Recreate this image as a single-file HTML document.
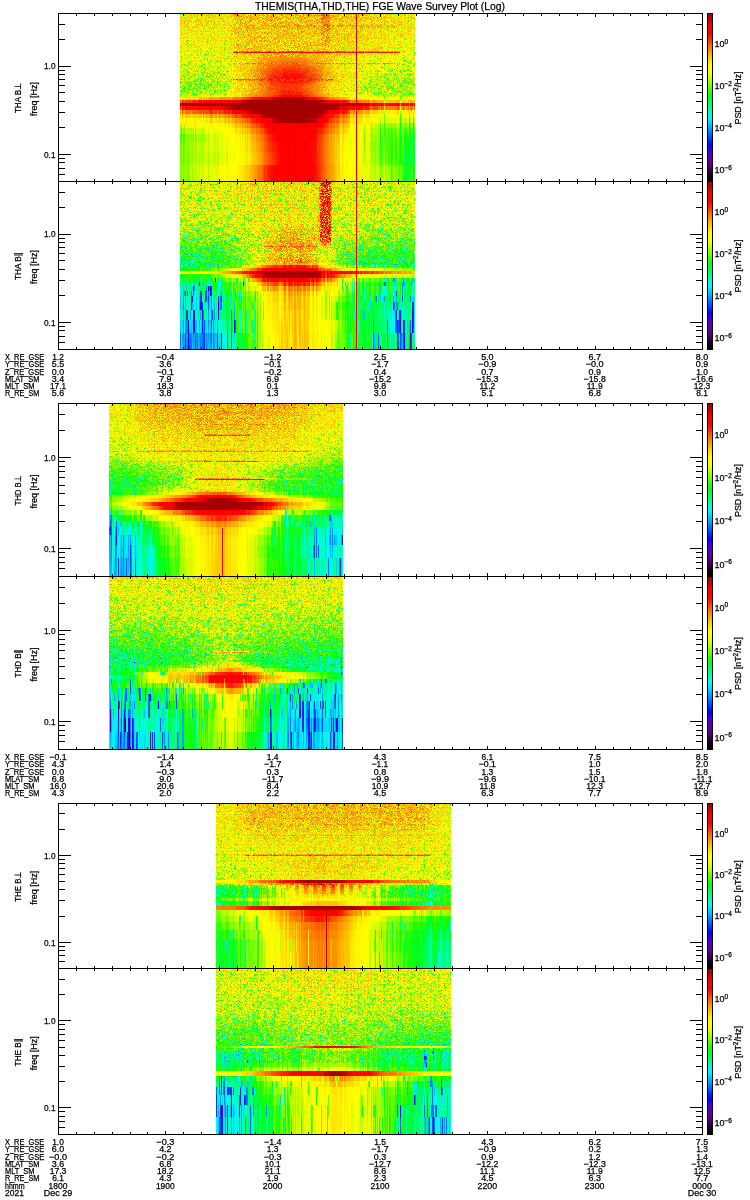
<!DOCTYPE html>
<html lang="en"><head><meta charset="utf-8"><title>THEMIS FGE Wave Survey Plot</title>
<style>html,body{margin:0;padding:0;background:#fff}svg{display:block}</style></head><body>
<svg width="750" height="1200" viewBox="0 0 750 1200">
<rect width="750" height="1200" fill="#fff"/>
<defs><filter id="p1F" filterUnits="userSpaceOnUse" x="180" y="13" width="235" height="168" color-interpolation-filters="sRGB">
<feTurbulence type="fractalNoise" baseFrequency="1.7 1.3" numOctaves="1" seed="3" result="t1"/>
<feColorMatrix in="t1" type="matrix" values="2 0 0 0 -.5  2 0 0 0 -.5  2 0 0 0 -.5  0 0 0 0 1" result="n0"/>
<feComponentTransfer in="n0" result="n1"><feFuncR type="table" tableValues=".115 .169 .220 .269 .316 .360 .401 .441 .478 .513 .547 .578 .608 .637 .663 .689 .713 .736 .758 .778 .798 .817 .835 .852 .868 .884 .899 .913 .927 .940 .953 .966 .977"/><feFuncG type="table" tableValues=".115 .169 .220 .269 .316 .360 .401 .441 .478 .513 .547 .578 .608 .637 .663 .689 .713 .736 .758 .778 .798 .817 .835 .852 .868 .884 .899 .913 .927 .940 .953 .966 .977"/><feFuncB type="table" tableValues=".115 .169 .220 .269 .316 .360 .401 .441 .478 .513 .547 .578 .608 .637 .663 .689 .713 .736 .758 .778 .798 .817 .835 .852 .868 .884 .899 .913 .927 .940 .953 .966 .977"/></feComponentTransfer>
<feTurbulence type="fractalNoise" baseFrequency="1.7 0.012" numOctaves="1" seed="10" result="t2"/>
<feColorMatrix in="t2" type="matrix" values="2 0 0 0 -.5  2 0 0 0 -.5  2 0 0 0 -.5  0 0 0 0 1" result="n20"/>
<feComponentTransfer in="n20" result="n2"><feFuncR type="table" tableValues=".115 .169 .220 .269 .316 .360 .401 .441 .478 .513 .547 .578 .608 .637 .663 .689 .713 .736 .758 .778 .798 .817 .835 .852 .868 .884 .899 .913 .927 .940 .953 .966 .977"/><feFuncG type="table" tableValues=".115 .169 .220 .269 .316 .360 .401 .441 .478 .513 .547 .578 .608 .637 .663 .689 .713 .736 .758 .778 .798 .817 .835 .852 .868 .884 .899 .913 .927 .940 .953 .966 .977"/><feFuncB type="table" tableValues=".115 .169 .220 .269 .316 .360 .401 .441 .478 .513 .547 .578 .608 .637 .663 .689 .713 .736 .758 .778 .798 .817 .835 .852 .868 .884 .899 .913 .927 .940 .953 .966 .977"/></feComponentTransfer>
<feColorMatrix in="SourceGraphic" type="matrix" values="0 1 0 0 0  0 1 0 0 0  0 1 0 0 0  0 0 0 1 0" result="a1"/>
<feColorMatrix in="SourceGraphic" type="matrix" values="0 0 1 0 0  0 0 1 0 0  0 0 1 0 0  0 0 0 1 0" result="a2"/>
<feColorMatrix in="SourceGraphic" type="matrix" values="1 -.7 -.7 0 0  1 -.7 -.7 0 0  1 -.7 -.7 0 0  0 0 0 1 0" result="v"/>
<feComposite in="a1" in2="n1" operator="arithmetic" k1="1" k2="0" k3="0" k4="0" result="m1"/>
<feComposite in="a2" in2="n2" operator="arithmetic" k1="1" k2="0" k3="0" k4="0" result="m2"/>
<feComposite in="v" in2="m1" operator="arithmetic" k1="0" k2="1" k3="1" k4="0" result="v3"/>
<feComposite in="v3" in2="m2" operator="arithmetic" k1="0" k2="1" k3="1" k4="0" result="v4"/>
<feComponentTransfer in="v4"><feFuncR type="table" tableValues="0 0 0 0 0 0 0 0 0 0.01 0.08 0.23 0.32 0.39 0.34 0.28 0.13 0 0 0 0 0 0 0 0 0 0 0 0 0.08 0.28 0.48 0.65 0.84 1 1 1 1 1 1 1 1 1 1 1 0.97 0.79 0.7 0.65 0.65 0.65 0.65 0.65 0.65 0.65 0.65 0.65"/><feFuncG type="table" tableValues="0 0 0 0 0 0 0 0 0 0 0 0 0 0 0 0 0 0.03 0.19 0.36 0.5 0.65 0.8 0.95 1 1 1 1 1 1 1 1 1 1 1 1 0.94 0.83 0.71 0.58 0.45 0.32 0.14 0 0 0 0 0 0 0 0 0 0 0 0 0 0"/><feFuncB type="table" tableValues="0 0 0 0 0 0 0 0 0 0.02 0.12 0.32 0.47 0.58 0.73 0.89 0.95 1 1 1 1 1 1 1 0.86 0.67 0.48 0.3 0.12 0 0 0 0 0 0 0 0 0 0 0 0 0 0 0 0 0 0 0 0 0 0 0 0 0 0 0 0"/></feComponentTransfer>
<feComposite in2="SourceGraphic" operator="in"/>
</filter><clipPath id="p1C"><rect x="180" y="13" width="235" height="168"/></clipPath><linearGradient id="p1g1" gradientUnits="userSpaceOnUse" x1="180" y1="0" x2="415" y2="0"><stop offset="0" stop-color="#a53300"/><stop offset=".213" stop-color="#a53300"/><stop offset=".238" stop-color="#ac3300"/><stop offset=".638" stop-color="#ac3300"/><stop offset="1" stop-color="#a33300"/></linearGradient>
<linearGradient id="p1g2" gradientUnits="userSpaceOnUse" x1="180" y1="0" x2="415" y2="0"><stop offset="0" stop-color="#a53300"/><stop offset=".213" stop-color="#a53300"/><stop offset=".238" stop-color="#ac3300"/><stop offset=".574" stop-color="#ac3300"/><stop offset="1" stop-color="#a33300"/></linearGradient>
<linearGradient id="p1g3" gradientUnits="userSpaceOnUse" x1="180" y1="0" x2="415" y2="0"><stop offset="0" stop-color="#a43300"/><stop offset=".213" stop-color="#a43300"/><stop offset=".238" stop-color="#ac3300"/><stop offset=".574" stop-color="#ac3300"/><stop offset="1" stop-color="#a33300"/></linearGradient>
<linearGradient id="p1g4" gradientUnits="userSpaceOnUse" x1="180" y1="0" x2="415" y2="0"><stop offset="0" stop-color="#a43300"/><stop offset=".213" stop-color="#a43300"/><stop offset=".238" stop-color="#ab3300"/><stop offset=".574" stop-color="#ab3300"/><stop offset="1" stop-color="#a23300"/></linearGradient>
<linearGradient id="p1g5" gradientUnits="userSpaceOnUse" x1="180" y1="0" x2="415" y2="0"><stop offset="0" stop-color="#a43300"/><stop offset=".213" stop-color="#a43300"/><stop offset=".238" stop-color="#ab3300"/><stop offset=".574" stop-color="#ab3300"/><stop offset="1" stop-color="#a23300"/></linearGradient>
<linearGradient id="p1g6" gradientUnits="userSpaceOnUse" x1="180" y1="0" x2="415" y2="0"><stop offset="0" stop-color="#a43300"/><stop offset=".213" stop-color="#a43300"/><stop offset=".238" stop-color="#ab3300"/><stop offset=".574" stop-color="#ab3300"/><stop offset="1" stop-color="#a23300"/></linearGradient>
<linearGradient id="p1g7" gradientUnits="userSpaceOnUse" x1="180" y1="0" x2="415" y2="0"><stop offset="0" stop-color="#a43300"/><stop offset=".213" stop-color="#a43300"/><stop offset=".238" stop-color="#ab3300"/><stop offset=".574" stop-color="#ab3300"/><stop offset="1" stop-color="#a23300"/></linearGradient>
<linearGradient id="p1g8" gradientUnits="userSpaceOnUse" x1="180" y1="0" x2="415" y2="0"><stop offset="0" stop-color="#a33300"/><stop offset=".213" stop-color="#a33300"/><stop offset=".238" stop-color="#ab3300"/><stop offset=".574" stop-color="#ab3300"/><stop offset="1" stop-color="#a23300"/></linearGradient>
<linearGradient id="p1g9" gradientUnits="userSpaceOnUse" x1="180" y1="0" x2="415" y2="0"><stop offset="0" stop-color="#a33300"/><stop offset=".213" stop-color="#a33300"/><stop offset=".238" stop-color="#aa3300"/><stop offset=".574" stop-color="#aa3300"/><stop offset=".757" stop-color="#a53300"/><stop offset="1" stop-color="#a13300"/></linearGradient>
<linearGradient id="p1g10" gradientUnits="userSpaceOnUse" x1="180" y1="0" x2="415" y2="0"><stop offset="0" stop-color="#a33300"/><stop offset=".213" stop-color="#a33300"/><stop offset=".238" stop-color="#aa3300"/><stop offset=".574" stop-color="#aa3300"/><stop offset=".757" stop-color="#a53300"/><stop offset="1" stop-color="#a13300"/></linearGradient>
<linearGradient id="p1g11" gradientUnits="userSpaceOnUse" x1="180" y1="0" x2="415" y2="0"><stop offset="0" stop-color="#a23300"/><stop offset=".213" stop-color="#a23300"/><stop offset=".238" stop-color="#aa3300"/><stop offset=".574" stop-color="#aa3300"/><stop offset="1" stop-color="#a13300"/></linearGradient>
<linearGradient id="p1g12" gradientUnits="userSpaceOnUse" x1="180" y1="0" x2="415" y2="0"><stop offset="0" stop-color="#a23300"/><stop offset=".213" stop-color="#a23300"/><stop offset=".238" stop-color="#a93300"/><stop offset=".574" stop-color="#aa3300"/><stop offset="1" stop-color="#a03300"/></linearGradient>
<linearGradient id="p1g13" gradientUnits="userSpaceOnUse" x1="180" y1="0" x2="415" y2="0"><stop offset="0" stop-color="#a13300"/><stop offset=".213" stop-color="#a23300"/><stop offset=".238" stop-color="#a93300"/><stop offset=".574" stop-color="#aa3300"/><stop offset="1" stop-color="#a03300"/></linearGradient>
<linearGradient id="p1g14" gradientUnits="userSpaceOnUse" x1="180" y1="0" x2="415" y2="0"><stop offset="0" stop-color="#a13300"/><stop offset=".213" stop-color="#a13300"/><stop offset=".238" stop-color="#a93300"/><stop offset=".574" stop-color="#a93300"/><stop offset="1" stop-color="#a03300"/></linearGradient>
<linearGradient id="p1g15" gradientUnits="userSpaceOnUse" x1="180" y1="0" x2="415" y2="0"><stop offset="0" stop-color="#a03300"/><stop offset=".213" stop-color="#a13300"/><stop offset=".238" stop-color="#a83300"/><stop offset=".574" stop-color="#a93300"/><stop offset="1" stop-color="#9f3300"/></linearGradient>
<linearGradient id="p1g16" gradientUnits="userSpaceOnUse" x1="180" y1="0" x2="415" y2="0"><stop offset="0" stop-color="#9f3300"/><stop offset=".213" stop-color="#a13300"/><stop offset=".238" stop-color="#a83300"/><stop offset=".574" stop-color="#a93300"/><stop offset="1" stop-color="#9f3300"/></linearGradient>
<linearGradient id="p1g17" gradientUnits="userSpaceOnUse" x1="180" y1="0" x2="415" y2="0"><stop offset="0" stop-color="#9f3300"/><stop offset=".17" stop-color="#9f3300"/><stop offset=".213" stop-color="#a03300"/><stop offset=".238" stop-color="#a73300"/><stop offset=".319" stop-color="#a93300"/><stop offset=".574" stop-color="#a93300"/><stop offset="1" stop-color="#9f3300"/></linearGradient>
<linearGradient id="p1g18" gradientUnits="userSpaceOnUse" x1="180" y1="0" x2="415" y2="0"><stop offset="0" stop-color="#9e3300"/><stop offset=".17" stop-color="#9e3300"/><stop offset=".213" stop-color="#a03300"/><stop offset=".238" stop-color="#a73300"/><stop offset=".319" stop-color="#a93300"/><stop offset=".574" stop-color="#a93300"/><stop offset="1" stop-color="#9e3300"/></linearGradient>
<linearGradient id="p1g19" gradientUnits="userSpaceOnUse" x1="180" y1="0" x2="415" y2="0"><stop offset="0" stop-color="#9e3300"/><stop offset=".17" stop-color="#9e3300"/><stop offset=".213" stop-color="#a03300"/><stop offset=".238" stop-color="#a73300"/><stop offset=".319" stop-color="#a93300"/><stop offset=".574" stop-color="#a93300"/><stop offset="1" stop-color="#9e3300"/></linearGradient>
<linearGradient id="p1g20" gradientUnits="userSpaceOnUse" x1="180" y1="0" x2="415" y2="0"><stop offset="0" stop-color="#9d3300"/><stop offset=".17" stop-color="#9d3300"/><stop offset=".213" stop-color="#9f3300"/><stop offset=".238" stop-color="#a63300"/><stop offset=".447" stop-color="#ab3300"/><stop offset=".574" stop-color="#aa3300"/><stop offset=".809" stop-color="#a13300"/><stop offset=".894" stop-color="#a13300"/><stop offset="1" stop-color="#9d3300"/></linearGradient>
<linearGradient id="p1g21" gradientUnits="userSpaceOnUse" x1="180" y1="0" x2="415" y2="0"><stop offset="0" stop-color="#9d3300"/><stop offset=".17" stop-color="#9d3300"/><stop offset=".213" stop-color="#9e3300"/><stop offset=".238" stop-color="#a63300"/><stop offset=".447" stop-color="#ad3300"/><stop offset=".574" stop-color="#ab3300"/><stop offset=".809" stop-color="#a03300"/><stop offset="1" stop-color="#9d3300"/></linearGradient>
<linearGradient id="p1g22" gradientUnits="userSpaceOnUse" x1="180" y1="0" x2="415" y2="0"><stop offset="0" stop-color="#9c3300"/><stop offset=".17" stop-color="#9c3300"/><stop offset=".213" stop-color="#9e3300"/><stop offset=".238" stop-color="#a53300"/><stop offset=".383" stop-color="#ae3300"/><stop offset=".447" stop-color="#b03300"/><stop offset=".511" stop-color="#b03300"/><stop offset=".757" stop-color="#a13300"/><stop offset="1" stop-color="#9c3300"/></linearGradient>
<linearGradient id="p1g23" gradientUnits="userSpaceOnUse" x1="180" y1="0" x2="415" y2="0"><stop offset="0" stop-color="#9b3300"/><stop offset=".17" stop-color="#9b3300"/><stop offset=".213" stop-color="#9d3300"/><stop offset=".238" stop-color="#a42e00"/><stop offset=".383" stop-color="#b00d00"/><stop offset=".447" stop-color="#b20a00"/><stop offset=".511" stop-color="#b20a00"/><stop offset=".574" stop-color="#ad0f00"/><stop offset=".702" stop-color="#a33300"/><stop offset=".757" stop-color="#a03300"/><stop offset="1" stop-color="#9b3300"/></linearGradient>
<linearGradient id="p1g24" gradientUnits="userSpaceOnUse" x1="180" y1="0" x2="415" y2="0"><stop offset="0" stop-color="#9b3300"/><stop offset=".17" stop-color="#9b3300"/><stop offset=".213" stop-color="#9d3300"/><stop offset=".238" stop-color="#a42e00"/><stop offset=".383" stop-color="#b10d00"/><stop offset=".447" stop-color="#b40a00"/><stop offset=".511" stop-color="#b40a00"/><stop offset=".574" stop-color="#af0f00"/><stop offset=".702" stop-color="#a23300"/><stop offset=".757" stop-color="#9f3300"/><stop offset="1" stop-color="#9b3300"/></linearGradient>
<linearGradient id="p1g25" gradientUnits="userSpaceOnUse" x1="180" y1="0" x2="415" y2="0"><stop offset="0" stop-color="#9a3300"/><stop offset=".17" stop-color="#9a3300"/><stop offset=".213" stop-color="#9c3300"/><stop offset=".238" stop-color="#a32e00"/><stop offset=".319" stop-color="#aa1a00"/><stop offset=".383" stop-color="#b30d00"/><stop offset=".447" stop-color="#b70a00"/><stop offset=".511" stop-color="#b70a00"/><stop offset=".574" stop-color="#b00f00"/><stop offset=".702" stop-color="#a13300"/><stop offset=".757" stop-color="#9e3300"/><stop offset="1" stop-color="#9a3300"/></linearGradient>
<linearGradient id="p1g26" gradientUnits="userSpaceOnUse" x1="180" y1="0" x2="415" y2="0"><stop offset="0" stop-color="#993300"/><stop offset=".17" stop-color="#993300"/><stop offset=".213" stop-color="#9b3300"/><stop offset=".238" stop-color="#a32e00"/><stop offset=".319" stop-color="#ab1a00"/><stop offset=".383" stop-color="#b50d00"/><stop offset=".447" stop-color="#b90a00"/><stop offset=".511" stop-color="#b90a00"/><stop offset=".574" stop-color="#b10f00"/><stop offset=".702" stop-color="#a13300"/><stop offset=".757" stop-color="#9d3300"/><stop offset="1" stop-color="#9a3300"/></linearGradient>
<linearGradient id="p1g27" gradientUnits="userSpaceOnUse" x1="180" y1="0" x2="415" y2="0"><stop offset="0" stop-color="#983300"/><stop offset=".17" stop-color="#983300"/><stop offset=".213" stop-color="#9a3300"/><stop offset=".238" stop-color="#a32e00"/><stop offset=".319" stop-color="#ac1a00"/><stop offset=".383" stop-color="#b70d00"/><stop offset=".447" stop-color="#ba0a00"/><stop offset=".511" stop-color="#ba0a00"/><stop offset=".574" stop-color="#b30f00"/><stop offset=".702" stop-color="#a13300"/><stop offset=".757" stop-color="#9d3300"/><stop offset="1" stop-color="#993300"/></linearGradient>
<linearGradient id="p1g28" gradientUnits="userSpaceOnUse" x1="180" y1="0" x2="415" y2="0"><stop offset="0" stop-color="#983300"/><stop offset=".17" stop-color="#983300"/><stop offset=".213" stop-color="#993300"/><stop offset=".238" stop-color="#a32e00"/><stop offset=".319" stop-color="#ad1a00"/><stop offset=".383" stop-color="#b90d00"/><stop offset=".447" stop-color="#bc0a00"/><stop offset=".511" stop-color="#bc0a00"/><stop offset=".574" stop-color="#b50f00"/><stop offset=".702" stop-color="#a13300"/><stop offset=".757" stop-color="#9d3300"/><stop offset="1" stop-color="#993300"/></linearGradient>
<linearGradient id="p1g29" gradientUnits="userSpaceOnUse" x1="180" y1="0" x2="415" y2="0"><stop offset="0" stop-color="#973300"/><stop offset=".17" stop-color="#973300"/><stop offset=".213" stop-color="#983300"/><stop offset=".238" stop-color="#a32e00"/><stop offset=".319" stop-color="#ae1a00"/><stop offset=".383" stop-color="#ba0d00"/><stop offset=".447" stop-color="#be0a00"/><stop offset=".511" stop-color="#be0a00"/><stop offset=".574" stop-color="#b70f00"/><stop offset=".638" stop-color="#aa1f00"/><stop offset=".702" stop-color="#a13300"/><stop offset=".757" stop-color="#9c3300"/><stop offset="1" stop-color="#983300"/></linearGradient>
<linearGradient id="p1g30" gradientUnits="userSpaceOnUse" x1="180" y1="0" x2="415" y2="0"><stop offset="0" stop-color="#963300"/><stop offset=".17" stop-color="#963300"/><stop offset=".213" stop-color="#983300"/><stop offset=".238" stop-color="#a32e00"/><stop offset=".319" stop-color="#ae1a00"/><stop offset=".383" stop-color="#bb0d00"/><stop offset=".447" stop-color="#bf0a00"/><stop offset=".511" stop-color="#bf0a00"/><stop offset=".574" stop-color="#b80f00"/><stop offset=".638" stop-color="#ab1f00"/><stop offset=".702" stop-color="#a23300"/><stop offset=".757" stop-color="#9c3300"/><stop offset="1" stop-color="#973300"/></linearGradient>
<linearGradient id="p1g31" gradientUnits="userSpaceOnUse" x1="180" y1="0" x2="415" y2="0"><stop offset="0" stop-color="#953300"/><stop offset=".17" stop-color="#953300"/><stop offset=".213" stop-color="#983300"/><stop offset=".238" stop-color="#a32e00"/><stop offset=".319" stop-color="#ae1a00"/><stop offset=".383" stop-color="#bc0d00"/><stop offset=".447" stop-color="#c10a00"/><stop offset=".511" stop-color="#c10a00"/><stop offset=".574" stop-color="#b90f00"/><stop offset=".638" stop-color="#ab1f00"/><stop offset=".702" stop-color="#a23300"/><stop offset=".757" stop-color="#9b3300"/><stop offset=".809" stop-color="#983300"/><stop offset="1" stop-color="#963300"/></linearGradient>
<linearGradient id="p1g32" gradientUnits="userSpaceOnUse" x1="180" y1="0" x2="415" y2="0"><stop offset="0" stop-color="#943300"/><stop offset=".17" stop-color="#943300"/><stop offset=".213" stop-color="#973300"/><stop offset=".238" stop-color="#a32e00"/><stop offset=".319" stop-color="#ae1a00"/><stop offset=".383" stop-color="#bd0d00"/><stop offset=".447" stop-color="#c20a00"/><stop offset=".511" stop-color="#c20a00"/><stop offset=".574" stop-color="#ba0f00"/><stop offset=".638" stop-color="#ac1f00"/><stop offset=".702" stop-color="#a33300"/><stop offset=".757" stop-color="#9b3300"/><stop offset=".809" stop-color="#983300"/><stop offset="1" stop-color="#943300"/></linearGradient>
<linearGradient id="p1g33" gradientUnits="userSpaceOnUse" x1="180" y1="0" x2="415" y2="0"><stop offset="0" stop-color="#933300"/><stop offset=".17" stop-color="#933300"/><stop offset=".213" stop-color="#973300"/><stop offset=".238" stop-color="#a32e00"/><stop offset=".319" stop-color="#ae1a00"/><stop offset=".383" stop-color="#be0d00"/><stop offset=".447" stop-color="#c30a00"/><stop offset=".511" stop-color="#c30a00"/><stop offset=".574" stop-color="#ba0f00"/><stop offset=".638" stop-color="#ac1f00"/><stop offset=".702" stop-color="#a33300"/><stop offset=".757" stop-color="#9a3300"/><stop offset=".809" stop-color="#973300"/><stop offset="1" stop-color="#933300"/></linearGradient>
<linearGradient id="p1g34" gradientUnits="userSpaceOnUse" x1="180" y1="0" x2="415" y2="0"><stop offset="0" stop-color="#933300"/><stop offset=".17" stop-color="#933300"/><stop offset=".213" stop-color="#973300"/><stop offset=".238" stop-color="#a32e00"/><stop offset=".319" stop-color="#ad1a00"/><stop offset=".383" stop-color="#bd0d00"/><stop offset=".447" stop-color="#c20a00"/><stop offset=".511" stop-color="#c20a00"/><stop offset=".574" stop-color="#b90f00"/><stop offset=".638" stop-color="#ab1f00"/><stop offset=".702" stop-color="#a23300"/><stop offset=".757" stop-color="#993300"/><stop offset=".809" stop-color="#963300"/><stop offset="1" stop-color="#923300"/></linearGradient>
<linearGradient id="p1g35" gradientUnits="userSpaceOnUse" x1="180" y1="0" x2="415" y2="0"><stop offset="0" stop-color="#923300"/><stop offset=".17" stop-color="#923300"/><stop offset=".213" stop-color="#973300"/><stop offset=".238" stop-color="#a32e00"/><stop offset=".319" stop-color="#ad1a00"/><stop offset=".383" stop-color="#bb0d00"/><stop offset=".447" stop-color="#c10a00"/><stop offset=".511" stop-color="#c00a00"/><stop offset=".574" stop-color="#b70f00"/><stop offset=".638" stop-color="#a91f00"/><stop offset=".702" stop-color="#a13300"/><stop offset=".757" stop-color="#983300"/><stop offset=".809" stop-color="#953300"/><stop offset="1" stop-color="#913300"/></linearGradient>
<linearGradient id="p1g36" gradientUnits="userSpaceOnUse" x1="180" y1="0" x2="415" y2="0"><stop offset="0" stop-color="#923300"/><stop offset=".17" stop-color="#923300"/><stop offset=".213" stop-color="#973300"/><stop offset=".238" stop-color="#a32e00"/><stop offset=".319" stop-color="#ad1a00"/><stop offset=".383" stop-color="#ba0d00"/><stop offset=".447" stop-color="#bf0a00"/><stop offset=".511" stop-color="#be0a00"/><stop offset=".574" stop-color="#b50f00"/><stop offset=".638" stop-color="#a81f00"/><stop offset=".702" stop-color="#9f3300"/><stop offset=".757" stop-color="#983300"/><stop offset=".809" stop-color="#943300"/><stop offset="1" stop-color="#903300"/></linearGradient>
<linearGradient id="p1g37" gradientUnits="userSpaceOnUse" x1="180" y1="0" x2="415" y2="0"><stop offset="0" stop-color="#913300"/><stop offset=".17" stop-color="#913300"/><stop offset=".213" stop-color="#973300"/><stop offset=".238" stop-color="#a32e00"/><stop offset=".319" stop-color="#ac1a00"/><stop offset=".383" stop-color="#b90d00"/><stop offset=".447" stop-color="#be0a00"/><stop offset=".511" stop-color="#bc0a00"/><stop offset=".574" stop-color="#b30f00"/><stop offset=".638" stop-color="#a71f00"/><stop offset=".702" stop-color="#9e3300"/><stop offset=".757" stop-color="#973300"/><stop offset=".809" stop-color="#933300"/><stop offset="1" stop-color="#903300"/></linearGradient>
<linearGradient id="p1g38" gradientUnits="userSpaceOnUse" x1="180" y1="0" x2="415" y2="0"><stop offset="0" stop-color="#923300"/><stop offset=".17" stop-color="#923300"/><stop offset=".213" stop-color="#983300"/><stop offset=".238" stop-color="#a32e00"/><stop offset=".319" stop-color="#ad1a00"/><stop offset=".383" stop-color="#b90d00"/><stop offset=".447" stop-color="#be0a00"/><stop offset=".511" stop-color="#bd0a00"/><stop offset=".574" stop-color="#b40f00"/><stop offset=".638" stop-color="#a71f00"/><stop offset=".702" stop-color="#9e3300"/><stop offset=".757" stop-color="#973300"/><stop offset=".809" stop-color="#943300"/><stop offset="1" stop-color="#903300"/></linearGradient>
<linearGradient id="p1g39" gradientUnits="userSpaceOnUse" x1="180" y1="0" x2="415" y2="0"><stop offset="0" stop-color="#923300"/><stop offset=".17" stop-color="#933300"/><stop offset=".213" stop-color="#993300"/><stop offset=".238" stop-color="#a32e00"/><stop offset=".319" stop-color="#ad1a00"/><stop offset=".383" stop-color="#b90d00"/><stop offset=".447" stop-color="#bf0a00"/><stop offset=".511" stop-color="#be0a00"/><stop offset=".574" stop-color="#b40f00"/><stop offset=".638" stop-color="#a71f00"/><stop offset=".702" stop-color="#9f3300"/><stop offset=".757" stop-color="#983300"/><stop offset=".809" stop-color="#943300"/><stop offset="1" stop-color="#913300"/></linearGradient>
<linearGradient id="p1g40" gradientUnits="userSpaceOnUse" x1="180" y1="0" x2="415" y2="0"><stop offset="0" stop-color="#933300"/><stop offset=".17" stop-color="#943300"/><stop offset=".213" stop-color="#9a3300"/><stop offset=".238" stop-color="#a32e00"/><stop offset=".319" stop-color="#ae1a00"/><stop offset=".383" stop-color="#b90d00"/><stop offset=".447" stop-color="#c00a00"/><stop offset=".511" stop-color="#bf0a00"/><stop offset=".574" stop-color="#b50f00"/><stop offset=".638" stop-color="#a71f00"/><stop offset=".702" stop-color="#9f3300"/><stop offset=".757" stop-color="#983300"/><stop offset=".809" stop-color="#953300"/><stop offset="1" stop-color="#913300"/></linearGradient>
<linearGradient id="p1g41" gradientUnits="userSpaceOnUse" x1="180" y1="0" x2="415" y2="0"><stop offset="0" stop-color="#933300"/><stop offset=".17" stop-color="#953300"/><stop offset=".213" stop-color="#9a3300"/><stop offset=".238" stop-color="#a32e00"/><stop offset=".383" stop-color="#b90d00"/><stop offset=".447" stop-color="#c00a00"/><stop offset=".511" stop-color="#c00a00"/><stop offset=".574" stop-color="#b50f00"/><stop offset=".638" stop-color="#a71f00"/><stop offset=".702" stop-color="#a03300"/><stop offset=".757" stop-color="#983300"/><stop offset=".809" stop-color="#953300"/><stop offset="1" stop-color="#913300"/></linearGradient>
<linearGradient id="p1g42" gradientUnits="userSpaceOnUse" x1="180" y1="0" x2="415" y2="0"><stop offset="0" stop-color="#950013"/><stop offset=".085" stop-color="#980013"/><stop offset=".213" stop-color="#a1000d"/><stop offset=".383" stop-color="#bc0004"/><stop offset=".447" stop-color="#c30002"/><stop offset=".511" stop-color="#c30002"/><stop offset=".574" stop-color="#b90004"/><stop offset=".638" stop-color="#a90008"/><stop offset=".757" stop-color="#9a0013"/><stop offset=".809" stop-color="#97001b"/><stop offset="1" stop-color="#930026"/></linearGradient>
<linearGradient id="p1g43" gradientUnits="userSpaceOnUse" x1="180" y1="0" x2="415" y2="0"><stop offset="0" stop-color="#a30013"/><stop offset=".085" stop-color="#a90013"/><stop offset=".17" stop-color="#b1000f"/><stop offset=".238" stop-color="#b5000b"/><stop offset=".383" stop-color="#cc0004"/><stop offset=".447" stop-color="#dc0002"/><stop offset=".511" stop-color="#d80002"/><stop offset=".638" stop-color="#b50008"/><stop offset=".702" stop-color="#ac000d"/><stop offset=".757" stop-color="#a10013"/><stop offset=".809" stop-color="#9e001b"/><stop offset="1" stop-color="#980026"/></linearGradient>
<linearGradient id="p1g44" gradientUnits="userSpaceOnUse" x1="180" y1="0" x2="415" y2="0"><stop offset="0" stop-color="#bc0013"/><stop offset=".238" stop-color="#cc000b"/><stop offset=".319" stop-color="#e00008"/><stop offset=".383" stop-color="#e40004"/><stop offset=".511" stop-color="#e40002"/><stop offset=".574" stop-color="#dc0004"/><stop offset=".638" stop-color="#c90008"/><stop offset=".702" stop-color="#c0000d"/><stop offset=".757" stop-color="#b50013"/><stop offset=".894" stop-color="#aa0022"/><stop offset="1" stop-color="#a70026"/></linearGradient>
<linearGradient id="p1g45" gradientUnits="userSpaceOnUse" x1="180" y1="0" x2="415" y2="0"><stop offset="0" stop-color="#dc0013"/><stop offset=".085" stop-color="#dc0013"/><stop offset=".213" stop-color="#e0000d"/><stop offset=".238" stop-color="#e4000b"/><stop offset=".574" stop-color="#e40004"/><stop offset=".638" stop-color="#e00008"/><stop offset=".702" stop-color="#e0000d"/><stop offset=".757" stop-color="#d40013"/><stop offset=".809" stop-color="#cc001b"/><stop offset="1" stop-color="#c30026"/></linearGradient>
<linearGradient id="p1g46" gradientUnits="userSpaceOnUse" x1="180" y1="0" x2="415" y2="0"><stop offset="0" stop-color="#c30013"/><stop offset=".17" stop-color="#ca000f"/><stop offset=".238" stop-color="#dc000b"/><stop offset=".319" stop-color="#e40008"/><stop offset=".574" stop-color="#e40004"/><stop offset=".638" stop-color="#dc0008"/><stop offset=".702" stop-color="#cc000d"/><stop offset=".809" stop-color="#bc001b"/><stop offset=".894" stop-color="#b50022"/><stop offset="1" stop-color="#b10026"/></linearGradient>
<linearGradient id="p1g47" gradientUnits="userSpaceOnUse" x1="180" y1="0" x2="415" y2="0"><stop offset="0" stop-color="#b50013"/><stop offset=".17" stop-color="#be000f"/><stop offset=".238" stop-color="#c7000b"/><stop offset=".319" stop-color="#d80008"/><stop offset=".383" stop-color="#e00004"/><stop offset=".447" stop-color="#e40002"/><stop offset=".511" stop-color="#e40002"/><stop offset=".574" stop-color="#e00004"/><stop offset=".638" stop-color="#cc0008"/><stop offset=".702" stop-color="#c0000d"/><stop offset=".757" stop-color="#b10013"/><stop offset=".809" stop-color="#aa001b"/><stop offset=".894" stop-color="#a30022"/><stop offset="1" stop-color="#a00026"/></linearGradient>
<linearGradient id="p1g48" gradientUnits="userSpaceOnUse" x1="180" y1="0" x2="415" y2="0"><stop offset="0" stop-color="#a90013"/><stop offset=".085" stop-color="#aa0013"/><stop offset=".17" stop-color="#b1000f"/><stop offset=".238" stop-color="#ba000b"/><stop offset=".319" stop-color="#c90008"/><stop offset=".383" stop-color="#dc0004"/><stop offset=".447" stop-color="#e40002"/><stop offset=".511" stop-color="#e40002"/><stop offset=".574" stop-color="#dc0004"/><stop offset=".638" stop-color="#c30008"/><stop offset=".757" stop-color="#a90013"/><stop offset=".809" stop-color="#a1001b"/><stop offset="1" stop-color="#970026"/></linearGradient>
<linearGradient id="p1g49" gradientUnits="userSpaceOnUse" x1="180" y1="0" x2="415" y2="0"><stop offset="0" stop-color="#a00013"/><stop offset=".085" stop-color="#a10013"/><stop offset=".17" stop-color="#a9000f"/><stop offset=".238" stop-color="#b1000b"/><stop offset=".383" stop-color="#cc0004"/><stop offset=".447" stop-color="#e00002"/><stop offset=".511" stop-color="#e00002"/><stop offset=".574" stop-color="#d40004"/><stop offset=".638" stop-color="#be0008"/><stop offset=".757" stop-color="#a50013"/><stop offset=".809" stop-color="#9e001b"/><stop offset="1" stop-color="#910026"/></linearGradient>
<linearGradient id="p1g50" gradientUnits="userSpaceOnUse" x1="180" y1="0" x2="415" y2="0"><stop offset="0" stop-color="#970013"/><stop offset=".17" stop-color="#a1000f"/><stop offset=".238" stop-color="#aa000b"/><stop offset=".319" stop-color="#b90008"/><stop offset=".383" stop-color="#c70004"/><stop offset=".447" stop-color="#cc0002"/><stop offset=".511" stop-color="#cc0002"/><stop offset=".574" stop-color="#ca0004"/><stop offset=".638" stop-color="#b90008"/><stop offset=".702" stop-color="#aa000d"/><stop offset=".809" stop-color="#97001b"/><stop offset="1" stop-color="#8a0026"/></linearGradient>
<linearGradient id="p1g51" gradientUnits="userSpaceOnUse" x1="180" y1="0" x2="415" y2="0"><stop offset="0" stop-color="#900013"/><stop offset=".085" stop-color="#950013"/><stop offset=".213" stop-color="#a1000d"/><stop offset=".319" stop-color="#b30008"/><stop offset=".383" stop-color="#c30004"/><stop offset=".447" stop-color="#c90002"/><stop offset=".511" stop-color="#c90002"/><stop offset=".574" stop-color="#c50004"/><stop offset=".702" stop-color="#a7000d"/><stop offset=".809" stop-color="#95001b"/><stop offset=".894" stop-color="#8c0022"/><stop offset="1" stop-color="#850026"/></linearGradient>
<linearGradient id="p1g52" gradientUnits="userSpaceOnUse" x1="180" y1="0" x2="415" y2="0"><stop offset="0" stop-color="#8a0013"/><stop offset=".085" stop-color="#900013"/><stop offset=".238" stop-color="#a1000b"/><stop offset=".319" stop-color="#ae0008"/><stop offset=".383" stop-color="#c00004"/><stop offset=".447" stop-color="#c90002"/><stop offset=".511" stop-color="#c90002"/><stop offset=".574" stop-color="#c30004"/><stop offset=".638" stop-color="#b10008"/><stop offset=".702" stop-color="#a3000d"/><stop offset=".809" stop-color="#93001b"/><stop offset="1" stop-color="#800026"/></linearGradient>
<linearGradient id="p1g53" gradientUnits="userSpaceOnUse" x1="180" y1="0" x2="415" y2="0"><stop offset="0" stop-color="#8c0013"/><stop offset=".213" stop-color="#9c000d"/><stop offset=".319" stop-color="#ac0008"/><stop offset=".383" stop-color="#be0004"/><stop offset=".447" stop-color="#c70002"/><stop offset=".511" stop-color="#c90002"/><stop offset=".574" stop-color="#c20004"/><stop offset=".638" stop-color="#b00008"/><stop offset=".702" stop-color="#a1000d"/><stop offset=".757" stop-color="#9c0013"/><stop offset=".809" stop-color="#91001b"/><stop offset="1" stop-color="#800026"/></linearGradient>
<linearGradient id="p1g54" gradientUnits="userSpaceOnUse" x1="180" y1="0" x2="415" y2="0"><stop offset="0" stop-color="#8c0013"/><stop offset=".213" stop-color="#9a000d"/><stop offset=".319" stop-color="#aa0008"/><stop offset=".383" stop-color="#bc0004"/><stop offset=".447" stop-color="#c70002"/><stop offset=".511" stop-color="#c90002"/><stop offset=".574" stop-color="#c20004"/><stop offset=".638" stop-color="#b00008"/><stop offset=".702" stop-color="#a1000d"/><stop offset=".757" stop-color="#9c0013"/><stop offset=".809" stop-color="#93001b"/><stop offset=".894" stop-color="#880022"/><stop offset="1" stop-color="#800026"/></linearGradient>
<linearGradient id="p1g55" gradientUnits="userSpaceOnUse" x1="180" y1="0" x2="415" y2="0"><stop offset="0" stop-color="#8e0013"/><stop offset=".238" stop-color="#a0000b"/><stop offset=".319" stop-color="#b00008"/><stop offset=".383" stop-color="#c20004"/><stop offset=".447" stop-color="#c90002"/><stop offset=".511" stop-color="#c90002"/><stop offset=".574" stop-color="#c30004"/><stop offset=".638" stop-color="#b10008"/><stop offset=".702" stop-color="#a3000d"/><stop offset=".757" stop-color="#9e0013"/><stop offset=".809" stop-color="#95001b"/><stop offset="1" stop-color="#830026"/></linearGradient>
<linearGradient id="p1g56" gradientUnits="userSpaceOnUse" x1="0" y1="13" x2="0" y2="53"><stop offset="0" stop-color="#b53d00" stop-opacity="0.8"/><stop offset=".675" stop-color="#b13d00" stop-opacity="0.6"/><stop offset="1" stop-color="#ac3d00" stop-opacity="0"/></linearGradient></defs>
<g filter="url(#p1F)"><g clip-path="url(#p1C)">
<rect x="180" y="13" width="235" height="168" fill="#910000"/>
<rect x="180" y="13" width="235" height="2" fill="url(#p1g1)"/>
<rect x="180" y="15" width="235" height="2" fill="url(#p1g2)"/>
<rect x="180" y="17" width="235" height="2" fill="url(#p1g3)"/>
<rect x="180" y="19" width="235" height="2" fill="url(#p1g4)"/>
<rect x="180" y="21" width="235" height="2" fill="url(#p1g5)"/>
<rect x="180" y="23" width="235" height="2" fill="url(#p1g6)"/>
<rect x="180" y="25" width="235" height="2" fill="url(#p1g7)"/>
<rect x="180" y="27" width="235" height="2" fill="url(#p1g8)"/>
<rect x="180" y="29" width="235" height="2" fill="url(#p1g9)"/>
<rect x="180" y="31" width="235" height="2" fill="url(#p1g10)"/>
<rect x="180" y="33" width="235" height="2" fill="url(#p1g11)"/>
<rect x="180" y="35" width="235" height="2" fill="url(#p1g12)"/>
<rect x="180" y="37" width="235" height="2" fill="url(#p1g13)"/>
<rect x="180" y="39" width="235" height="2" fill="url(#p1g14)"/>
<rect x="180" y="41" width="235" height="2" fill="url(#p1g15)"/>
<rect x="180" y="43" width="235" height="2" fill="url(#p1g16)"/>
<rect x="180" y="45" width="235" height="2" fill="url(#p1g17)"/>
<rect x="180" y="47" width="235" height="2" fill="url(#p1g18)"/>
<rect x="180" y="49" width="235" height="2" fill="url(#p1g19)"/>
<rect x="180" y="51" width="235" height="2" fill="url(#p1g20)"/>
<rect x="180" y="53" width="235" height="2" fill="url(#p1g21)"/>
<rect x="180" y="55" width="235" height="2" fill="url(#p1g22)"/>
<rect x="180" y="57" width="235" height="2" fill="url(#p1g23)"/>
<rect x="180" y="59" width="235" height="2" fill="url(#p1g24)"/>
<rect x="180" y="61" width="235" height="2" fill="url(#p1g25)"/>
<rect x="180" y="63" width="235" height="2" fill="url(#p1g26)"/>
<rect x="180" y="65" width="235" height="2" fill="url(#p1g27)"/>
<rect x="180" y="67" width="235" height="2" fill="url(#p1g28)"/>
<rect x="180" y="69" width="235" height="2" fill="url(#p1g29)"/>
<rect x="180" y="71" width="235" height="2" fill="url(#p1g30)"/>
<rect x="180" y="73" width="235" height="2" fill="url(#p1g31)"/>
<rect x="180" y="75" width="235" height="2" fill="url(#p1g32)"/>
<rect x="180" y="77" width="235" height="2" fill="url(#p1g33)"/>
<rect x="180" y="79" width="235" height="2" fill="url(#p1g34)"/>
<rect x="180" y="81" width="235" height="2" fill="url(#p1g35)"/>
<rect x="180" y="83" width="235" height="2" fill="url(#p1g36)"/>
<rect x="180" y="85" width="235" height="2" fill="url(#p1g37)"/>
<rect x="180" y="87" width="235" height="2" fill="url(#p1g38)"/>
<rect x="180" y="89" width="235" height="2" fill="url(#p1g39)"/>
<rect x="180" y="91" width="235" height="2" fill="url(#p1g40)"/>
<rect x="180" y="93" width="235" height="2" fill="url(#p1g41)"/>
<rect x="180" y="95" width="235" height="2" fill="url(#p1g42)"/>
<rect x="180" y="97" width="235" height="3" fill="url(#p1g43)"/>
<rect x="180" y="100" width="235" height="3" fill="url(#p1g44)"/>
<rect x="180" y="103" width="235" height="3" fill="url(#p1g45)"/>
<rect x="180" y="106" width="235" height="4" fill="url(#p1g46)"/>
<rect x="180" y="110" width="235" height="4" fill="url(#p1g47)"/>
<rect x="180" y="114" width="235" height="4" fill="url(#p1g48)"/>
<rect x="180" y="118" width="235" height="5" fill="url(#p1g49)"/>
<rect x="180" y="123" width="235" height="5" fill="url(#p1g50)"/>
<rect x="180" y="128" width="235" height="6" fill="url(#p1g51)"/>
<rect x="180" y="134" width="235" height="8" fill="url(#p1g52)"/>
<rect x="180" y="142" width="235" height="10" fill="url(#p1g53)"/>
<rect x="180" y="152" width="235" height="13" fill="url(#p1g54)"/>
<rect x="180" y="165" width="235" height="16" fill="url(#p1g55)"/>
<rect x="321" y="13" width="9" height="40" fill="url(#p1g56)"/>
<rect x="233" y="51.5" width="167" height="1.5" fill="#c31f00"/>
<rect x="233" y="63" width="167" height="1" fill="#b53300" opacity="0.8"/>
<rect x="233" y="79" width="100" height="1.5" fill="#be2900" opacity="0.8"/>
<rect x="270" y="25.5" width="130" height="1" fill="#b93300" opacity="0.7"/>
<rect x="295" y="121" width="1" height="60" fill="#d30000" opacity="0.7"/>
<rect x="356" y="13" width="1" height="168" fill="#d00000"/>
</g></g>
<defs><filter id="p2F" filterUnits="userSpaceOnUse" x="180" y="181" width="235" height="168" color-interpolation-filters="sRGB">
<feTurbulence type="fractalNoise" baseFrequency="1.7 1.3" numOctaves="1" seed="11" result="t1"/>
<feColorMatrix in="t1" type="matrix" values="2 0 0 0 -.5  2 0 0 0 -.5  2 0 0 0 -.5  0 0 0 0 1" result="n0"/>
<feComponentTransfer in="n0" result="n1"><feFuncR type="table" tableValues=".115 .169 .220 .269 .316 .360 .401 .441 .478 .513 .547 .578 .608 .637 .663 .689 .713 .736 .758 .778 .798 .817 .835 .852 .868 .884 .899 .913 .927 .940 .953 .966 .977"/><feFuncG type="table" tableValues=".115 .169 .220 .269 .316 .360 .401 .441 .478 .513 .547 .578 .608 .637 .663 .689 .713 .736 .758 .778 .798 .817 .835 .852 .868 .884 .899 .913 .927 .940 .953 .966 .977"/><feFuncB type="table" tableValues=".115 .169 .220 .269 .316 .360 .401 .441 .478 .513 .547 .578 .608 .637 .663 .689 .713 .736 .758 .778 .798 .817 .835 .852 .868 .884 .899 .913 .927 .940 .953 .966 .977"/></feComponentTransfer>
<feTurbulence type="fractalNoise" baseFrequency="1.7 0.012" numOctaves="1" seed="18" result="t2"/>
<feColorMatrix in="t2" type="matrix" values="2 0 0 0 -.5  2 0 0 0 -.5  2 0 0 0 -.5  0 0 0 0 1" result="n20"/>
<feComponentTransfer in="n20" result="n2"><feFuncR type="table" tableValues=".115 .169 .220 .269 .316 .360 .401 .441 .478 .513 .547 .578 .608 .637 .663 .689 .713 .736 .758 .778 .798 .817 .835 .852 .868 .884 .899 .913 .927 .940 .953 .966 .977"/><feFuncG type="table" tableValues=".115 .169 .220 .269 .316 .360 .401 .441 .478 .513 .547 .578 .608 .637 .663 .689 .713 .736 .758 .778 .798 .817 .835 .852 .868 .884 .899 .913 .927 .940 .953 .966 .977"/><feFuncB type="table" tableValues=".115 .169 .220 .269 .316 .360 .401 .441 .478 .513 .547 .578 .608 .637 .663 .689 .713 .736 .758 .778 .798 .817 .835 .852 .868 .884 .899 .913 .927 .940 .953 .966 .977"/></feComponentTransfer>
<feColorMatrix in="SourceGraphic" type="matrix" values="0 1 0 0 0  0 1 0 0 0  0 1 0 0 0  0 0 0 1 0" result="a1"/>
<feColorMatrix in="SourceGraphic" type="matrix" values="0 0 1 0 0  0 0 1 0 0  0 0 1 0 0  0 0 0 1 0" result="a2"/>
<feColorMatrix in="SourceGraphic" type="matrix" values="1 -.7 -.7 0 0  1 -.7 -.7 0 0  1 -.7 -.7 0 0  0 0 0 1 0" result="v"/>
<feComposite in="a1" in2="n1" operator="arithmetic" k1="1" k2="0" k3="0" k4="0" result="m1"/>
<feComposite in="a2" in2="n2" operator="arithmetic" k1="1" k2="0" k3="0" k4="0" result="m2"/>
<feComposite in="v" in2="m1" operator="arithmetic" k1="0" k2="1" k3="1" k4="0" result="v3"/>
<feComposite in="v3" in2="m2" operator="arithmetic" k1="0" k2="1" k3="1" k4="0" result="v4"/>
<feComponentTransfer in="v4"><feFuncR type="table" tableValues="0 0 0 0 0 0 0 0 0 0.01 0.08 0.23 0.32 0.39 0.34 0.28 0.13 0 0 0 0 0 0 0 0 0 0 0 0 0.08 0.28 0.48 0.65 0.84 1 1 1 1 1 1 1 1 1 1 1 0.97 0.79 0.7 0.65 0.65 0.65 0.65 0.65 0.65 0.65 0.65 0.65"/><feFuncG type="table" tableValues="0 0 0 0 0 0 0 0 0 0 0 0 0 0 0 0 0 0.03 0.19 0.36 0.5 0.65 0.8 0.95 1 1 1 1 1 1 1 1 1 1 1 1 0.94 0.83 0.71 0.58 0.45 0.32 0.14 0 0 0 0 0 0 0 0 0 0 0 0 0 0"/><feFuncB type="table" tableValues="0 0 0 0 0 0 0 0 0 0.02 0.12 0.32 0.47 0.58 0.73 0.89 0.95 1 1 1 1 1 1 1 0.86 0.67 0.48 0.3 0.12 0 0 0 0 0 0 0 0 0 0 0 0 0 0 0 0 0 0 0 0 0 0 0 0 0 0 0 0"/></feComponentTransfer>
<feComposite in2="SourceGraphic" operator="in"/>
</filter><clipPath id="p2C"><rect x="180" y="181" width="235" height="168"/></clipPath><linearGradient id="p2g1" gradientUnits="userSpaceOnUse" x1="180" y1="0" x2="415" y2="0"><stop offset="0" stop-color="#9c4200"/><stop offset=".17" stop-color="#9c4200"/><stop offset=".319" stop-color="#a34200"/><stop offset=".574" stop-color="#a34200"/><stop offset=".757" stop-color="#9c4200"/><stop offset="1" stop-color="#9c4200"/></linearGradient>
<linearGradient id="p2g2" gradientUnits="userSpaceOnUse" x1="180" y1="0" x2="415" y2="0"><stop offset="0" stop-color="#9c4200"/><stop offset=".17" stop-color="#9c4200"/><stop offset=".319" stop-color="#a34200"/><stop offset=".574" stop-color="#a34200"/><stop offset=".757" stop-color="#9c4200"/><stop offset="1" stop-color="#9c4200"/></linearGradient>
<linearGradient id="p2g3" gradientUnits="userSpaceOnUse" x1="180" y1="0" x2="415" y2="0"><stop offset="0" stop-color="#9b4200"/><stop offset=".17" stop-color="#9b4200"/><stop offset=".319" stop-color="#a24200"/><stop offset=".574" stop-color="#a24200"/><stop offset=".757" stop-color="#9c4200"/><stop offset="1" stop-color="#9b4200"/></linearGradient>
<linearGradient id="p2g4" gradientUnits="userSpaceOnUse" x1="180" y1="0" x2="415" y2="0"><stop offset="0" stop-color="#9b4200"/><stop offset=".17" stop-color="#9b4200"/><stop offset=".319" stop-color="#a24200"/><stop offset=".574" stop-color="#a24200"/><stop offset=".702" stop-color="#9d4200"/><stop offset="1" stop-color="#9b4200"/></linearGradient>
<linearGradient id="p2g5" gradientUnits="userSpaceOnUse" x1="180" y1="0" x2="415" y2="0"><stop offset="0" stop-color="#9b4200"/><stop offset=".17" stop-color="#9b4200"/><stop offset=".319" stop-color="#a24200"/><stop offset=".574" stop-color="#a24200"/><stop offset=".702" stop-color="#9d4200"/><stop offset="1" stop-color="#9b4200"/></linearGradient>
<linearGradient id="p2g6" gradientUnits="userSpaceOnUse" x1="180" y1="0" x2="415" y2="0"><stop offset="0" stop-color="#9b4200"/><stop offset=".17" stop-color="#9b4200"/><stop offset=".319" stop-color="#a24200"/><stop offset=".574" stop-color="#a24200"/><stop offset=".702" stop-color="#9c4200"/><stop offset="1" stop-color="#9b4200"/></linearGradient>
<linearGradient id="p2g7" gradientUnits="userSpaceOnUse" x1="180" y1="0" x2="415" y2="0"><stop offset="0" stop-color="#9a4200"/><stop offset=".17" stop-color="#9a4200"/><stop offset=".319" stop-color="#a14200"/><stop offset=".447" stop-color="#a14200"/><stop offset=".574" stop-color="#a14200"/><stop offset=".638" stop-color="#9e4200"/><stop offset=".809" stop-color="#9a4200"/><stop offset="1" stop-color="#9a4200"/></linearGradient>
<linearGradient id="p2g8" gradientUnits="userSpaceOnUse" x1="180" y1="0" x2="415" y2="0"><stop offset="0" stop-color="#994200"/><stop offset=".17" stop-color="#994200"/><stop offset=".319" stop-color="#a14200"/><stop offset=".447" stop-color="#a14200"/><stop offset=".574" stop-color="#a14200"/><stop offset=".638" stop-color="#9d4200"/><stop offset=".809" stop-color="#9a4200"/><stop offset="1" stop-color="#9a4200"/></linearGradient>
<linearGradient id="p2g9" gradientUnits="userSpaceOnUse" x1="180" y1="0" x2="415" y2="0"><stop offset="0" stop-color="#994200"/><stop offset=".17" stop-color="#994200"/><stop offset=".319" stop-color="#a04200"/><stop offset=".447" stop-color="#a14200"/><stop offset=".574" stop-color="#a14200"/><stop offset=".638" stop-color="#9d4200"/><stop offset=".809" stop-color="#994200"/><stop offset="1" stop-color="#994200"/></linearGradient>
<linearGradient id="p2g10" gradientUnits="userSpaceOnUse" x1="180" y1="0" x2="415" y2="0"><stop offset="0" stop-color="#984200"/><stop offset=".17" stop-color="#984200"/><stop offset=".319" stop-color="#9f4200"/><stop offset=".447" stop-color="#a14200"/><stop offset=".574" stop-color="#a14200"/><stop offset=".638" stop-color="#9c4200"/><stop offset=".809" stop-color="#994200"/><stop offset="1" stop-color="#994200"/></linearGradient>
<linearGradient id="p2g11" gradientUnits="userSpaceOnUse" x1="180" y1="0" x2="415" y2="0"><stop offset="0" stop-color="#974200"/><stop offset=".17" stop-color="#974200"/><stop offset=".319" stop-color="#9e4200"/><stop offset=".447" stop-color="#a14200"/><stop offset=".574" stop-color="#a04200"/><stop offset=".638" stop-color="#9c4200"/><stop offset=".809" stop-color="#984200"/><stop offset="1" stop-color="#984200"/></linearGradient>
<linearGradient id="p2g12" gradientUnits="userSpaceOnUse" x1="180" y1="0" x2="415" y2="0"><stop offset="0" stop-color="#974200"/><stop offset=".17" stop-color="#974200"/><stop offset=".447" stop-color="#a14200"/><stop offset=".574" stop-color="#a04200"/><stop offset=".638" stop-color="#9b4200"/><stop offset=".702" stop-color="#9a4200"/><stop offset="1" stop-color="#984200"/></linearGradient>
<linearGradient id="p2g13" gradientUnits="userSpaceOnUse" x1="180" y1="0" x2="415" y2="0"><stop offset="0" stop-color="#964200"/><stop offset=".17" stop-color="#964200"/><stop offset=".447" stop-color="#a14200"/><stop offset=".574" stop-color="#a04200"/><stop offset=".638" stop-color="#9b4200"/><stop offset=".702" stop-color="#994200"/><stop offset="1" stop-color="#974200"/></linearGradient>
<linearGradient id="p2g14" gradientUnits="userSpaceOnUse" x1="180" y1="0" x2="415" y2="0"><stop offset="0" stop-color="#954200"/><stop offset=".17" stop-color="#954200"/><stop offset=".447" stop-color="#a14200"/><stop offset=".574" stop-color="#a04200"/><stop offset=".638" stop-color="#9a4200"/><stop offset=".702" stop-color="#994200"/><stop offset="1" stop-color="#974200"/></linearGradient>
<linearGradient id="p2g15" gradientUnits="userSpaceOnUse" x1="180" y1="0" x2="415" y2="0"><stop offset="0" stop-color="#944200"/><stop offset=".17" stop-color="#944200"/><stop offset=".447" stop-color="#a44200"/><stop offset=".574" stop-color="#a14200"/><stop offset=".638" stop-color="#9a4200"/><stop offset=".702" stop-color="#984200"/><stop offset=".809" stop-color="#954200"/><stop offset="1" stop-color="#954200"/></linearGradient>
<linearGradient id="p2g16" gradientUnits="userSpaceOnUse" x1="180" y1="0" x2="415" y2="0"><stop offset="0" stop-color="#934200"/><stop offset=".17" stop-color="#934200"/><stop offset=".319" stop-color="#9b4200"/><stop offset=".447" stop-color="#a64200"/><stop offset=".511" stop-color="#a64200"/><stop offset=".574" stop-color="#a34200"/><stop offset=".638" stop-color="#9a4200"/><stop offset=".809" stop-color="#944200"/><stop offset="1" stop-color="#944200"/></linearGradient>
<linearGradient id="p2g17" gradientUnits="userSpaceOnUse" x1="180" y1="0" x2="415" y2="0"><stop offset="0" stop-color="#924200"/><stop offset=".17" stop-color="#924200"/><stop offset=".319" stop-color="#9b4200"/><stop offset=".447" stop-color="#a94200"/><stop offset=".511" stop-color="#a94200"/><stop offset=".574" stop-color="#a44200"/><stop offset=".638" stop-color="#9a4200"/><stop offset=".809" stop-color="#924200"/><stop offset="1" stop-color="#924200"/></linearGradient>
<linearGradient id="p2g18" gradientUnits="userSpaceOnUse" x1="180" y1="0" x2="415" y2="0"><stop offset="0" stop-color="#904200"/><stop offset=".17" stop-color="#904200"/><stop offset=".319" stop-color="#9a4200"/><stop offset=".383" stop-color="#a44200"/><stop offset=".447" stop-color="#ab4200"/><stop offset=".511" stop-color="#ab4200"/><stop offset=".574" stop-color="#a54200"/><stop offset=".638" stop-color="#9a4200"/><stop offset=".809" stop-color="#904200"/><stop offset="1" stop-color="#904200"/></linearGradient>
<linearGradient id="p2g19" gradientUnits="userSpaceOnUse" x1="180" y1="0" x2="415" y2="0"><stop offset="0" stop-color="#8e4200"/><stop offset=".17" stop-color="#8e4200"/><stop offset=".319" stop-color="#994200"/><stop offset=".383" stop-color="#a54200"/><stop offset=".447" stop-color="#ac4200"/><stop offset=".511" stop-color="#ac4200"/><stop offset=".574" stop-color="#a64200"/><stop offset=".638" stop-color="#994200"/><stop offset=".702" stop-color="#944200"/><stop offset=".809" stop-color="#8e4200"/><stop offset="1" stop-color="#8e4200"/></linearGradient>
<linearGradient id="p2g20" gradientUnits="userSpaceOnUse" x1="180" y1="0" x2="415" y2="0"><stop offset="0" stop-color="#8c4200"/><stop offset=".17" stop-color="#8c4200"/><stop offset=".319" stop-color="#984200"/><stop offset=".383" stop-color="#a64200"/><stop offset=".447" stop-color="#ac4200"/><stop offset=".511" stop-color="#ac4200"/><stop offset=".574" stop-color="#a74200"/><stop offset=".638" stop-color="#984200"/><stop offset=".702" stop-color="#924200"/><stop offset=".809" stop-color="#8c4200"/><stop offset="1" stop-color="#8c4200"/></linearGradient>
<linearGradient id="p2g21" gradientUnits="userSpaceOnUse" x1="180" y1="0" x2="415" y2="0"><stop offset="0" stop-color="#8a4200"/><stop offset=".17" stop-color="#8a4200"/><stop offset=".319" stop-color="#974200"/><stop offset=".383" stop-color="#a84200"/><stop offset=".447" stop-color="#ad4200"/><stop offset=".511" stop-color="#ad4200"/><stop offset=".574" stop-color="#a84200"/><stop offset=".638" stop-color="#974200"/><stop offset=".702" stop-color="#8f4200"/><stop offset=".809" stop-color="#8a4200"/><stop offset="1" stop-color="#8a4200"/></linearGradient>
<linearGradient id="p2g22" gradientUnits="userSpaceOnUse" x1="180" y1="0" x2="415" y2="0"><stop offset="0" stop-color="#884200"/><stop offset=".17" stop-color="#884200"/><stop offset=".319" stop-color="#974200"/><stop offset=".383" stop-color="#a84200"/><stop offset=".447" stop-color="#ae4200"/><stop offset=".511" stop-color="#ae4200"/><stop offset=".574" stop-color="#a84200"/><stop offset=".638" stop-color="#974200"/><stop offset=".702" stop-color="#8e4200"/><stop offset=".809" stop-color="#884200"/><stop offset="1" stop-color="#884200"/></linearGradient>
<linearGradient id="p2g23" gradientUnits="userSpaceOnUse" x1="180" y1="0" x2="415" y2="0"><stop offset="0" stop-color="#854200"/><stop offset=".17" stop-color="#864200"/><stop offset=".319" stop-color="#974200"/><stop offset=".383" stop-color="#a74200"/><stop offset=".447" stop-color="#ac4200"/><stop offset=".511" stop-color="#ac4200"/><stop offset=".574" stop-color="#a74200"/><stop offset=".638" stop-color="#964200"/><stop offset=".702" stop-color="#8c4200"/><stop offset=".757" stop-color="#884200"/><stop offset="1" stop-color="#864200"/></linearGradient>
<linearGradient id="p2g24" gradientUnits="userSpaceOnUse" x1="180" y1="0" x2="415" y2="0"><stop offset="0" stop-color="#834200"/><stop offset=".17" stop-color="#844200"/><stop offset=".319" stop-color="#974200"/><stop offset=".383" stop-color="#a64200"/><stop offset=".447" stop-color="#aa4200"/><stop offset=".511" stop-color="#aa4200"/><stop offset=".574" stop-color="#a64200"/><stop offset=".638" stop-color="#964200"/><stop offset=".702" stop-color="#8a4200"/><stop offset=".757" stop-color="#864200"/><stop offset="1" stop-color="#844200"/></linearGradient>
<linearGradient id="p2g25" gradientUnits="userSpaceOnUse" x1="180" y1="0" x2="415" y2="0"><stop offset="0" stop-color="#804200"/><stop offset=".17" stop-color="#824200"/><stop offset=".319" stop-color="#974200"/><stop offset=".383" stop-color="#a54200"/><stop offset=".447" stop-color="#a94200"/><stop offset=".511" stop-color="#a94200"/><stop offset=".574" stop-color="#a54200"/><stop offset=".638" stop-color="#954200"/><stop offset=".702" stop-color="#894200"/><stop offset=".757" stop-color="#834200"/><stop offset="1" stop-color="#824200"/></linearGradient>
<linearGradient id="p2g26" gradientUnits="userSpaceOnUse" x1="180" y1="0" x2="415" y2="0"><stop offset="0" stop-color="#7e4200"/><stop offset=".17" stop-color="#814200"/><stop offset=".255" stop-color="#8d4200"/><stop offset=".319" stop-color="#984200"/><stop offset=".383" stop-color="#a74200"/><stop offset=".447" stop-color="#ac4200"/><stop offset=".511" stop-color="#ac4200"/><stop offset=".574" stop-color="#a84200"/><stop offset=".638" stop-color="#964200"/><stop offset=".702" stop-color="#884200"/><stop offset=".757" stop-color="#824200"/><stop offset="1" stop-color="#814200"/></linearGradient>
<linearGradient id="p2g27" gradientUnits="userSpaceOnUse" x1="180" y1="0" x2="415" y2="0"><stop offset="0" stop-color="#7d4200"/><stop offset=".17" stop-color="#814200"/><stop offset=".255" stop-color="#8b4200"/><stop offset=".383" stop-color="#a94200"/><stop offset=".447" stop-color="#b04200"/><stop offset=".511" stop-color="#b14200"/><stop offset=".574" stop-color="#ab4200"/><stop offset=".638" stop-color="#984200"/><stop offset=".702" stop-color="#884200"/><stop offset=".757" stop-color="#824200"/><stop offset="1" stop-color="#804200"/></linearGradient>
<linearGradient id="p2g28" gradientUnits="userSpaceOnUse" x1="180" y1="0" x2="415" y2="0"><stop offset="0" stop-color="#7c4200"/><stop offset=".17" stop-color="#814200"/><stop offset=".255" stop-color="#8a4200"/><stop offset=".383" stop-color="#aa4200"/><stop offset=".447" stop-color="#b14200"/><stop offset=".511" stop-color="#b34200"/><stop offset=".574" stop-color="#ac4200"/><stop offset=".638" stop-color="#984200"/><stop offset=".702" stop-color="#884200"/><stop offset=".757" stop-color="#814200"/><stop offset="1" stop-color="#804200"/></linearGradient>
<linearGradient id="p2g29" gradientUnits="userSpaceOnUse" x1="180" y1="0" x2="415" y2="0"><stop offset="0" stop-color="#77331f"/><stop offset=".085" stop-color="#7a331f"/><stop offset=".255" stop-color="#87291c"/><stop offset=".383" stop-color="#aa0a12"/><stop offset=".447" stop-color="#b10a0f"/><stop offset=".511" stop-color="#b10a0f"/><stop offset=".574" stop-color="#ac0f0f"/><stop offset=".638" stop-color="#951f12"/><stop offset=".702" stop-color="#833318"/><stop offset=".757" stop-color="#7e3318"/><stop offset=".809" stop-color="#7c331c"/><stop offset="1" stop-color="#7a331f"/></linearGradient>
<linearGradient id="p2g30" gradientUnits="userSpaceOnUse" x1="180" y1="0" x2="415" y2="0"><stop offset="0" stop-color="#77331f"/><stop offset=".17" stop-color="#80331f"/><stop offset=".255" stop-color="#91291c"/><stop offset=".383" stop-color="#bc0a12"/><stop offset=".447" stop-color="#c30a0f"/><stop offset=".511" stop-color="#c30a0f"/><stop offset=".574" stop-color="#be0f0f"/><stop offset=".638" stop-color="#a31f12"/><stop offset=".702" stop-color="#913318"/><stop offset=".757" stop-color="#8e3318"/><stop offset=".809" stop-color="#87331c"/><stop offset="1" stop-color="#7c331f"/></linearGradient>
<linearGradient id="p2g31" gradientUnits="userSpaceOnUse" x1="180" y1="0" x2="415" y2="0"><stop offset="0" stop-color="#80000f"/><stop offset=".085" stop-color="#85000f"/><stop offset=".17" stop-color="#8e000f"/><stop offset=".255" stop-color="#a3000e"/><stop offset=".319" stop-color="#b9000b"/><stop offset=".383" stop-color="#c90009"/><stop offset=".447" stop-color="#cc0008"/><stop offset=".511" stop-color="#cc0008"/><stop offset=".574" stop-color="#c90008"/><stop offset=".638" stop-color="#b10009"/><stop offset=".702" stop-color="#a3000c"/><stop offset=".809" stop-color="#9e000e"/><stop offset="1" stop-color="#8e000f"/></linearGradient>
<linearGradient id="p2g32" gradientUnits="userSpaceOnUse" x1="180" y1="0" x2="415" y2="0"><stop offset="0" stop-color="#a0000f"/><stop offset=".085" stop-color="#a1000f"/><stop offset=".17" stop-color="#a7000f"/><stop offset=".319" stop-color="#cc000b"/><stop offset=".383" stop-color="#e00009"/><stop offset=".447" stop-color="#e40008"/><stop offset=".511" stop-color="#e40008"/><stop offset=".574" stop-color="#e00008"/><stop offset=".638" stop-color="#cc0009"/><stop offset="1" stop-color="#ac000f"/></linearGradient>
<linearGradient id="p2g33" gradientUnits="userSpaceOnUse" x1="180" y1="0" x2="415" y2="0"><stop offset="0" stop-color="#83000f"/><stop offset=".085" stop-color="#83000f"/><stop offset=".17" stop-color="#8e000f"/><stop offset=".255" stop-color="#a3000e"/><stop offset=".319" stop-color="#c3000b"/><stop offset=".383" stop-color="#dc0009"/><stop offset=".447" stop-color="#e40008"/><stop offset=".511" stop-color="#e40008"/><stop offset=".574" stop-color="#dc0008"/><stop offset=".638" stop-color="#c30009"/><stop offset=".702" stop-color="#ae000c"/><stop offset=".757" stop-color="#a3000c"/><stop offset=".809" stop-color="#9e000e"/><stop offset="1" stop-color="#95000f"/></linearGradient>
<linearGradient id="p2g34" gradientUnits="userSpaceOnUse" x1="180" y1="0" x2="415" y2="0"><stop offset="0" stop-color="#800022"/><stop offset=".085" stop-color="#800022"/><stop offset=".17" stop-color="#870022"/><stop offset=".255" stop-color="#95001f"/><stop offset=".319" stop-color="#b10018"/><stop offset=".383" stop-color="#c70015"/><stop offset=".447" stop-color="#ca0011"/><stop offset=".511" stop-color="#ca0011"/><stop offset=".574" stop-color="#c70011"/><stop offset=".702" stop-color="#9c001c"/><stop offset=".757" stop-color="#91001c"/><stop offset=".809" stop-color="#8c001f"/><stop offset="1" stop-color="#800022"/></linearGradient>
<linearGradient id="p2g35" gradientUnits="userSpaceOnUse" x1="180" y1="0" x2="415" y2="0"><stop offset="0" stop-color="#780022"/><stop offset=".085" stop-color="#770022"/><stop offset=".17" stop-color="#800022"/><stop offset=".255" stop-color="#8c001f"/><stop offset=".383" stop-color="#b90015"/><stop offset=".447" stop-color="#c00011"/><stop offset=".511" stop-color="#c20011"/><stop offset=".574" stop-color="#bc0011"/><stop offset=".638" stop-color="#a70015"/><stop offset=".702" stop-color="#95001c"/><stop offset=".757" stop-color="#88001c"/><stop offset="1" stop-color="#780022"/></linearGradient>
<linearGradient id="p2g36" gradientUnits="userSpaceOnUse" x1="180" y1="0" x2="415" y2="0"><stop offset="0" stop-color="#70002a"/><stop offset=".085" stop-color="#70002a"/><stop offset=".255" stop-color="#8c0026"/><stop offset=".319" stop-color="#9b001d"/><stop offset=".383" stop-color="#af0019"/><stop offset=".447" stop-color="#b50015"/><stop offset=".511" stop-color="#b70015"/><stop offset=".574" stop-color="#b10015"/><stop offset=".702" stop-color="#920022"/><stop offset=".757" stop-color="#870022"/><stop offset=".894" stop-color="#82002a"/><stop offset="1" stop-color="#79002a"/></linearGradient>
<linearGradient id="p2g37" gradientUnits="userSpaceOnUse" x1="180" y1="0" x2="415" y2="0"><stop offset="0" stop-color="#70002a"/><stop offset=".085" stop-color="#6d002a"/><stop offset=".17" stop-color="#77002a"/><stop offset=".319" stop-color="#94001d"/><stop offset=".383" stop-color="#a40019"/><stop offset=".447" stop-color="#b00015"/><stop offset=".511" stop-color="#b10015"/><stop offset=".638" stop-color="#9d0019"/><stop offset=".702" stop-color="#8c0022"/><stop offset=".757" stop-color="#830022"/><stop offset=".809" stop-color="#840026"/><stop offset=".894" stop-color="#7d002a"/><stop offset="1" stop-color="#79002a"/></linearGradient>
<linearGradient id="p2g38" gradientUnits="userSpaceOnUse" x1="180" y1="0" x2="415" y2="0"><stop offset="0" stop-color="#69002a"/><stop offset=".085" stop-color="#69002a"/><stop offset=".17" stop-color="#74002a"/><stop offset=".319" stop-color="#90001d"/><stop offset=".383" stop-color="#a30019"/><stop offset=".447" stop-color="#ae0015"/><stop offset=".511" stop-color="#ae0015"/><stop offset=".638" stop-color="#980019"/><stop offset=".702" stop-color="#870022"/><stop offset="1" stop-color="#74002a"/></linearGradient>
<linearGradient id="p2g39" gradientUnits="userSpaceOnUse" x1="180" y1="0" x2="415" y2="0"><stop offset="0" stop-color="#67002a"/><stop offset=".085" stop-color="#67002a"/><stop offset=".319" stop-color="#90001d"/><stop offset=".383" stop-color="#a10019"/><stop offset=".447" stop-color="#ac0015"/><stop offset=".511" stop-color="#ae0015"/><stop offset=".638" stop-color="#960019"/><stop offset=".702" stop-color="#830022"/><stop offset=".757" stop-color="#830022"/><stop offset=".809" stop-color="#7c0026"/><stop offset=".894" stop-color="#74002a"/><stop offset="1" stop-color="#70002a"/></linearGradient>
<linearGradient id="p2g40" gradientUnits="userSpaceOnUse" x1="180" y1="0" x2="415" y2="0"><stop offset="0" stop-color="#6d002a"/><stop offset=".085" stop-color="#6d002a"/><stop offset=".17" stop-color="#77002a"/><stop offset=".319" stop-color="#8e001d"/><stop offset=".383" stop-color="#a10019"/><stop offset=".447" stop-color="#aa0015"/><stop offset=".511" stop-color="#ac0015"/><stop offset=".638" stop-color="#960019"/><stop offset=".702" stop-color="#870022"/><stop offset=".757" stop-color="#830022"/><stop offset=".809" stop-color="#7a0026"/><stop offset=".894" stop-color="#70002a"/><stop offset="1" stop-color="#6f002a"/></linearGradient>
<linearGradient id="p2g41" gradientUnits="userSpaceOnUse" x1="180" y1="0" x2="415" y2="0"><stop offset="0" stop-color="#66002a"/><stop offset=".085" stop-color="#62002a"/><stop offset=".17" stop-color="#70002a"/><stop offset=".255" stop-color="#840026"/><stop offset=".319" stop-color="#8e001d"/><stop offset=".383" stop-color="#a10019"/><stop offset=".447" stop-color="#aa0015"/><stop offset=".511" stop-color="#ac0015"/><stop offset=".574" stop-color="#a10015"/><stop offset=".638" stop-color="#9c0019"/><stop offset=".702" stop-color="#890022"/><stop offset=".757" stop-color="#830022"/><stop offset=".809" stop-color="#7a0026"/><stop offset=".894" stop-color="#70002a"/><stop offset="1" stop-color="#70002a"/></linearGradient>
<linearGradient id="p2g42" gradientUnits="userSpaceOnUse" x1="180" y1="0" x2="415" y2="0"><stop offset="0" stop-color="#5e002a"/><stop offset=".085" stop-color="#5b002a"/><stop offset=".17" stop-color="#69002a"/><stop offset=".255" stop-color="#7c0026"/><stop offset=".383" stop-color="#9f0019"/><stop offset=".447" stop-color="#a90015"/><stop offset=".511" stop-color="#ac0015"/><stop offset=".638" stop-color="#980019"/><stop offset=".702" stop-color="#8a0022"/><stop offset=".809" stop-color="#7d0026"/><stop offset=".894" stop-color="#77002a"/><stop offset="1" stop-color="#74002a"/></linearGradient>
<linearGradient id="p2g43" gradientUnits="userSpaceOnUse" x1="318" y1="0" x2="333" y2="0"><stop offset="0" stop-color="#b56600" stop-opacity="0"/><stop offset=".2" stop-color="#c26600" stop-opacity="0.9"/><stop offset=".8" stop-color="#c26600" stop-opacity="0.9"/><stop offset="1" stop-color="#b56600" stop-opacity="0"/></linearGradient>
<linearGradient id="p2g44" gradientUnits="userSpaceOnUse" x1="0" y1="240" x2="0" y2="272"><stop offset="0" stop-color="#914200" stop-opacity="0"/><stop offset=".312" stop-color="#954200" stop-opacity="0.9"/><stop offset=".625" stop-color="#9c3300" stop-opacity="0.7"/><stop offset="1" stop-color="#a33300" stop-opacity="0"/></linearGradient>
<linearGradient id="p2g45" gradientUnits="userSpaceOnUse" x1="0" y1="268" x2="0" y2="284"><stop offset="0" stop-color="#be0026" stop-opacity="0"/><stop offset=".188" stop-color="#c70026" stop-opacity="0.7"/><stop offset=".438" stop-color="#c70026" stop-opacity="0.7"/><stop offset="1" stop-color="#be0026" stop-opacity="0"/></linearGradient></defs>
<g filter="url(#p2F)"><g clip-path="url(#p2C)">
<rect x="180" y="181" width="235" height="168" fill="#910000"/>
<rect x="180" y="181" width="235" height="3" fill="url(#p2g1)"/>
<rect x="180" y="184" width="235" height="3" fill="url(#p2g2)"/>
<rect x="180" y="187" width="235" height="3" fill="url(#p2g3)"/>
<rect x="180" y="190" width="235" height="3" fill="url(#p2g4)"/>
<rect x="180" y="193" width="235" height="3" fill="url(#p2g5)"/>
<rect x="180" y="196" width="235" height="3" fill="url(#p2g6)"/>
<rect x="180" y="199" width="235" height="3" fill="url(#p2g7)"/>
<rect x="180" y="202" width="235" height="3" fill="url(#p2g8)"/>
<rect x="180" y="205" width="235" height="3" fill="url(#p2g9)"/>
<rect x="180" y="208" width="235" height="3" fill="url(#p2g10)"/>
<rect x="180" y="211" width="235" height="3" fill="url(#p2g11)"/>
<rect x="180" y="214" width="235" height="3" fill="url(#p2g12)"/>
<rect x="180" y="217" width="235" height="3" fill="url(#p2g13)"/>
<rect x="180" y="220" width="235" height="3" fill="url(#p2g14)"/>
<rect x="180" y="223" width="235" height="3" fill="url(#p2g15)"/>
<rect x="180" y="226" width="235" height="3" fill="url(#p2g16)"/>
<rect x="180" y="229" width="235" height="3" fill="url(#p2g17)"/>
<rect x="180" y="232" width="235" height="3" fill="url(#p2g18)"/>
<rect x="180" y="235" width="235" height="3" fill="url(#p2g19)"/>
<rect x="180" y="238" width="235" height="3" fill="url(#p2g20)"/>
<rect x="180" y="241" width="235" height="3" fill="url(#p2g21)"/>
<rect x="180" y="244" width="235" height="3" fill="url(#p2g22)"/>
<rect x="180" y="247" width="235" height="3" fill="url(#p2g23)"/>
<rect x="180" y="250" width="235" height="3" fill="url(#p2g24)"/>
<rect x="180" y="253" width="235" height="3" fill="url(#p2g25)"/>
<rect x="180" y="256" width="235" height="3" fill="url(#p2g26)"/>
<rect x="180" y="259" width="235" height="3" fill="url(#p2g27)"/>
<rect x="180" y="262" width="235" height="1" fill="url(#p2g28)"/>
<rect x="180" y="263" width="235" height="2" fill="url(#p2g29)"/>
<rect x="180" y="265" width="235" height="3" fill="url(#p2g30)"/>
<rect x="180" y="268" width="235" height="3" fill="url(#p2g31)"/>
<rect x="180" y="271" width="235" height="3" fill="url(#p2g32)"/>
<rect x="180" y="274" width="235" height="4" fill="url(#p2g33)"/>
<rect x="180" y="278" width="235" height="4" fill="url(#p2g34)"/>
<rect x="180" y="282" width="235" height="4" fill="url(#p2g35)"/>
<rect x="180" y="286" width="235" height="5" fill="url(#p2g36)"/>
<rect x="180" y="291" width="235" height="5" fill="url(#p2g37)"/>
<rect x="180" y="296" width="235" height="6" fill="url(#p2g38)"/>
<rect x="180" y="302" width="235" height="8" fill="url(#p2g39)"/>
<rect x="180" y="310" width="235" height="10" fill="url(#p2g40)"/>
<rect x="180" y="320" width="235" height="13" fill="url(#p2g41)"/>
<rect x="180" y="333" width="235" height="16" fill="url(#p2g42)"/>
<rect x="400" y="333" width="1" height="16" fill="#260000" opacity="0.27"/>
<rect x="223" y="296" width="1" height="6" fill="#260000" opacity="0.32"/>
<rect x="385" y="278" width="2" height="4" fill="#260000" opacity="0.29"/>
<rect x="410" y="333" width="2" height="16" fill="#260000" opacity="0.41"/>
<rect x="412" y="278" width="1" height="4" fill="#260000" opacity="0.24"/>
<rect x="186" y="310" width="1" height="10" fill="#260000" opacity="0.43"/>
<rect x="352" y="282" width="1" height="9" fill="#260000" opacity="0.24"/>
<rect x="399" y="310" width="2" height="23" fill="#260000" opacity="0.34"/>
<rect x="243" y="282" width="1" height="9" fill="#260000" opacity="0.26"/>
<rect x="365" y="302" width="1" height="8" fill="#260000" opacity="0.29"/>
<rect x="337" y="282" width="1" height="4" fill="#260000" opacity="0.18"/>
<rect x="346" y="286" width="1" height="5" fill="#260000" opacity="0.19"/>
<rect x="380" y="333" width="1" height="16" fill="#260000" opacity="0.18"/>
<rect x="347" y="302" width="1" height="31" fill="#260000" opacity="0.23"/>
<rect x="214" y="302" width="1" height="8" fill="#260000" opacity="0.28"/>
<rect x="194" y="310" width="1" height="10" fill="#260000" opacity="0.2"/>
<rect x="197" y="333" width="1" height="16" fill="#260000" opacity="0.21"/>
<rect x="220" y="278" width="1" height="13" fill="#260000" opacity="0.27"/>
<rect x="191" y="302" width="1" height="8" fill="#260000" opacity="0.18"/>
<rect x="371" y="291" width="1" height="11" fill="#260000" opacity="0.21"/>
<rect x="369" y="296" width="1" height="14" fill="#260000" opacity="0.24"/>
<rect x="237" y="291" width="1" height="5" fill="#260000" opacity="0.25"/>
<rect x="403" y="278" width="2" height="8" fill="#260000" opacity="0.3"/>
<rect x="263" y="291" width="1" height="5" fill="#260000" opacity="0.12"/>
<rect x="359" y="310" width="1" height="39" fill="#260000" opacity="0.16"/>
<rect x="213" y="320" width="1" height="29" fill="#260000" opacity="0.31"/>
<rect x="243" y="282" width="1" height="4" fill="#260000" opacity="0.15"/>
<rect x="238" y="291" width="2" height="5" fill="#260000" opacity="0.21"/>
<rect x="372" y="333" width="2" height="16" fill="#260000" opacity="0.18"/>
<rect x="241" y="333" width="1" height="16" fill="#260000" opacity="0.16"/>
<rect x="186" y="282" width="1" height="9" fill="#260000" opacity="0.31"/>
<rect x="412" y="302" width="2" height="31" fill="#260000" opacity="0.28"/>
<rect x="185" y="333" width="1" height="16" fill="#260000" opacity="0.41"/>
<rect x="273" y="320" width="1" height="29" fill="#260000" opacity="0.06"/>
<rect x="403" y="320" width="1" height="13" fill="#260000" opacity="0.23"/>
<rect x="378" y="333" width="1" height="16" fill="#260000" opacity="0.25"/>
<rect x="407" y="320" width="1" height="13" fill="#260000" opacity="0.18"/>
<rect x="199" y="282" width="1" height="4" fill="#260000" opacity="0.32"/>
<rect x="215" y="286" width="1" height="5" fill="#260000" opacity="0.21"/>
<rect x="200" y="291" width="2" height="19" fill="#260000" opacity="0.42"/>
<rect x="357" y="282" width="2" height="4" fill="#260000" opacity="0.16"/>
<rect x="385" y="282" width="1" height="14" fill="#260000" opacity="0.26"/>
<rect x="220" y="296" width="2" height="14" fill="#260000" opacity="0.35"/>
<rect x="327" y="291" width="1" height="5" fill="#260000" opacity="0.09"/>
<rect x="409" y="320" width="1" height="29" fill="#260000" opacity="0.21"/>
<rect x="255" y="291" width="1" height="11" fill="#260000" opacity="0.14"/>
<rect x="208" y="286" width="1" height="5" fill="#260000" opacity="0.31"/>
<rect x="363" y="310" width="2" height="10" fill="#260000" opacity="0.3"/>
<rect x="240" y="291" width="1" height="11" fill="#260000" opacity="0.24"/>
<rect x="364" y="286" width="1" height="16" fill="#260000" opacity="0.2"/>
<rect x="193" y="286" width="2" height="5" fill="#260000" opacity="0.35"/>
<rect x="200" y="302" width="1" height="18" fill="#260000" opacity="0.28"/>
<rect x="350" y="333" width="2" height="16" fill="#260000" opacity="0.2"/>
<rect x="412" y="310" width="1" height="10" fill="#260000" opacity="0.28"/>
<rect x="235" y="286" width="1" height="5" fill="#260000" opacity="0.24"/>
<rect x="231" y="302" width="1" height="18" fill="#260000" opacity="0.16"/>
<rect x="353" y="296" width="1" height="14" fill="#260000" opacity="0.19"/>
<rect x="374" y="333" width="1" height="16" fill="#260000" opacity="0.31"/>
<rect x="404" y="333" width="1" height="16" fill="#260000" opacity="0.22"/>
<rect x="401" y="333" width="2" height="16" fill="#260000" opacity="0.27"/>
<rect x="219" y="278" width="1" height="8" fill="#260000" opacity="0.27"/>
<rect x="402" y="282" width="1" height="14" fill="#260000" opacity="0.3"/>
<rect x="257" y="291" width="1" height="5" fill="#260000" opacity="0.15"/>
<rect x="383" y="286" width="1" height="10" fill="#260000" opacity="0.29"/>
<rect x="233" y="278" width="1" height="4" fill="#260000" opacity="0.22"/>
<rect x="251" y="320" width="2" height="13" fill="#260000" opacity="0.22"/>
<rect x="234" y="320" width="2" height="13" fill="#260000" opacity="0.23"/>
<rect x="254" y="310" width="2" height="39" fill="#260000" opacity="0.2"/>
<rect x="263" y="302" width="1" height="18" fill="#260000" opacity="0.13"/>
<rect x="396" y="291" width="1" height="5" fill="#260000" opacity="0.24"/>
<rect x="386" y="286" width="1" height="10" fill="#260000" opacity="0.24"/>
<rect x="370" y="296" width="1" height="14" fill="#260000" opacity="0.22"/>
<rect x="202" y="310" width="2" height="10" fill="#260000" opacity="0.21"/>
<rect x="187" y="310" width="1" height="10" fill="#260000" opacity="0.41"/>
<rect x="406" y="286" width="1" height="5" fill="#260000" opacity="0.24"/>
<rect x="393" y="278" width="2" height="4" fill="#260000" opacity="0.34"/>
<rect x="218" y="302" width="1" height="18" fill="#260000" opacity="0.42"/>
<rect x="380" y="296" width="2" height="6" fill="#260000" opacity="0.24"/>
<rect x="202" y="302" width="1" height="31" fill="#260000" opacity="0.36"/>
<rect x="191" y="291" width="1" height="19" fill="#260000" opacity="0.39"/>
<rect x="225" y="286" width="1" height="10" fill="#260000" opacity="0.2"/>
<rect x="209" y="286" width="1" height="5" fill="#260000" opacity="0.28"/>
<rect x="403" y="320" width="2" height="29" fill="#260000" opacity="0.42"/>
<rect x="395" y="310" width="2" height="23" fill="#260000" opacity="0.31"/>
<rect x="191" y="282" width="1" height="9" fill="#260000" opacity="0.21"/>
<rect x="354" y="310" width="2" height="10" fill="#260000" opacity="0.16"/>
<rect x="384" y="296" width="1" height="6" fill="#260000" opacity="0.22"/>
<rect x="186" y="320" width="2" height="13" fill="#260000" opacity="0.19"/>
<rect x="410" y="320" width="1" height="29" fill="#260000" opacity="0.32"/>
<rect x="215" y="278" width="1" height="4" fill="#260000" opacity="0.23"/>
<rect x="181" y="278" width="1" height="4" fill="#260000" opacity="0.21"/>
<rect x="305" y="278" width="1" height="4" fill="#260000" opacity="0.02"/>
<rect x="234" y="302" width="2" height="31" fill="#260000" opacity="0.23"/>
<rect x="411" y="278" width="1" height="8" fill="#260000" opacity="0.31"/>
<rect x="393" y="302" width="2" height="8" fill="#260000" opacity="0.23"/>
<rect x="387" y="320" width="1" height="29" fill="#260000" opacity="0.24"/>
<rect x="375" y="296" width="2" height="6" fill="#260000" opacity="0.31"/>
<rect x="358" y="320" width="1" height="13" fill="#260000" opacity="0.15"/>
<rect x="345" y="333" width="1" height="16" fill="#260000" opacity="0.22"/>
<rect x="368" y="302" width="1" height="8" fill="#260000" opacity="0.15"/>
<rect x="215" y="278" width="1" height="4" fill="#260000" opacity="0.42"/>
<rect x="410" y="296" width="1" height="6" fill="#260000" opacity="0.38"/>
<rect x="397" y="320" width="2" height="29" fill="#260000" opacity="0.34"/>
<rect x="188" y="320" width="1" height="29" fill="#260000" opacity="0.41"/>
<rect x="184" y="291" width="2" height="5" fill="#260000" opacity="0.33"/>
<rect x="231" y="310" width="1" height="39" fill="#260000" opacity="0.34"/>
<rect x="336" y="302" width="2" height="18" fill="#260000" opacity="0.12"/>
<rect x="373" y="291" width="1" height="5" fill="#260000" opacity="0.19"/>
<rect x="402" y="296" width="1" height="6" fill="#260000" opacity="0.38"/>
<rect x="187" y="291" width="1" height="5" fill="#260000" opacity="0.31"/>
<rect x="382" y="291" width="1" height="11" fill="#260000" opacity="0.26"/>
<rect x="393" y="296" width="1" height="14" fill="#260000" opacity="0.23"/>
<rect x="221" y="286" width="1" height="16" fill="#260000" opacity="0.33"/>
<rect x="345" y="282" width="1" height="4" fill="#260000" opacity="0.2"/>
<rect x="397" y="302" width="1" height="8" fill="#260000" opacity="0.33"/>
<rect x="359" y="286" width="1" height="5" fill="#260000" opacity="0.21"/>
<rect x="246" y="310" width="2" height="23" fill="#260000" opacity="0.26"/>
<rect x="210" y="286" width="2" height="10" fill="#260000" opacity="0.42"/>
<rect x="252" y="302" width="1" height="8" fill="#260000" opacity="0.17"/>
<rect x="193" y="286" width="1" height="10" fill="#260000" opacity="0.31"/>
<rect x="205" y="291" width="2" height="11" fill="#260000" opacity="0.32"/>
<rect x="360" y="302" width="1" height="8" fill="#260000" opacity="0.12"/>
<rect x="190" y="310" width="1" height="10" fill="#260000" opacity="0.24"/>
<rect x="192" y="296" width="1" height="6" fill="#260000" opacity="0.35"/>
<rect x="214" y="310" width="1" height="10" fill="#260000" opacity="0.31"/>
<rect x="248" y="278" width="1" height="4" fill="#260000" opacity="0.22"/>
<rect x="204" y="320" width="1" height="29" fill="#260000" opacity="0.27"/>
<rect x="342" y="282" width="1" height="4" fill="#260000" opacity="0.1"/>
<rect x="342" y="278" width="1" height="13" fill="#260000" opacity="0.22"/>
<rect x="199" y="278" width="2" height="8" fill="#260000" opacity="0.29"/>
<rect x="221" y="333" width="1" height="16" fill="#260000" opacity="0.34"/>
<rect x="255" y="333" width="1" height="16" fill="#260000" opacity="0.13"/>
<rect x="412" y="320" width="1" height="13" fill="#260000" opacity="0.32"/>
<rect x="206" y="286" width="1" height="5" fill="#260000" opacity="0.32"/>
<rect x="236" y="278" width="2" height="8" fill="#260000" opacity="0.24"/>
<rect x="380" y="286" width="2" height="5" fill="#260000" opacity="0.33"/>
<rect x="193" y="310" width="2" height="23" fill="#260000" opacity="0.41"/>
<rect x="384" y="282" width="2" height="4" fill="#260000" opacity="0.31"/>
<rect x="212" y="310" width="1" height="10" fill="#260000" opacity="0.35"/>
<rect x="218" y="296" width="2" height="14" fill="#260000" opacity="0.29"/>
<rect x="378" y="333" width="1" height="16" fill="#260000" opacity="0.25"/>
<rect x="395" y="278" width="1" height="8" fill="#260000" opacity="0.35"/>
<rect x="243" y="282" width="2" height="4" fill="#260000" opacity="0.3"/>
<rect x="243" y="278" width="2" height="4" fill="#260000" opacity="0.19"/>
<rect x="373" y="320" width="1" height="29" fill="#260000" opacity="0.31"/>
<rect x="279" y="282" width="2" height="9" fill="#260000" opacity="0.03"/>
<rect x="376" y="291" width="1" height="11" fill="#260000" opacity="0.19"/>
<rect x="239" y="310" width="2" height="23" fill="#260000" opacity="0.25"/>
<rect x="318" y="181" width="15" height="75" fill="url(#p2g43)"/>
<rect x="318" y="240" width="15" height="32" fill="url(#p2g44)"/>
<rect x="321" y="268" width="10" height="16" fill="url(#p2g45)"/>
<rect x="264" y="245.5" width="54" height="1.5" fill="#b92900" opacity="0.8"/>
<rect x="274" y="229" width="26" height="1" fill="#b13300" opacity="0.6"/>
<rect x="274" y="235" width="26" height="1" fill="#b13300" opacity="0.6"/>
<rect x="393" y="224" width="12" height="1" fill="#b53300" opacity="0.7"/>
<rect x="356" y="181" width="1" height="168" fill="#cc0000"/>
</g></g>
<defs><filter id="p3F" filterUnits="userSpaceOnUse" x="109" y="403" width="234" height="173" color-interpolation-filters="sRGB">
<feTurbulence type="fractalNoise" baseFrequency="1.7 1.3" numOctaves="1" seed="21" result="t1"/>
<feColorMatrix in="t1" type="matrix" values="2 0 0 0 -.5  2 0 0 0 -.5  2 0 0 0 -.5  0 0 0 0 1" result="n0"/>
<feComponentTransfer in="n0" result="n1"><feFuncR type="table" tableValues=".115 .169 .220 .269 .316 .360 .401 .441 .478 .513 .547 .578 .608 .637 .663 .689 .713 .736 .758 .778 .798 .817 .835 .852 .868 .884 .899 .913 .927 .940 .953 .966 .977"/><feFuncG type="table" tableValues=".115 .169 .220 .269 .316 .360 .401 .441 .478 .513 .547 .578 .608 .637 .663 .689 .713 .736 .758 .778 .798 .817 .835 .852 .868 .884 .899 .913 .927 .940 .953 .966 .977"/><feFuncB type="table" tableValues=".115 .169 .220 .269 .316 .360 .401 .441 .478 .513 .547 .578 .608 .637 .663 .689 .713 .736 .758 .778 .798 .817 .835 .852 .868 .884 .899 .913 .927 .940 .953 .966 .977"/></feComponentTransfer>
<feTurbulence type="fractalNoise" baseFrequency="1.7 0.012" numOctaves="1" seed="28" result="t2"/>
<feColorMatrix in="t2" type="matrix" values="2 0 0 0 -.5  2 0 0 0 -.5  2 0 0 0 -.5  0 0 0 0 1" result="n20"/>
<feComponentTransfer in="n20" result="n2"><feFuncR type="table" tableValues=".115 .169 .220 .269 .316 .360 .401 .441 .478 .513 .547 .578 .608 .637 .663 .689 .713 .736 .758 .778 .798 .817 .835 .852 .868 .884 .899 .913 .927 .940 .953 .966 .977"/><feFuncG type="table" tableValues=".115 .169 .220 .269 .316 .360 .401 .441 .478 .513 .547 .578 .608 .637 .663 .689 .713 .736 .758 .778 .798 .817 .835 .852 .868 .884 .899 .913 .927 .940 .953 .966 .977"/><feFuncB type="table" tableValues=".115 .169 .220 .269 .316 .360 .401 .441 .478 .513 .547 .578 .608 .637 .663 .689 .713 .736 .758 .778 .798 .817 .835 .852 .868 .884 .899 .913 .927 .940 .953 .966 .977"/></feComponentTransfer>
<feColorMatrix in="SourceGraphic" type="matrix" values="0 1 0 0 0  0 1 0 0 0  0 1 0 0 0  0 0 0 1 0" result="a1"/>
<feColorMatrix in="SourceGraphic" type="matrix" values="0 0 1 0 0  0 0 1 0 0  0 0 1 0 0  0 0 0 1 0" result="a2"/>
<feColorMatrix in="SourceGraphic" type="matrix" values="1 -.7 -.7 0 0  1 -.7 -.7 0 0  1 -.7 -.7 0 0  0 0 0 1 0" result="v"/>
<feComposite in="a1" in2="n1" operator="arithmetic" k1="1" k2="0" k3="0" k4="0" result="m1"/>
<feComposite in="a2" in2="n2" operator="arithmetic" k1="1" k2="0" k3="0" k4="0" result="m2"/>
<feComposite in="v" in2="m1" operator="arithmetic" k1="0" k2="1" k3="1" k4="0" result="v3"/>
<feComposite in="v3" in2="m2" operator="arithmetic" k1="0" k2="1" k3="1" k4="0" result="v4"/>
<feComponentTransfer in="v4"><feFuncR type="table" tableValues="0 0 0 0 0 0 0 0 0 0.01 0.08 0.23 0.32 0.39 0.34 0.28 0.13 0 0 0 0 0 0 0 0 0 0 0 0 0.08 0.28 0.48 0.65 0.84 1 1 1 1 1 1 1 1 1 1 1 0.97 0.79 0.7 0.65 0.65 0.65 0.65 0.65 0.65 0.65 0.65 0.65"/><feFuncG type="table" tableValues="0 0 0 0 0 0 0 0 0 0 0 0 0 0 0 0 0 0.03 0.19 0.36 0.5 0.65 0.8 0.95 1 1 1 1 1 1 1 1 1 1 1 1 0.94 0.83 0.71 0.58 0.45 0.32 0.14 0 0 0 0 0 0 0 0 0 0 0 0 0 0"/><feFuncB type="table" tableValues="0 0 0 0 0 0 0 0 0 0.02 0.12 0.32 0.47 0.58 0.73 0.89 0.95 1 1 1 1 1 1 1 0.86 0.67 0.48 0.3 0.12 0 0 0 0 0 0 0 0 0 0 0 0 0 0 0 0 0 0 0 0 0 0 0 0 0 0 0 0"/></feComponentTransfer>
<feComposite in2="SourceGraphic" operator="in"/>
</filter><clipPath id="p3C"><rect x="109" y="403" width="234" height="173"/></clipPath><linearGradient id="p3g1" gradientUnits="userSpaceOnUse" x1="109" y1="0" x2="343" y2="0"><stop offset="0" stop-color="#a33300"/><stop offset=".068" stop-color="#a33300"/><stop offset=".132" stop-color="#aa3300"/><stop offset=".197" stop-color="#ae3300"/><stop offset=".389" stop-color="#af3300"/><stop offset=".774" stop-color="#ae3300"/><stop offset=".902" stop-color="#a63300"/><stop offset="1" stop-color="#a53300"/></linearGradient>
<linearGradient id="p3g2" gradientUnits="userSpaceOnUse" x1="109" y1="0" x2="343" y2="0"><stop offset="0" stop-color="#a23300"/><stop offset=".068" stop-color="#a23300"/><stop offset=".132" stop-color="#a93300"/><stop offset=".197" stop-color="#ad3300"/><stop offset=".389" stop-color="#af3300"/><stop offset=".774" stop-color="#ad3300"/><stop offset=".902" stop-color="#a53300"/><stop offset="1" stop-color="#a43300"/></linearGradient>
<linearGradient id="p3g3" gradientUnits="userSpaceOnUse" x1="109" y1="0" x2="343" y2="0"><stop offset="0" stop-color="#a23300"/><stop offset=".068" stop-color="#a23300"/><stop offset=".132" stop-color="#a93300"/><stop offset=".197" stop-color="#ac3300"/><stop offset=".389" stop-color="#ae3300"/><stop offset=".774" stop-color="#ac3300"/><stop offset=".902" stop-color="#a43300"/><stop offset="1" stop-color="#a33300"/></linearGradient>
<linearGradient id="p3g4" gradientUnits="userSpaceOnUse" x1="109" y1="0" x2="343" y2="0"><stop offset="0" stop-color="#a13300"/><stop offset=".068" stop-color="#a13300"/><stop offset=".132" stop-color="#a83300"/><stop offset=".197" stop-color="#ac3300"/><stop offset=".389" stop-color="#ad3300"/><stop offset=".774" stop-color="#ac3300"/><stop offset=".902" stop-color="#a33300"/><stop offset="1" stop-color="#a23300"/></linearGradient>
<linearGradient id="p3g5" gradientUnits="userSpaceOnUse" x1="109" y1="0" x2="343" y2="0"><stop offset="0" stop-color="#a03300"/><stop offset=".068" stop-color="#a03300"/><stop offset=".132" stop-color="#a83300"/><stop offset=".197" stop-color="#ab3300"/><stop offset=".389" stop-color="#ad3300"/><stop offset=".774" stop-color="#ab3300"/><stop offset=".902" stop-color="#a33300"/><stop offset="1" stop-color="#a13300"/></linearGradient>
<linearGradient id="p3g6" gradientUnits="userSpaceOnUse" x1="109" y1="0" x2="343" y2="0"><stop offset="0" stop-color="#a03300"/><stop offset=".068" stop-color="#a03300"/><stop offset=".132" stop-color="#a73300"/><stop offset=".197" stop-color="#aa3300"/><stop offset=".389" stop-color="#ac3300"/><stop offset=".774" stop-color="#aa3300"/><stop offset=".902" stop-color="#a23300"/><stop offset="1" stop-color="#a03300"/></linearGradient>
<linearGradient id="p3g7" gradientUnits="userSpaceOnUse" x1="109" y1="0" x2="343" y2="0"><stop offset="0" stop-color="#9f3300"/><stop offset=".068" stop-color="#9f3300"/><stop offset=".132" stop-color="#a63300"/><stop offset=".197" stop-color="#aa3300"/><stop offset=".389" stop-color="#ab3300"/><stop offset=".774" stop-color="#aa3300"/><stop offset=".902" stop-color="#a13300"/><stop offset="1" stop-color="#9f3300"/></linearGradient>
<linearGradient id="p3g8" gradientUnits="userSpaceOnUse" x1="109" y1="0" x2="343" y2="0"><stop offset="0" stop-color="#9e3300"/><stop offset=".068" stop-color="#9e3300"/><stop offset=".197" stop-color="#a93300"/><stop offset=".389" stop-color="#ab3300"/><stop offset=".774" stop-color="#a93300"/><stop offset=".902" stop-color="#a03300"/><stop offset="1" stop-color="#9e3300"/></linearGradient>
<linearGradient id="p3g9" gradientUnits="userSpaceOnUse" x1="109" y1="0" x2="343" y2="0"><stop offset="0" stop-color="#9d3300"/><stop offset=".068" stop-color="#9d3300"/><stop offset=".197" stop-color="#a83300"/><stop offset=".389" stop-color="#aa3300"/><stop offset=".774" stop-color="#a83300"/><stop offset=".902" stop-color="#9f3300"/><stop offset="1" stop-color="#9d3300"/></linearGradient>
<linearGradient id="p3g10" gradientUnits="userSpaceOnUse" x1="109" y1="0" x2="343" y2="0"><stop offset="0" stop-color="#9d3300"/><stop offset=".068" stop-color="#9d3300"/><stop offset=".197" stop-color="#a73300"/><stop offset=".389" stop-color="#a93300"/><stop offset=".774" stop-color="#a73300"/><stop offset=".902" stop-color="#9e3300"/><stop offset="1" stop-color="#9d3300"/></linearGradient>
<linearGradient id="p3g11" gradientUnits="userSpaceOnUse" x1="109" y1="0" x2="343" y2="0"><stop offset="0" stop-color="#9c3300"/><stop offset=".068" stop-color="#9c3300"/><stop offset=".197" stop-color="#a63300"/><stop offset=".389" stop-color="#a83300"/><stop offset=".774" stop-color="#a63300"/><stop offset=".902" stop-color="#9e3300"/><stop offset="1" stop-color="#9c3300"/></linearGradient>
<linearGradient id="p3g12" gradientUnits="userSpaceOnUse" x1="109" y1="0" x2="343" y2="0"><stop offset="0" stop-color="#9b3300"/><stop offset=".068" stop-color="#9b3300"/><stop offset=".197" stop-color="#a63300"/><stop offset=".389" stop-color="#a73300"/><stop offset=".774" stop-color="#a63300"/><stop offset=".902" stop-color="#9d3300"/><stop offset="1" stop-color="#9b3300"/></linearGradient>
<linearGradient id="p3g13" gradientUnits="userSpaceOnUse" x1="109" y1="0" x2="343" y2="0"><stop offset="0" stop-color="#9a3300"/><stop offset=".068" stop-color="#9a3300"/><stop offset=".197" stop-color="#a53300"/><stop offset=".581" stop-color="#a73300"/><stop offset=".774" stop-color="#a53300"/><stop offset=".902" stop-color="#9c3300"/><stop offset="1" stop-color="#9a3300"/></linearGradient>
<linearGradient id="p3g14" gradientUnits="userSpaceOnUse" x1="109" y1="0" x2="343" y2="0"><stop offset="0" stop-color="#993300"/><stop offset=".068" stop-color="#993300"/><stop offset=".197" stop-color="#a43300"/><stop offset=".581" stop-color="#a63300"/><stop offset=".774" stop-color="#a43300"/><stop offset=".902" stop-color="#9a3300"/><stop offset="1" stop-color="#993300"/></linearGradient>
<linearGradient id="p3g15" gradientUnits="userSpaceOnUse" x1="109" y1="0" x2="343" y2="0"><stop offset="0" stop-color="#983300"/><stop offset=".068" stop-color="#983300"/><stop offset=".197" stop-color="#a33300"/><stop offset=".581" stop-color="#a43300"/><stop offset=".774" stop-color="#a33300"/><stop offset=".902" stop-color="#993300"/><stop offset="1" stop-color="#973300"/></linearGradient>
<linearGradient id="p3g16" gradientUnits="userSpaceOnUse" x1="109" y1="0" x2="343" y2="0"><stop offset="0" stop-color="#973300"/><stop offset=".068" stop-color="#973300"/><stop offset=".197" stop-color="#a23300"/><stop offset=".581" stop-color="#a33300"/><stop offset=".774" stop-color="#a23300"/><stop offset=".838" stop-color="#9e3300"/><stop offset=".902" stop-color="#983300"/><stop offset="1" stop-color="#963300"/></linearGradient>
<linearGradient id="p3g17" gradientUnits="userSpaceOnUse" x1="109" y1="0" x2="343" y2="0"><stop offset="0" stop-color="#963300"/><stop offset=".068" stop-color="#963300"/><stop offset=".197" stop-color="#a13300"/><stop offset=".581" stop-color="#a23300"/><stop offset=".774" stop-color="#a13300"/><stop offset=".838" stop-color="#9d3300"/><stop offset=".902" stop-color="#963300"/><stop offset="1" stop-color="#943300"/></linearGradient>
<linearGradient id="p3g18" gradientUnits="userSpaceOnUse" x1="109" y1="0" x2="343" y2="0"><stop offset="0" stop-color="#953300"/><stop offset=".068" stop-color="#953300"/><stop offset=".197" stop-color="#9f3300"/><stop offset=".517" stop-color="#a13300"/><stop offset=".774" stop-color="#9f3300"/><stop offset=".838" stop-color="#9c3300"/><stop offset=".902" stop-color="#943300"/><stop offset="1" stop-color="#933300"/></linearGradient>
<linearGradient id="p3g19" gradientUnits="userSpaceOnUse" x1="109" y1="0" x2="343" y2="0"><stop offset="0" stop-color="#923300"/><stop offset=".068" stop-color="#923300"/><stop offset=".197" stop-color="#9c3300"/><stop offset=".517" stop-color="#a13300"/><stop offset=".774" stop-color="#9b3300"/><stop offset=".838" stop-color="#983300"/><stop offset=".902" stop-color="#923300"/><stop offset="1" stop-color="#903300"/></linearGradient>
<linearGradient id="p3g20" gradientUnits="userSpaceOnUse" x1="109" y1="0" x2="343" y2="0"><stop offset="0" stop-color="#903300"/><stop offset=".068" stop-color="#903300"/><stop offset=".197" stop-color="#983300"/><stop offset=".325" stop-color="#9b3300"/><stop offset=".389" stop-color="#a03300"/><stop offset=".517" stop-color="#a13300"/><stop offset=".838" stop-color="#953300"/><stop offset=".902" stop-color="#8f3300"/><stop offset="1" stop-color="#8d3300"/></linearGradient>
<linearGradient id="p3g21" gradientUnits="userSpaceOnUse" x1="109" y1="0" x2="343" y2="0"><stop offset="0" stop-color="#8d3300"/><stop offset=".068" stop-color="#8d3300"/><stop offset=".197" stop-color="#953300"/><stop offset=".325" stop-color="#993300"/><stop offset=".389" stop-color="#9f3300"/><stop offset=".517" stop-color="#a13300"/><stop offset=".581" stop-color="#9f3300"/><stop offset=".645" stop-color="#993300"/><stop offset=".838" stop-color="#923300"/><stop offset=".902" stop-color="#8c3300"/><stop offset="1" stop-color="#8a3300"/></linearGradient>
<linearGradient id="p3g22" gradientUnits="userSpaceOnUse" x1="109" y1="0" x2="343" y2="0"><stop offset="0" stop-color="#8b3300"/><stop offset=".068" stop-color="#8b3300"/><stop offset=".325" stop-color="#973300"/><stop offset=".389" stop-color="#9e3300"/><stop offset=".453" stop-color="#a13300"/><stop offset=".517" stop-color="#a13300"/><stop offset=".581" stop-color="#9e3300"/><stop offset=".645" stop-color="#973300"/><stop offset=".838" stop-color="#8e3300"/><stop offset=".902" stop-color="#893300"/><stop offset="1" stop-color="#873300"/></linearGradient>
<linearGradient id="p3g23" gradientUnits="userSpaceOnUse" x1="109" y1="0" x2="343" y2="0"><stop offset="0" stop-color="#883300"/><stop offset=".068" stop-color="#883300"/><stop offset=".261" stop-color="#913300"/><stop offset=".325" stop-color="#953300"/><stop offset=".389" stop-color="#9d3300"/><stop offset=".453" stop-color="#a23300"/><stop offset=".517" stop-color="#a23300"/><stop offset=".709" stop-color="#903300"/><stop offset=".902" stop-color="#873300"/><stop offset="1" stop-color="#853300"/></linearGradient>
<linearGradient id="p3g24" gradientUnits="userSpaceOnUse" x1="109" y1="0" x2="343" y2="0"><stop offset="0" stop-color="#863300"/><stop offset=".068" stop-color="#863300"/><stop offset=".261" stop-color="#8f3300"/><stop offset=".325" stop-color="#943300"/><stop offset=".389" stop-color="#9d3300"/><stop offset=".453" stop-color="#a23300"/><stop offset=".517" stop-color="#a23300"/><stop offset=".709" stop-color="#8d3300"/><stop offset=".774" stop-color="#8a3300"/><stop offset="1" stop-color="#843300"/></linearGradient>
<linearGradient id="p3g25" gradientUnits="userSpaceOnUse" x1="109" y1="0" x2="343" y2="0"><stop offset="0" stop-color="#843300"/><stop offset=".132" stop-color="#863300"/><stop offset=".261" stop-color="#8d3300"/><stop offset=".325" stop-color="#923300"/><stop offset=".389" stop-color="#9c3300"/><stop offset=".453" stop-color="#a33300"/><stop offset=".517" stop-color="#a33300"/><stop offset=".709" stop-color="#8a3300"/><stop offset=".774" stop-color="#863300"/><stop offset="1" stop-color="#823300"/></linearGradient>
<linearGradient id="p3g26" gradientUnits="userSpaceOnUse" x1="109" y1="0" x2="343" y2="0"><stop offset="0" stop-color="#833300"/><stop offset=".132" stop-color="#843300"/><stop offset=".261" stop-color="#8c3300"/><stop offset=".325" stop-color="#923300"/><stop offset=".389" stop-color="#9d3300"/><stop offset=".453" stop-color="#a43300"/><stop offset=".517" stop-color="#a43300"/><stop offset=".709" stop-color="#883300"/><stop offset=".774" stop-color="#843300"/><stop offset="1" stop-color="#813300"/></linearGradient>
<linearGradient id="p3g27" gradientUnits="userSpaceOnUse" x1="109" y1="0" x2="343" y2="0"><stop offset="0" stop-color="#823300"/><stop offset=".132" stop-color="#843300"/><stop offset=".261" stop-color="#8c3300"/><stop offset=".453" stop-color="#a53300"/><stop offset=".517" stop-color="#a43300"/><stop offset=".709" stop-color="#863300"/><stop offset="1" stop-color="#803300"/></linearGradient>
<linearGradient id="p3g28" gradientUnits="userSpaceOnUse" x1="109" y1="0" x2="343" y2="0"><stop offset="0" stop-color="#813300"/><stop offset=".068" stop-color="#813300"/><stop offset=".197" stop-color="#873300"/><stop offset=".261" stop-color="#8c3300"/><stop offset=".389" stop-color="#a03300"/><stop offset=".453" stop-color="#a73300"/><stop offset=".517" stop-color="#a53300"/><stop offset=".645" stop-color="#8e3300"/><stop offset=".709" stop-color="#853300"/><stop offset="1" stop-color="#803300"/></linearGradient>
<linearGradient id="p3g29" gradientUnits="userSpaceOnUse" x1="109" y1="0" x2="343" y2="0"><stop offset="0" stop-color="#83291f"/><stop offset=".068" stop-color="#83291f"/><stop offset=".132" stop-color="#87291c"/><stop offset=".389" stop-color="#9c290c"/><stop offset=".453" stop-color="#a02909"/><stop offset=".517" stop-color="#9e2909"/><stop offset=".709" stop-color="#872918"/><stop offset="1" stop-color="#80291f"/></linearGradient>
<linearGradient id="p3g30" gradientUnits="userSpaceOnUse" x1="109" y1="0" x2="343" y2="0"><stop offset="0" stop-color="#80291f"/><stop offset=".068" stop-color="#80291f"/><stop offset=".132" stop-color="#83291c"/><stop offset=".197" stop-color="#8e2918"/><stop offset=".389" stop-color="#a7290c"/><stop offset=".453" stop-color="#a92909"/><stop offset=".517" stop-color="#a72909"/><stop offset=".709" stop-color="#872918"/><stop offset=".774" stop-color="#83291c"/><stop offset=".902" stop-color="#81291f"/><stop offset="1" stop-color="#7c291f"/></linearGradient>
<linearGradient id="p3g31" gradientUnits="userSpaceOnUse" x1="109" y1="0" x2="343" y2="0"><stop offset="0" stop-color="#80001f"/><stop offset=".132" stop-color="#88001c"/><stop offset=".197" stop-color="#910018"/><stop offset=".389" stop-color="#b3000c"/><stop offset=".453" stop-color="#ba0009"/><stop offset=".517" stop-color="#b50009"/><stop offset=".709" stop-color="#910018"/><stop offset=".774" stop-color="#88001c"/><stop offset="1" stop-color="#7a001f"/></linearGradient>
<linearGradient id="p3g32" gradientUnits="userSpaceOnUse" x1="109" y1="0" x2="343" y2="0"><stop offset="0" stop-color="#8a000f"/><stop offset=".068" stop-color="#91000f"/><stop offset=".132" stop-color="#9c000e"/><stop offset=".197" stop-color="#a1000c"/><stop offset=".325" stop-color="#b50008"/><stop offset=".389" stop-color="#c30006"/><stop offset=".453" stop-color="#ca0005"/><stop offset=".517" stop-color="#c70005"/><stop offset=".581" stop-color="#b50006"/><stop offset=".645" stop-color="#a70009"/><stop offset=".709" stop-color="#9c000c"/><stop offset=".902" stop-color="#87000f"/><stop offset="1" stop-color="#80000f"/></linearGradient>
<linearGradient id="p3g33" gradientUnits="userSpaceOnUse" x1="109" y1="0" x2="343" y2="0"><stop offset="0" stop-color="#8c000f"/><stop offset=".197" stop-color="#a9000c"/><stop offset=".325" stop-color="#c30008"/><stop offset=".389" stop-color="#cc0006"/><stop offset=".453" stop-color="#dc0005"/><stop offset=".517" stop-color="#d80005"/><stop offset=".581" stop-color="#c70006"/><stop offset=".645" stop-color="#ba0009"/><stop offset=".838" stop-color="#9e000f"/><stop offset=".944" stop-color="#8a000f"/><stop offset="1" stop-color="#83000f"/></linearGradient>
<linearGradient id="p3g34" gradientUnits="userSpaceOnUse" x1="109" y1="0" x2="343" y2="0"><stop offset="0" stop-color="#8e000f"/><stop offset=".132" stop-color="#ac000e"/><stop offset=".197" stop-color="#c0000c"/><stop offset=".261" stop-color="#cc000b"/><stop offset=".325" stop-color="#e00008"/><stop offset=".389" stop-color="#e40006"/><stop offset=".517" stop-color="#e40005"/><stop offset=".581" stop-color="#e00006"/><stop offset=".645" stop-color="#d80009"/><stop offset=".709" stop-color="#c0000c"/><stop offset=".774" stop-color="#b1000e"/><stop offset=".902" stop-color="#a0000f"/><stop offset=".944" stop-color="#8e000f"/><stop offset="1" stop-color="#87000f"/></linearGradient>
<linearGradient id="p3g35" gradientUnits="userSpaceOnUse" x1="109" y1="0" x2="343" y2="0"><stop offset="0" stop-color="#8c000f"/><stop offset=".068" stop-color="#95000f"/><stop offset=".132" stop-color="#a3000e"/><stop offset=".325" stop-color="#dc0008"/><stop offset=".389" stop-color="#e40006"/><stop offset=".517" stop-color="#e40005"/><stop offset=".581" stop-color="#dc0006"/><stop offset=".709" stop-color="#b9000c"/><stop offset=".774" stop-color="#ac000e"/><stop offset=".902" stop-color="#9c000f"/><stop offset=".944" stop-color="#8c000f"/><stop offset="1" stop-color="#85000f"/></linearGradient>
<linearGradient id="p3g36" gradientUnits="userSpaceOnUse" x1="109" y1="0" x2="343" y2="0"><stop offset="0" stop-color="#83001b"/><stop offset=".068" stop-color="#8c001b"/><stop offset=".197" stop-color="#a10015"/><stop offset=".325" stop-color="#bc000d"/><stop offset=".389" stop-color="#c5000b"/><stop offset=".453" stop-color="#ca0008"/><stop offset=".517" stop-color="#c90008"/><stop offset=".581" stop-color="#c3000b"/><stop offset=".774" stop-color="#980018"/><stop offset=".838" stop-color="#8e001b"/><stop offset="1" stop-color="#78001b"/></linearGradient>
<linearGradient id="p3g37" gradientUnits="userSpaceOnUse" x1="109" y1="0" x2="343" y2="0"><stop offset="0" stop-color="#75001b"/><stop offset=".132" stop-color="#8c0018"/><stop offset=".325" stop-color="#a9000d"/><stop offset=".453" stop-color="#c00008"/><stop offset=".517" stop-color="#be0008"/><stop offset=".709" stop-color="#950015"/><stop offset=".902" stop-color="#78001b"/><stop offset="1" stop-color="#6e001b"/></linearGradient>
<linearGradient id="p3g38" gradientUnits="userSpaceOnUse" x1="109" y1="0" x2="343" y2="0"><stop offset="0" stop-color="#6e001f"/><stop offset=".068" stop-color="#75001f"/><stop offset=".197" stop-color="#880018"/><stop offset=".325" stop-color="#a0000f"/><stop offset=".453" stop-color="#b30009"/><stop offset=".517" stop-color="#b10009"/><stop offset=".645" stop-color="#9e0012"/><stop offset=".709" stop-color="#8e0018"/><stop offset=".838" stop-color="#80001f"/><stop offset=".902" stop-color="#75001f"/><stop offset="1" stop-color="#6e001f"/></linearGradient>
<linearGradient id="p3g39" gradientUnits="userSpaceOnUse" x1="109" y1="0" x2="343" y2="0"><stop offset="0" stop-color="#6a001f"/><stop offset=".068" stop-color="#6e001f"/><stop offset=".261" stop-color="#8e0015"/><stop offset=".325" stop-color="#9c000f"/><stop offset=".453" stop-color="#ac0009"/><stop offset=".517" stop-color="#aa0009"/><stop offset=".645" stop-color="#970012"/><stop offset=".709" stop-color="#880018"/><stop offset=".774" stop-color="#83001c"/><stop offset=".838" stop-color="#7a001f"/><stop offset=".902" stop-color="#6e001f"/><stop offset="1" stop-color="#6a001f"/></linearGradient>
<linearGradient id="p3g40" gradientUnits="userSpaceOnUse" x1="109" y1="0" x2="343" y2="0"><stop offset="0" stop-color="#6a001f"/><stop offset=".068" stop-color="#65001f"/><stop offset=".261" stop-color="#8c0015"/><stop offset=".389" stop-color="#a1000c"/><stop offset=".453" stop-color="#a90009"/><stop offset=".517" stop-color="#a70009"/><stop offset=".581" stop-color="#9e000c"/><stop offset=".709" stop-color="#830018"/><stop offset=".774" stop-color="#80001c"/><stop offset=".902" stop-color="#6a001f"/><stop offset="1" stop-color="#67001f"/></linearGradient>
<linearGradient id="p3g41" gradientUnits="userSpaceOnUse" x1="109" y1="0" x2="343" y2="0"><stop offset="0" stop-color="#6a001f"/><stop offset=".068" stop-color="#65001f"/><stop offset=".132" stop-color="#6e001c"/><stop offset=".325" stop-color="#95000f"/><stop offset=".453" stop-color="#a90009"/><stop offset=".517" stop-color="#a70009"/><stop offset=".581" stop-color="#9e000c"/><stop offset=".709" stop-color="#800018"/><stop offset=".774" stop-color="#80001c"/><stop offset=".838" stop-color="#73001f"/><stop offset=".902" stop-color="#6a001f"/><stop offset="1" stop-color="#71001f"/></linearGradient>
<linearGradient id="p3g42" gradientUnits="userSpaceOnUse" x1="109" y1="0" x2="343" y2="0"><stop offset="0" stop-color="#6a001f"/><stop offset=".068" stop-color="#63001f"/><stop offset=".197" stop-color="#780018"/><stop offset=".389" stop-color="#a0000c"/><stop offset=".453" stop-color="#a90009"/><stop offset=".517" stop-color="#a70009"/><stop offset=".581" stop-color="#9e000c"/><stop offset=".709" stop-color="#830018"/><stop offset=".774" stop-color="#80001c"/><stop offset=".902" stop-color="#6e001f"/><stop offset="1" stop-color="#77001f"/></linearGradient></defs>
<g filter="url(#p3F)"><g clip-path="url(#p3C)">
<rect x="109" y="403" width="234" height="173" fill="#910000"/>
<rect x="109" y="403" width="234" height="3" fill="url(#p3g1)"/>
<rect x="109" y="406" width="234" height="3" fill="url(#p3g2)"/>
<rect x="109" y="409" width="234" height="3" fill="url(#p3g3)"/>
<rect x="109" y="412" width="234" height="3" fill="url(#p3g4)"/>
<rect x="109" y="415" width="234" height="3" fill="url(#p3g5)"/>
<rect x="109" y="418" width="234" height="3" fill="url(#p3g6)"/>
<rect x="109" y="421" width="234" height="3" fill="url(#p3g7)"/>
<rect x="109" y="424" width="234" height="3" fill="url(#p3g8)"/>
<rect x="109" y="427" width="234" height="3" fill="url(#p3g9)"/>
<rect x="109" y="430" width="234" height="3" fill="url(#p3g10)"/>
<rect x="109" y="433" width="234" height="3" fill="url(#p3g11)"/>
<rect x="109" y="436" width="234" height="3" fill="url(#p3g12)"/>
<rect x="109" y="439" width="234" height="3" fill="url(#p3g13)"/>
<rect x="109" y="442" width="234" height="3" fill="url(#p3g14)"/>
<rect x="109" y="445" width="234" height="3" fill="url(#p3g15)"/>
<rect x="109" y="448" width="234" height="3" fill="url(#p3g16)"/>
<rect x="109" y="451" width="234" height="3" fill="url(#p3g17)"/>
<rect x="109" y="454" width="234" height="3" fill="url(#p3g18)"/>
<rect x="109" y="457" width="234" height="3" fill="url(#p3g19)"/>
<rect x="109" y="460" width="234" height="3" fill="url(#p3g20)"/>
<rect x="109" y="463" width="234" height="3" fill="url(#p3g21)"/>
<rect x="109" y="466" width="234" height="3" fill="url(#p3g22)"/>
<rect x="109" y="469" width="234" height="3" fill="url(#p3g23)"/>
<rect x="109" y="472" width="234" height="3" fill="url(#p3g24)"/>
<rect x="109" y="475" width="234" height="3" fill="url(#p3g25)"/>
<rect x="109" y="478" width="234" height="3" fill="url(#p3g26)"/>
<rect x="109" y="481" width="234" height="3" fill="url(#p3g27)"/>
<rect x="109" y="484" width="234" height="2" fill="url(#p3g28)"/>
<rect x="109" y="486" width="234" height="3" fill="url(#p3g29)"/>
<rect x="109" y="489" width="234" height="3" fill="url(#p3g30)"/>
<rect x="109" y="492" width="234" height="3" fill="url(#p3g31)"/>
<rect x="109" y="495" width="234" height="3" fill="url(#p3g32)"/>
<rect x="109" y="498" width="234" height="4" fill="url(#p3g33)"/>
<rect x="109" y="502" width="234" height="4" fill="url(#p3g34)"/>
<rect x="109" y="506" width="234" height="4" fill="url(#p3g35)"/>
<rect x="109" y="510" width="234" height="5" fill="url(#p3g36)"/>
<rect x="109" y="515" width="234" height="6" fill="url(#p3g37)"/>
<rect x="109" y="521" width="234" height="6" fill="url(#p3g38)"/>
<rect x="109" y="527" width="234" height="8" fill="url(#p3g39)"/>
<rect x="109" y="535" width="234" height="10" fill="url(#p3g40)"/>
<rect x="109" y="545" width="234" height="13" fill="url(#p3g41)"/>
<rect x="109" y="558" width="234" height="18" fill="url(#p3g42)"/>
<rect x="142" y="521" width="1" height="14" fill="#260000" opacity="0.2"/>
<rect x="341" y="535" width="1" height="23" fill="#260000" opacity="0.18"/>
<rect x="292" y="510" width="2" height="11" fill="#260000" opacity="0.18"/>
<rect x="329" y="515" width="2" height="6" fill="#260000" opacity="0.29"/>
<rect x="260" y="510" width="1" height="5" fill="#260000" opacity="0.05"/>
<rect x="314" y="545" width="1" height="13" fill="#260000" opacity="0.15"/>
<rect x="281" y="515" width="2" height="6" fill="#260000" opacity="0.16"/>
<rect x="116" y="521" width="1" height="24" fill="#260000" opacity="0.28"/>
<rect x="340" y="558" width="1" height="18" fill="#260000" opacity="0.26"/>
<rect x="140" y="510" width="2" height="17" fill="#260000" opacity="0.13"/>
<rect x="313" y="545" width="1" height="13" fill="#260000" opacity="0.22"/>
<rect x="120" y="510" width="2" height="5" fill="#260000" opacity="0.28"/>
<rect x="118" y="558" width="1" height="18" fill="#260000" opacity="0.33"/>
<rect x="176" y="558" width="1" height="18" fill="#260000" opacity="0.05"/>
<rect x="331" y="515" width="1" height="12" fill="#260000" opacity="0.26"/>
<rect x="316" y="527" width="1" height="31" fill="#260000" opacity="0.32"/>
<rect x="143" y="515" width="2" height="6" fill="#260000" opacity="0.16"/>
<rect x="114" y="515" width="1" height="6" fill="#260000" opacity="0.19"/>
<rect x="303" y="521" width="1" height="6" fill="#260000" opacity="0.29"/>
<rect x="135" y="558" width="1" height="18" fill="#260000" opacity="0.17"/>
<rect x="135" y="535" width="1" height="41" fill="#260000" opacity="0.2"/>
<rect x="328" y="558" width="1" height="18" fill="#260000" opacity="0.31"/>
<rect x="310" y="521" width="1" height="6" fill="#260000" opacity="0.3"/>
<rect x="323" y="510" width="1" height="5" fill="#260000" opacity="0.3"/>
<rect x="273" y="521" width="1" height="6" fill="#260000" opacity="0.12"/>
<rect x="271" y="527" width="2" height="18" fill="#260000" opacity="0.07"/>
<rect x="110" y="510" width="2" height="11" fill="#260000" opacity="0.25"/>
<rect x="292" y="515" width="1" height="12" fill="#260000" opacity="0.2"/>
<rect x="336" y="558" width="1" height="18" fill="#260000" opacity="0.16"/>
<rect x="171" y="510" width="1" height="17" fill="#260000" opacity="0.12"/>
<rect x="339" y="558" width="2" height="18" fill="#260000" opacity="0.29"/>
<rect x="152" y="545" width="1" height="31" fill="#260000" opacity="0.16"/>
<rect x="342" y="535" width="1" height="10" fill="#260000" opacity="0.33"/>
<rect x="309" y="545" width="1" height="13" fill="#260000" opacity="0.24"/>
<rect x="318" y="545" width="1" height="13" fill="#260000" opacity="0.3"/>
<rect x="110" y="521" width="1" height="14" fill="#260000" opacity="0.29"/>
<rect x="172" y="521" width="2" height="14" fill="#260000" opacity="0.05"/>
<rect x="109" y="510" width="1" height="5" fill="#260000" opacity="0.16"/>
<rect x="126" y="558" width="1" height="18" fill="#260000" opacity="0.24"/>
<rect x="176" y="535" width="1" height="23" fill="#260000" opacity="0.04"/>
<rect x="109" y="527" width="1" height="8" fill="#260000" opacity="0.15"/>
<rect x="309" y="515" width="2" height="6" fill="#260000" opacity="0.15"/>
<rect x="288" y="515" width="2" height="12" fill="#260000" opacity="0.11"/>
<rect x="286" y="510" width="1" height="11" fill="#260000" opacity="0.17"/>
<rect x="334" y="535" width="1" height="10" fill="#260000" opacity="0.16"/>
<rect x="285" y="510" width="2" height="17" fill="#260000" opacity="0.2"/>
<rect x="296" y="521" width="1" height="6" fill="#260000" opacity="0.2"/>
<rect x="120" y="521" width="2" height="6" fill="#260000" opacity="0.18"/>
<rect x="115" y="510" width="1" height="5" fill="#260000" opacity="0.31"/>
<rect x="281" y="515" width="1" height="6" fill="#260000" opacity="0.2"/>
<rect x="118" y="521" width="1" height="14" fill="#260000" opacity="0.16"/>
<rect x="300" y="521" width="1" height="6" fill="#260000" opacity="0.29"/>
<rect x="274" y="521" width="2" height="24" fill="#260000" opacity="0.11"/>
<rect x="130" y="545" width="1" height="31" fill="#260000" opacity="0.21"/>
<rect x="284" y="515" width="1" height="12" fill="#260000" opacity="0.12"/>
<rect x="205" y="434.5" width="45" height="1.5" fill="#c31f00" opacity="0.75"/>
<rect x="137" y="450.5" width="173" height="1.5" fill="#bc2900" opacity="0.65"/>
<rect x="137" y="460.5" width="173" height="1.5" fill="#b52900" opacity="0.55"/>
<rect x="190" y="460.5" width="70" height="1.5" fill="#c02900" opacity="0.6"/>
<rect x="195" y="478.5" width="70" height="1.5" fill="#c71400" opacity="0.9"/>
<rect x="265" y="478.5" width="45" height="1" fill="#a32900" opacity="0.7"/>
<rect x="195" y="412" width="70" height="1" fill="#b53300" opacity="0.5"/>
<rect x="195" y="418" width="70" height="1" fill="#b53300" opacity="0.5"/>
<rect x="195" y="424" width="70" height="1" fill="#b53300" opacity="0.5"/>
<rect x="195" y="429" width="70" height="1" fill="#b53300" opacity="0.5"/>
<rect x="222" y="528" width="1" height="48" fill="#cc0000"/>
</g></g>
<defs><filter id="p4F" filterUnits="userSpaceOnUse" x="109" y="576" width="234" height="173" color-interpolation-filters="sRGB">
<feTurbulence type="fractalNoise" baseFrequency="1.7 1.3" numOctaves="1" seed="31" result="t1"/>
<feColorMatrix in="t1" type="matrix" values="2 0 0 0 -.5  2 0 0 0 -.5  2 0 0 0 -.5  0 0 0 0 1" result="n0"/>
<feComponentTransfer in="n0" result="n1"><feFuncR type="table" tableValues=".115 .169 .220 .269 .316 .360 .401 .441 .478 .513 .547 .578 .608 .637 .663 .689 .713 .736 .758 .778 .798 .817 .835 .852 .868 .884 .899 .913 .927 .940 .953 .966 .977"/><feFuncG type="table" tableValues=".115 .169 .220 .269 .316 .360 .401 .441 .478 .513 .547 .578 .608 .637 .663 .689 .713 .736 .758 .778 .798 .817 .835 .852 .868 .884 .899 .913 .927 .940 .953 .966 .977"/><feFuncB type="table" tableValues=".115 .169 .220 .269 .316 .360 .401 .441 .478 .513 .547 .578 .608 .637 .663 .689 .713 .736 .758 .778 .798 .817 .835 .852 .868 .884 .899 .913 .927 .940 .953 .966 .977"/></feComponentTransfer>
<feTurbulence type="fractalNoise" baseFrequency="1.7 0.012" numOctaves="1" seed="38" result="t2"/>
<feColorMatrix in="t2" type="matrix" values="2 0 0 0 -.5  2 0 0 0 -.5  2 0 0 0 -.5  0 0 0 0 1" result="n20"/>
<feComponentTransfer in="n20" result="n2"><feFuncR type="table" tableValues=".115 .169 .220 .269 .316 .360 .401 .441 .478 .513 .547 .578 .608 .637 .663 .689 .713 .736 .758 .778 .798 .817 .835 .852 .868 .884 .899 .913 .927 .940 .953 .966 .977"/><feFuncG type="table" tableValues=".115 .169 .220 .269 .316 .360 .401 .441 .478 .513 .547 .578 .608 .637 .663 .689 .713 .736 .758 .778 .798 .817 .835 .852 .868 .884 .899 .913 .927 .940 .953 .966 .977"/><feFuncB type="table" tableValues=".115 .169 .220 .269 .316 .360 .401 .441 .478 .513 .547 .578 .608 .637 .663 .689 .713 .736 .758 .778 .798 .817 .835 .852 .868 .884 .899 .913 .927 .940 .953 .966 .977"/></feComponentTransfer>
<feColorMatrix in="SourceGraphic" type="matrix" values="0 1 0 0 0  0 1 0 0 0  0 1 0 0 0  0 0 0 1 0" result="a1"/>
<feColorMatrix in="SourceGraphic" type="matrix" values="0 0 1 0 0  0 0 1 0 0  0 0 1 0 0  0 0 0 1 0" result="a2"/>
<feColorMatrix in="SourceGraphic" type="matrix" values="1 -.7 -.7 0 0  1 -.7 -.7 0 0  1 -.7 -.7 0 0  0 0 0 1 0" result="v"/>
<feComposite in="a1" in2="n1" operator="arithmetic" k1="1" k2="0" k3="0" k4="0" result="m1"/>
<feComposite in="a2" in2="n2" operator="arithmetic" k1="1" k2="0" k3="0" k4="0" result="m2"/>
<feComposite in="v" in2="m1" operator="arithmetic" k1="0" k2="1" k3="1" k4="0" result="v3"/>
<feComposite in="v3" in2="m2" operator="arithmetic" k1="0" k2="1" k3="1" k4="0" result="v4"/>
<feComponentTransfer in="v4"><feFuncR type="table" tableValues="0 0 0 0 0 0 0 0 0 0.01 0.08 0.23 0.32 0.39 0.34 0.28 0.13 0 0 0 0 0 0 0 0 0 0 0 0 0.08 0.28 0.48 0.65 0.84 1 1 1 1 1 1 1 1 1 1 1 0.97 0.79 0.7 0.65 0.65 0.65 0.65 0.65 0.65 0.65 0.65 0.65"/><feFuncG type="table" tableValues="0 0 0 0 0 0 0 0 0 0 0 0 0 0 0 0 0 0.03 0.19 0.36 0.5 0.65 0.8 0.95 1 1 1 1 1 1 1 1 1 1 1 1 0.94 0.83 0.71 0.58 0.45 0.32 0.14 0 0 0 0 0 0 0 0 0 0 0 0 0 0"/><feFuncB type="table" tableValues="0 0 0 0 0 0 0 0 0 0.02 0.12 0.32 0.47 0.58 0.73 0.89 0.95 1 1 1 1 1 1 1 0.86 0.67 0.48 0.3 0.12 0 0 0 0 0 0 0 0 0 0 0 0 0 0 0 0 0 0 0 0 0 0 0 0 0 0 0 0"/></feComponentTransfer>
<feComposite in2="SourceGraphic" operator="in"/>
</filter><clipPath id="p4C"><rect x="109" y="576" width="234" height="173"/></clipPath><linearGradient id="p4g1" gradientUnits="userSpaceOnUse" x1="109" y1="0" x2="343" y2="0"><stop offset="0" stop-color="#9e4200"/><stop offset=".197" stop-color="#9e4200"/><stop offset=".453" stop-color="#a44200"/><stop offset=".774" stop-color="#9e4200"/><stop offset="1" stop-color="#9e4200"/></linearGradient>
<linearGradient id="p4g2" gradientUnits="userSpaceOnUse" x1="109" y1="0" x2="343" y2="0"><stop offset="0" stop-color="#9e4200"/><stop offset=".197" stop-color="#9e4200"/><stop offset=".453" stop-color="#a34200"/><stop offset=".774" stop-color="#9e4200"/><stop offset="1" stop-color="#9e4200"/></linearGradient>
<linearGradient id="p4g3" gradientUnits="userSpaceOnUse" x1="109" y1="0" x2="343" y2="0"><stop offset="0" stop-color="#9d4200"/><stop offset=".197" stop-color="#9d4200"/><stop offset=".453" stop-color="#a24200"/><stop offset=".774" stop-color="#9d4200"/><stop offset="1" stop-color="#9d4200"/></linearGradient>
<linearGradient id="p4g4" gradientUnits="userSpaceOnUse" x1="109" y1="0" x2="343" y2="0"><stop offset="0" stop-color="#9c4200"/><stop offset=".197" stop-color="#9c4200"/><stop offset=".453" stop-color="#a24200"/><stop offset=".774" stop-color="#9c4200"/><stop offset="1" stop-color="#9c4200"/></linearGradient>
<linearGradient id="p4g5" gradientUnits="userSpaceOnUse" x1="109" y1="0" x2="343" y2="0"><stop offset="0" stop-color="#9c4200"/><stop offset=".197" stop-color="#9c4200"/><stop offset=".453" stop-color="#a14200"/><stop offset=".774" stop-color="#9c4200"/><stop offset="1" stop-color="#9c4200"/></linearGradient>
<linearGradient id="p4g6" gradientUnits="userSpaceOnUse" x1="109" y1="0" x2="343" y2="0"><stop offset="0" stop-color="#9b4200"/><stop offset=".197" stop-color="#9b4200"/><stop offset=".453" stop-color="#a04200"/><stop offset=".774" stop-color="#9b4200"/><stop offset="1" stop-color="#9b4200"/></linearGradient>
<linearGradient id="p4g7" gradientUnits="userSpaceOnUse" x1="109" y1="0" x2="343" y2="0"><stop offset="0" stop-color="#9a4200"/><stop offset=".197" stop-color="#9a4200"/><stop offset=".453" stop-color="#a04200"/><stop offset=".774" stop-color="#9a4200"/><stop offset="1" stop-color="#9a4200"/></linearGradient>
<linearGradient id="p4g8" gradientUnits="userSpaceOnUse" x1="109" y1="0" x2="343" y2="0"><stop offset="0" stop-color="#9a4200"/><stop offset=".197" stop-color="#9a4200"/><stop offset=".453" stop-color="#9f4200"/><stop offset=".774" stop-color="#9a4200"/><stop offset="1" stop-color="#9a4200"/></linearGradient>
<linearGradient id="p4g9" gradientUnits="userSpaceOnUse" x1="109" y1="0" x2="343" y2="0"><stop offset="0" stop-color="#994200"/><stop offset=".197" stop-color="#994200"/><stop offset=".517" stop-color="#9e4200"/><stop offset=".774" stop-color="#994200"/><stop offset="1" stop-color="#994200"/></linearGradient>
<linearGradient id="p4g10" gradientUnits="userSpaceOnUse" x1="109" y1="0" x2="343" y2="0"><stop offset="0" stop-color="#984200"/><stop offset=".197" stop-color="#984200"/><stop offset=".517" stop-color="#9d4200"/><stop offset=".774" stop-color="#984200"/><stop offset="1" stop-color="#974200"/></linearGradient>
<linearGradient id="p4g11" gradientUnits="userSpaceOnUse" x1="109" y1="0" x2="343" y2="0"><stop offset="0" stop-color="#974200"/><stop offset=".197" stop-color="#974200"/><stop offset=".517" stop-color="#9c4200"/><stop offset=".774" stop-color="#974200"/><stop offset="1" stop-color="#964200"/></linearGradient>
<linearGradient id="p4g12" gradientUnits="userSpaceOnUse" x1="109" y1="0" x2="343" y2="0"><stop offset="0" stop-color="#964200"/><stop offset=".197" stop-color="#964200"/><stop offset=".517" stop-color="#9b4200"/><stop offset=".774" stop-color="#964200"/><stop offset="1" stop-color="#954200"/></linearGradient>
<linearGradient id="p4g13" gradientUnits="userSpaceOnUse" x1="109" y1="0" x2="343" y2="0"><stop offset="0" stop-color="#954200"/><stop offset=".197" stop-color="#954200"/><stop offset=".517" stop-color="#9a4200"/><stop offset=".774" stop-color="#954200"/><stop offset="1" stop-color="#944200"/></linearGradient>
<linearGradient id="p4g14" gradientUnits="userSpaceOnUse" x1="109" y1="0" x2="343" y2="0"><stop offset="0" stop-color="#934200"/><stop offset=".197" stop-color="#934200"/><stop offset=".517" stop-color="#994200"/><stop offset=".774" stop-color="#934200"/><stop offset="1" stop-color="#924200"/></linearGradient>
<linearGradient id="p4g15" gradientUnits="userSpaceOnUse" x1="109" y1="0" x2="343" y2="0"><stop offset="0" stop-color="#924200"/><stop offset=".197" stop-color="#924200"/><stop offset=".517" stop-color="#984200"/><stop offset=".645" stop-color="#944200"/><stop offset="1" stop-color="#914200"/></linearGradient>
<linearGradient id="p4g16" gradientUnits="userSpaceOnUse" x1="109" y1="0" x2="343" y2="0"><stop offset="0" stop-color="#914200"/><stop offset=".197" stop-color="#914200"/><stop offset=".517" stop-color="#974200"/><stop offset=".645" stop-color="#934200"/><stop offset="1" stop-color="#904200"/></linearGradient>
<linearGradient id="p4g17" gradientUnits="userSpaceOnUse" x1="109" y1="0" x2="343" y2="0"><stop offset="0" stop-color="#904200"/><stop offset=".197" stop-color="#904200"/><stop offset=".517" stop-color="#964200"/><stop offset=".645" stop-color="#924200"/><stop offset="1" stop-color="#8e4200"/></linearGradient>
<linearGradient id="p4g18" gradientUnits="userSpaceOnUse" x1="109" y1="0" x2="343" y2="0"><stop offset="0" stop-color="#8e4200"/><stop offset=".197" stop-color="#8f4200"/><stop offset=".517" stop-color="#954200"/><stop offset=".645" stop-color="#914200"/><stop offset="1" stop-color="#8c4200"/></linearGradient>
<linearGradient id="p4g19" gradientUnits="userSpaceOnUse" x1="109" y1="0" x2="343" y2="0"><stop offset="0" stop-color="#8c4200"/><stop offset=".197" stop-color="#8d4200"/><stop offset=".517" stop-color="#944200"/><stop offset=".645" stop-color="#8f4200"/><stop offset="1" stop-color="#8b4200"/></linearGradient>
<linearGradient id="p4g20" gradientUnits="userSpaceOnUse" x1="109" y1="0" x2="343" y2="0"><stop offset="0" stop-color="#8b4200"/><stop offset=".197" stop-color="#8b4200"/><stop offset=".453" stop-color="#934200"/><stop offset=".517" stop-color="#934200"/><stop offset=".645" stop-color="#8e4200"/><stop offset="1" stop-color="#894200"/></linearGradient>
<linearGradient id="p4g21" gradientUnits="userSpaceOnUse" x1="109" y1="0" x2="343" y2="0"><stop offset="0" stop-color="#894200"/><stop offset=".197" stop-color="#8a4200"/><stop offset=".325" stop-color="#8d4200"/><stop offset=".453" stop-color="#924200"/><stop offset=".517" stop-color="#924200"/><stop offset=".645" stop-color="#8d4200"/><stop offset="1" stop-color="#874200"/></linearGradient>
<linearGradient id="p4g22" gradientUnits="userSpaceOnUse" x1="109" y1="0" x2="343" y2="0"><stop offset="0" stop-color="#874200"/><stop offset=".197" stop-color="#884200"/><stop offset=".325" stop-color="#8b4200"/><stop offset=".453" stop-color="#924200"/><stop offset=".517" stop-color="#924200"/><stop offset=".645" stop-color="#8b4200"/><stop offset="1" stop-color="#854200"/></linearGradient>
<linearGradient id="p4g23" gradientUnits="userSpaceOnUse" x1="109" y1="0" x2="343" y2="0"><stop offset="0" stop-color="#854200"/><stop offset=".197" stop-color="#874200"/><stop offset=".325" stop-color="#8a4200"/><stop offset=".453" stop-color="#914200"/><stop offset=".517" stop-color="#914200"/><stop offset=".645" stop-color="#8a4200"/><stop offset=".902" stop-color="#834200"/><stop offset="1" stop-color="#834200"/></linearGradient>
<linearGradient id="p4g24" gradientUnits="userSpaceOnUse" x1="109" y1="0" x2="343" y2="0"><stop offset="0" stop-color="#834200"/><stop offset=".197" stop-color="#854200"/><stop offset=".325" stop-color="#884200"/><stop offset=".453" stop-color="#904200"/><stop offset=".517" stop-color="#904200"/><stop offset=".645" stop-color="#884200"/><stop offset=".902" stop-color="#814200"/><stop offset="1" stop-color="#814200"/></linearGradient>
<linearGradient id="p4g25" gradientUnits="userSpaceOnUse" x1="109" y1="0" x2="343" y2="0"><stop offset="0" stop-color="#814200"/><stop offset=".197" stop-color="#834200"/><stop offset=".325" stop-color="#874200"/><stop offset=".453" stop-color="#904200"/><stop offset=".517" stop-color="#904200"/><stop offset=".645" stop-color="#864200"/><stop offset=".902" stop-color="#804200"/><stop offset="1" stop-color="#804200"/></linearGradient>
<linearGradient id="p4g26" gradientUnits="userSpaceOnUse" x1="109" y1="0" x2="343" y2="0"><stop offset="0" stop-color="#804200"/><stop offset=".197" stop-color="#824200"/><stop offset=".325" stop-color="#854200"/><stop offset=".389" stop-color="#894200"/><stop offset=".453" stop-color="#8f4200"/><stop offset=".517" stop-color="#904200"/><stop offset=".645" stop-color="#834200"/><stop offset="1" stop-color="#7e4200"/></linearGradient>
<linearGradient id="p4g27" gradientUnits="userSpaceOnUse" x1="109" y1="0" x2="343" y2="0"><stop offset="0" stop-color="#7e4200"/><stop offset=".132" stop-color="#7f4200"/><stop offset=".325" stop-color="#844200"/><stop offset=".389" stop-color="#874200"/><stop offset=".453" stop-color="#8f4200"/><stop offset=".517" stop-color="#904200"/><stop offset=".581" stop-color="#874200"/><stop offset=".645" stop-color="#814200"/><stop offset="1" stop-color="#7c4200"/></linearGradient>
<linearGradient id="p4g28" gradientUnits="userSpaceOnUse" x1="109" y1="0" x2="343" y2="0"><stop offset="0" stop-color="#7d4200"/><stop offset=".132" stop-color="#7d4200"/><stop offset=".325" stop-color="#824200"/><stop offset=".389" stop-color="#864200"/><stop offset=".453" stop-color="#8f4200"/><stop offset=".517" stop-color="#904200"/><stop offset=".581" stop-color="#864200"/><stop offset=".645" stop-color="#7f4200"/><stop offset="1" stop-color="#7b4200"/></linearGradient>
<linearGradient id="p4g29" gradientUnits="userSpaceOnUse" x1="109" y1="0" x2="343" y2="0"><stop offset="0" stop-color="#7a3326"/><stop offset=".132" stop-color="#7a3326"/><stop offset=".261" stop-color="#803322"/><stop offset=".325" stop-color="#80331f"/><stop offset=".389" stop-color="#83331b"/><stop offset=".453" stop-color="#8c3313"/><stop offset=".517" stop-color="#8e330f"/><stop offset=".645" stop-color="#7a331b"/><stop offset=".774" stop-color="#7a3326"/><stop offset="1" stop-color="#783326"/></linearGradient>
<linearGradient id="p4g30" gradientUnits="userSpaceOnUse" x1="109" y1="0" x2="343" y2="0"><stop offset="0" stop-color="#783326"/><stop offset=".261" stop-color="#803322"/><stop offset=".325" stop-color="#83331f"/><stop offset=".517" stop-color="#9e330f"/><stop offset=".645" stop-color="#83331b"/><stop offset=".709" stop-color="#7a3322"/><stop offset="1" stop-color="#773326"/></linearGradient>
<linearGradient id="p4g31" gradientUnits="userSpaceOnUse" x1="109" y1="0" x2="343" y2="0"><stop offset="0" stop-color="#783326"/><stop offset=".068" stop-color="#783326"/><stop offset=".132" stop-color="#803326"/><stop offset=".261" stop-color="#873322"/><stop offset=".325" stop-color="#8c331f"/><stop offset=".453" stop-color="#9e3313"/><stop offset=".517" stop-color="#a1330f"/><stop offset=".581" stop-color="#9c3313"/><stop offset=".645" stop-color="#8c331b"/><stop offset=".709" stop-color="#803322"/><stop offset=".774" stop-color="#783326"/><stop offset="1" stop-color="#773326"/></linearGradient>
<linearGradient id="p4g32" gradientUnits="userSpaceOnUse" x1="109" y1="0" x2="343" y2="0"><stop offset="0" stop-color="#770026"/><stop offset=".068" stop-color="#7c0026"/><stop offset=".261" stop-color="#910022"/><stop offset=".325" stop-color="#95001f"/><stop offset=".389" stop-color="#9c001b"/><stop offset=".517" stop-color="#b1000f"/><stop offset=".645" stop-color="#9c001b"/><stop offset=".709" stop-color="#8c0022"/><stop offset=".838" stop-color="#7a0026"/><stop offset="1" stop-color="#710026"/></linearGradient>
<linearGradient id="p4g33" gradientUnits="userSpaceOnUse" x1="109" y1="0" x2="343" y2="0"><stop offset="0" stop-color="#780013"/><stop offset=".068" stop-color="#800013"/><stop offset=".132" stop-color="#8e0013"/><stop offset=".197" stop-color="#a10013"/><stop offset=".261" stop-color="#a70011"/><stop offset=".325" stop-color="#a7000f"/><stop offset=".389" stop-color="#ae000d"/><stop offset=".453" stop-color="#bc000a"/><stop offset=".517" stop-color="#c20008"/><stop offset=".581" stop-color="#be000a"/><stop offset=".645" stop-color="#ae000d"/><stop offset=".709" stop-color="#a30011"/><stop offset=".774" stop-color="#9c0013"/><stop offset="1" stop-color="#780013"/></linearGradient>
<linearGradient id="p4g34" gradientUnits="userSpaceOnUse" x1="109" y1="0" x2="343" y2="0"><stop offset="0" stop-color="#6e0013"/><stop offset=".068" stop-color="#770013"/><stop offset=".197" stop-color="#a00013"/><stop offset=".261" stop-color="#a90011"/><stop offset=".325" stop-color="#aa000f"/><stop offset=".389" stop-color="#b5000d"/><stop offset=".453" stop-color="#c9000a"/><stop offset=".517" stop-color="#cc0008"/><stop offset=".581" stop-color="#c9000a"/><stop offset=".645" stop-color="#b5000d"/><stop offset=".902" stop-color="#8c0013"/><stop offset="1" stop-color="#7a0013"/></linearGradient>
<linearGradient id="p4g35" gradientUnits="userSpaceOnUse" x1="109" y1="0" x2="343" y2="0"><stop offset="0" stop-color="#770022"/><stop offset=".068" stop-color="#7c0022"/><stop offset=".132" stop-color="#8a0022"/><stop offset=".197" stop-color="#9c0022"/><stop offset=".261" stop-color="#a7001f"/><stop offset=".325" stop-color="#aa001c"/><stop offset=".389" stop-color="#b50018"/><stop offset=".453" stop-color="#c90011"/><stop offset=".517" stop-color="#cc000e"/><stop offset=".581" stop-color="#c70011"/><stop offset=".645" stop-color="#b30018"/><stop offset=".902" stop-color="#7c0022"/><stop offset="1" stop-color="#710022"/></linearGradient>
<linearGradient id="p4g36" gradientUnits="userSpaceOnUse" x1="109" y1="0" x2="343" y2="0"><stop offset="0" stop-color="#7e0022"/><stop offset=".197" stop-color="#8c0022"/><stop offset=".261" stop-color="#94001f"/><stop offset=".389" stop-color="#9f0018"/><stop offset=".453" stop-color="#b20011"/><stop offset=".517" stop-color="#c0000e"/><stop offset=".581" stop-color="#b60011"/><stop offset=".645" stop-color="#9b0018"/><stop offset=".709" stop-color="#8b001f"/><stop offset=".774" stop-color="#850022"/><stop offset=".838" stop-color="#770022"/><stop offset="1" stop-color="#6c0022"/></linearGradient>
<linearGradient id="p4g37" gradientUnits="userSpaceOnUse" x1="109" y1="0" x2="343" y2="0"><stop offset="0" stop-color="#770022"/><stop offset=".068" stop-color="#770022"/><stop offset=".197" stop-color="#880022"/><stop offset=".325" stop-color="#8e001c"/><stop offset=".389" stop-color="#940018"/><stop offset=".453" stop-color="#a40011"/><stop offset=".517" stop-color="#b0000e"/><stop offset=".581" stop-color="#a80011"/><stop offset=".645" stop-color="#900018"/><stop offset=".838" stop-color="#730022"/><stop offset=".902" stop-color="#710022"/><stop offset="1" stop-color="#6a0022"/></linearGradient>
<linearGradient id="p4g38" gradientUnits="userSpaceOnUse" x1="109" y1="0" x2="343" y2="0"><stop offset="0" stop-color="#730022"/><stop offset=".068" stop-color="#730022"/><stop offset=".132" stop-color="#770022"/><stop offset=".261" stop-color="#88001f"/><stop offset=".389" stop-color="#8d0018"/><stop offset=".453" stop-color="#960011"/><stop offset=".517" stop-color="#a3000e"/><stop offset=".581" stop-color="#990011"/><stop offset=".645" stop-color="#890018"/><stop offset=".774" stop-color="#770022"/><stop offset=".902" stop-color="#6c0022"/><stop offset="1" stop-color="#680022"/></linearGradient>
<linearGradient id="p4g39" gradientUnits="userSpaceOnUse" x1="109" y1="0" x2="343" y2="0"><stop offset="0" stop-color="#6c0022"/><stop offset=".197" stop-color="#770022"/><stop offset=".261" stop-color="#7d001f"/><stop offset=".325" stop-color="#87001c"/><stop offset=".389" stop-color="#890018"/><stop offset=".453" stop-color="#920011"/><stop offset=".517" stop-color="#a0000e"/><stop offset=".581" stop-color="#960011"/><stop offset=".645" stop-color="#860018"/><stop offset=".774" stop-color="#730022"/><stop offset=".838" stop-color="#6c0022"/><stop offset=".902" stop-color="#680022"/><stop offset="1" stop-color="#680022"/></linearGradient>
<linearGradient id="p4g40" gradientUnits="userSpaceOnUse" x1="109" y1="0" x2="343" y2="0"><stop offset="0" stop-color="#6a0022"/><stop offset=".068" stop-color="#6a0022"/><stop offset=".132" stop-color="#710022"/><stop offset=".197" stop-color="#730022"/><stop offset=".325" stop-color="#81001c"/><stop offset=".389" stop-color="#860018"/><stop offset=".453" stop-color="#900011"/><stop offset=".517" stop-color="#a0000e"/><stop offset=".581" stop-color="#900011"/><stop offset=".709" stop-color="#79001f"/><stop offset=".774" stop-color="#710022"/><stop offset=".902" stop-color="#650022"/><stop offset="1" stop-color="#680022"/></linearGradient>
<linearGradient id="p4g41" gradientUnits="userSpaceOnUse" x1="109" y1="0" x2="343" y2="0"><stop offset="0" stop-color="#650022"/><stop offset=".068" stop-color="#650022"/><stop offset=".132" stop-color="#6c0022"/><stop offset=".261" stop-color="#76001f"/><stop offset=".325" stop-color="#80001c"/><stop offset=".389" stop-color="#860018"/><stop offset=".453" stop-color="#920011"/><stop offset=".517" stop-color="#9a000e"/><stop offset=".581" stop-color="#900011"/><stop offset=".645" stop-color="#800018"/><stop offset=".774" stop-color="#6c0022"/><stop offset=".838" stop-color="#650022"/><stop offset=".902" stop-color="#5f0022"/><stop offset="1" stop-color="#650022"/></linearGradient>
<linearGradient id="p4g42" gradientUnits="userSpaceOnUse" x1="109" y1="0" x2="343" y2="0"><stop offset="0" stop-color="#680022"/><stop offset=".068" stop-color="#610022"/><stop offset=".197" stop-color="#710022"/><stop offset=".261" stop-color="#76001f"/><stop offset=".517" stop-color="#98000e"/><stop offset=".645" stop-color="#7b0018"/><stop offset=".774" stop-color="#680022"/><stop offset=".838" stop-color="#650022"/><stop offset=".902" stop-color="#650022"/><stop offset="1" stop-color="#6a0022"/></linearGradient></defs>
<g filter="url(#p4F)"><g clip-path="url(#p4C)">
<rect x="109" y="576" width="234" height="173" fill="#910000"/>
<rect x="109" y="576" width="234" height="3" fill="url(#p4g1)"/>
<rect x="109" y="579" width="234" height="3" fill="url(#p4g2)"/>
<rect x="109" y="582" width="234" height="3" fill="url(#p4g3)"/>
<rect x="109" y="585" width="234" height="3" fill="url(#p4g4)"/>
<rect x="109" y="588" width="234" height="3" fill="url(#p4g5)"/>
<rect x="109" y="591" width="234" height="3" fill="url(#p4g6)"/>
<rect x="109" y="594" width="234" height="3" fill="url(#p4g7)"/>
<rect x="109" y="597" width="234" height="3" fill="url(#p4g8)"/>
<rect x="109" y="600" width="234" height="3" fill="url(#p4g9)"/>
<rect x="109" y="603" width="234" height="3" fill="url(#p4g10)"/>
<rect x="109" y="606" width="234" height="3" fill="url(#p4g11)"/>
<rect x="109" y="609" width="234" height="3" fill="url(#p4g12)"/>
<rect x="109" y="612" width="234" height="3" fill="url(#p4g13)"/>
<rect x="109" y="615" width="234" height="3" fill="url(#p4g14)"/>
<rect x="109" y="618" width="234" height="3" fill="url(#p4g15)"/>
<rect x="109" y="621" width="234" height="3" fill="url(#p4g16)"/>
<rect x="109" y="624" width="234" height="3" fill="url(#p4g17)"/>
<rect x="109" y="627" width="234" height="3" fill="url(#p4g18)"/>
<rect x="109" y="630" width="234" height="3" fill="url(#p4g19)"/>
<rect x="109" y="633" width="234" height="3" fill="url(#p4g20)"/>
<rect x="109" y="636" width="234" height="3" fill="url(#p4g21)"/>
<rect x="109" y="639" width="234" height="3" fill="url(#p4g22)"/>
<rect x="109" y="642" width="234" height="3" fill="url(#p4g23)"/>
<rect x="109" y="645" width="234" height="3" fill="url(#p4g24)"/>
<rect x="109" y="648" width="234" height="3" fill="url(#p4g25)"/>
<rect x="109" y="651" width="234" height="3" fill="url(#p4g26)"/>
<rect x="109" y="654" width="234" height="3" fill="url(#p4g27)"/>
<rect x="109" y="657" width="234" height="3" fill="url(#p4g28)"/>
<rect x="109" y="660" width="234" height="2" fill="url(#p4g29)"/>
<rect x="109" y="662" width="234" height="3" fill="url(#p4g30)"/>
<rect x="109" y="665" width="234" height="3" fill="url(#p4g31)"/>
<rect x="109" y="668" width="234" height="4" fill="url(#p4g32)"/>
<rect x="109" y="672" width="234" height="3" fill="url(#p4g33)"/>
<rect x="109" y="675" width="234" height="4" fill="url(#p4g34)"/>
<rect x="109" y="679" width="234" height="4" fill="url(#p4g35)"/>
<rect x="109" y="683" width="234" height="5" fill="url(#p4g36)"/>
<rect x="109" y="688" width="234" height="6" fill="url(#p4g37)"/>
<rect x="109" y="694" width="234" height="7" fill="url(#p4g38)"/>
<rect x="109" y="701" width="234" height="8" fill="url(#p4g39)"/>
<rect x="109" y="709" width="234" height="9" fill="url(#p4g40)"/>
<rect x="109" y="718" width="234" height="14" fill="url(#p4g41)"/>
<rect x="109" y="732" width="234" height="17" fill="url(#p4g42)"/>
<rect x="169" y="683" width="1" height="11" fill="#260000" opacity="0.18"/>
<rect x="114" y="694" width="1" height="7" fill="#260000" opacity="0.31"/>
<rect x="201" y="709" width="1" height="9" fill="#260000" opacity="0.16"/>
<rect x="115" y="694" width="1" height="7" fill="#260000" opacity="0.22"/>
<rect x="183" y="688" width="1" height="6" fill="#260000" opacity="0.28"/>
<rect x="238" y="701" width="1" height="17" fill="#260000" opacity="0.09"/>
<rect x="214" y="694" width="2" height="15" fill="#260000" opacity="0.11"/>
<rect x="187" y="732" width="1" height="17" fill="#260000" opacity="0.23"/>
<rect x="180" y="679" width="1" height="15" fill="#260000" opacity="0.18"/>
<rect x="281" y="683" width="2" height="5" fill="#260000" opacity="0.23"/>
<rect x="200" y="672" width="1" height="3" fill="#260000" opacity="0.29"/>
<rect x="134" y="701" width="1" height="8" fill="#260000" opacity="0.21"/>
<rect x="154" y="732" width="1" height="17" fill="#260000" opacity="0.36"/>
<rect x="338" y="694" width="1" height="24" fill="#260000" opacity="0.18"/>
<rect x="182" y="709" width="2" height="40" fill="#260000" opacity="0.33"/>
<rect x="331" y="718" width="1" height="14" fill="#260000" opacity="0.41"/>
<rect x="183" y="683" width="1" height="11" fill="#260000" opacity="0.21"/>
<rect x="111" y="679" width="1" height="4" fill="#260000" opacity="0.38"/>
<rect x="255" y="701" width="1" height="17" fill="#260000" opacity="0.13"/>
<rect x="124" y="709" width="1" height="23" fill="#260000" opacity="0.33"/>
<rect x="248" y="701" width="1" height="8" fill="#260000" opacity="0.11"/>
<rect x="244" y="683" width="1" height="18" fill="#260000" opacity="0.15"/>
<rect x="170" y="679" width="1" height="4" fill="#260000" opacity="0.26"/>
<rect x="172" y="683" width="2" height="5" fill="#260000" opacity="0.2"/>
<rect x="118" y="701" width="1" height="17" fill="#260000" opacity="0.37"/>
<rect x="145" y="688" width="1" height="13" fill="#260000" opacity="0.43"/>
<rect x="276" y="732" width="2" height="17" fill="#260000" opacity="0.18"/>
<rect x="162" y="672" width="1" height="3" fill="#260000" opacity="0.24"/>
<rect x="273" y="683" width="1" height="11" fill="#260000" opacity="0.3"/>
<rect x="284" y="688" width="2" height="13" fill="#260000" opacity="0.19"/>
<rect x="280" y="683" width="1" height="11" fill="#260000" opacity="0.35"/>
<rect x="177" y="732" width="2" height="17" fill="#260000" opacity="0.28"/>
<rect x="300" y="683" width="1" height="5" fill="#260000" opacity="0.23"/>
<rect x="149" y="694" width="2" height="7" fill="#260000" opacity="0.38"/>
<rect x="309" y="701" width="1" height="17" fill="#260000" opacity="0.4"/>
<rect x="160" y="672" width="2" height="3" fill="#260000" opacity="0.4"/>
<rect x="221" y="732" width="1" height="17" fill="#260000" opacity="0.14"/>
<rect x="330" y="709" width="1" height="9" fill="#260000" opacity="0.2"/>
<rect x="334" y="732" width="1" height="17" fill="#260000" opacity="0.39"/>
<rect x="130" y="679" width="1" height="9" fill="#260000" opacity="0.38"/>
<rect x="188" y="679" width="1" height="9" fill="#260000" opacity="0.16"/>
<rect x="202" y="683" width="2" height="11" fill="#260000" opacity="0.13"/>
<rect x="334" y="694" width="2" height="15" fill="#260000" opacity="0.21"/>
<rect x="251" y="709" width="1" height="9" fill="#260000" opacity="0.15"/>
<rect x="290" y="694" width="1" height="7" fill="#260000" opacity="0.3"/>
<rect x="242" y="694" width="1" height="7" fill="#260000" opacity="0.18"/>
<rect x="330" y="732" width="1" height="17" fill="#260000" opacity="0.32"/>
<rect x="341" y="672" width="2" height="3" fill="#260000" opacity="0.33"/>
<rect x="222" y="694" width="1" height="15" fill="#260000" opacity="0.19"/>
<rect x="196" y="718" width="1" height="31" fill="#260000" opacity="0.25"/>
<rect x="268" y="688" width="1" height="6" fill="#260000" opacity="0.28"/>
<rect x="335" y="683" width="1" height="18" fill="#260000" opacity="0.26"/>
<rect x="204" y="694" width="1" height="7" fill="#260000" opacity="0.2"/>
<rect x="302" y="688" width="1" height="6" fill="#260000" opacity="0.23"/>
<rect x="128" y="718" width="2" height="14" fill="#260000" opacity="0.35"/>
<rect x="299" y="694" width="2" height="24" fill="#260000" opacity="0.4"/>
<rect x="169" y="701" width="1" height="8" fill="#260000" opacity="0.22"/>
<rect x="318" y="679" width="1" height="9" fill="#260000" opacity="0.24"/>
<rect x="320" y="683" width="1" height="11" fill="#260000" opacity="0.22"/>
<rect x="126" y="688" width="1" height="13" fill="#260000" opacity="0.41"/>
<rect x="302" y="701" width="2" height="31" fill="#260000" opacity="0.4"/>
<rect x="308" y="701" width="1" height="8" fill="#260000" opacity="0.21"/>
<rect x="113" y="709" width="1" height="9" fill="#260000" opacity="0.19"/>
<rect x="190" y="694" width="1" height="7" fill="#260000" opacity="0.26"/>
<rect x="270" y="709" width="2" height="40" fill="#260000" opacity="0.35"/>
<rect x="333" y="718" width="1" height="31" fill="#260000" opacity="0.35"/>
<rect x="294" y="709" width="2" height="23" fill="#260000" opacity="0.22"/>
<rect x="205" y="694" width="2" height="15" fill="#260000" opacity="0.2"/>
<rect x="193" y="732" width="1" height="17" fill="#260000" opacity="0.19"/>
<rect x="282" y="709" width="1" height="9" fill="#260000" opacity="0.2"/>
<rect x="168" y="732" width="1" height="17" fill="#260000" opacity="0.37"/>
<rect x="289" y="683" width="1" height="5" fill="#260000" opacity="0.39"/>
<rect x="259" y="679" width="1" height="9" fill="#260000" opacity="0.18"/>
<rect x="274" y="683" width="1" height="11" fill="#260000" opacity="0.34"/>
<rect x="163" y="672" width="2" height="3" fill="#260000" opacity="0.32"/>
<rect x="130" y="688" width="1" height="6" fill="#260000" opacity="0.33"/>
<rect x="243" y="688" width="1" height="6" fill="#260000" opacity="0.18"/>
<rect x="320" y="701" width="1" height="8" fill="#260000" opacity="0.35"/>
<rect x="341" y="694" width="1" height="7" fill="#260000" opacity="0.2"/>
<rect x="166" y="672" width="1" height="3" fill="#260000" opacity="0.17"/>
<rect x="287" y="688" width="1" height="6" fill="#260000" opacity="0.38"/>
<rect x="270" y="732" width="2" height="17" fill="#260000" opacity="0.25"/>
<rect x="310" y="683" width="1" height="5" fill="#260000" opacity="0.23"/>
<rect x="179" y="683" width="2" height="18" fill="#260000" opacity="0.22"/>
<rect x="267" y="694" width="1" height="15" fill="#260000" opacity="0.15"/>
<rect x="176" y="709" width="1" height="23" fill="#260000" opacity="0.17"/>
<rect x="309" y="718" width="1" height="31" fill="#260000" opacity="0.42"/>
<rect x="173" y="679" width="1" height="4" fill="#260000" opacity="0.16"/>
<rect x="138" y="688" width="1" height="6" fill="#260000" opacity="0.41"/>
<rect x="128" y="709" width="1" height="40" fill="#260000" opacity="0.37"/>
<rect x="314" y="701" width="1" height="8" fill="#260000" opacity="0.33"/>
<rect x="270" y="672" width="1" height="3" fill="#260000" opacity="0.19"/>
<rect x="164" y="732" width="1" height="17" fill="#260000" opacity="0.33"/>
<rect x="176" y="679" width="1" height="4" fill="#260000" opacity="0.33"/>
<rect x="247" y="683" width="2" height="18" fill="#260000" opacity="0.21"/>
<rect x="303" y="709" width="1" height="9" fill="#260000" opacity="0.24"/>
<rect x="169" y="701" width="1" height="17" fill="#260000" opacity="0.25"/>
<rect x="166" y="688" width="1" height="6" fill="#260000" opacity="0.17"/>
<rect x="139" y="688" width="2" height="13" fill="#260000" opacity="0.42"/>
<rect x="314" y="709" width="2" height="23" fill="#260000" opacity="0.27"/>
<rect x="110" y="709" width="1" height="23" fill="#260000" opacity="0.37"/>
<rect x="296" y="701" width="1" height="8" fill="#260000" opacity="0.25"/>
<rect x="251" y="718" width="1" height="31" fill="#260000" opacity="0.25"/>
<rect x="243" y="672" width="1" height="3" fill="#260000" opacity="0.16"/>
<rect x="294" y="683" width="1" height="11" fill="#260000" opacity="0.38"/>
<rect x="144" y="709" width="1" height="9" fill="#260000" opacity="0.24"/>
<rect x="298" y="688" width="1" height="6" fill="#260000" opacity="0.41"/>
<rect x="323" y="672" width="1" height="3" fill="#260000" opacity="0.33"/>
<rect x="246" y="709" width="1" height="9" fill="#260000" opacity="0.16"/>
<rect x="321" y="672" width="1" height="3" fill="#260000" opacity="0.22"/>
<rect x="291" y="732" width="1" height="17" fill="#260000" opacity="0.4"/>
<rect x="129" y="732" width="1" height="17" fill="#260000" opacity="0.32"/>
<rect x="176" y="694" width="1" height="15" fill="#260000" opacity="0.2"/>
<rect x="124" y="694" width="1" height="15" fill="#260000" opacity="0.18"/>
<rect x="325" y="701" width="1" height="17" fill="#260000" opacity="0.38"/>
<rect x="310" y="694" width="1" height="7" fill="#260000" opacity="0.39"/>
<rect x="160" y="718" width="1" height="14" fill="#260000" opacity="0.39"/>
<rect x="125" y="688" width="1" height="21" fill="#260000" opacity="0.34"/>
<rect x="124" y="718" width="2" height="14" fill="#260000" opacity="0.42"/>
<rect x="240" y="694" width="1" height="7" fill="#260000" opacity="0.15"/>
<rect x="268" y="732" width="1" height="17" fill="#260000" opacity="0.3"/>
<rect x="307" y="688" width="1" height="6" fill="#260000" opacity="0.32"/>
<rect x="224" y="679" width="1" height="15" fill="#260000" opacity="0.14"/>
<rect x="150" y="688" width="1" height="6" fill="#260000" opacity="0.36"/>
<rect x="245" y="694" width="1" height="7" fill="#260000" opacity="0.2"/>
<rect x="151" y="701" width="1" height="8" fill="#260000" opacity="0.22"/>
<rect x="133" y="694" width="1" height="7" fill="#260000" opacity="0.19"/>
<rect x="166" y="688" width="2" height="21" fill="#260000" opacity="0.26"/>
<rect x="270" y="683" width="1" height="5" fill="#260000" opacity="0.22"/>
<rect x="120" y="732" width="1" height="17" fill="#260000" opacity="0.28"/>
<rect x="150" y="732" width="1" height="17" fill="#260000" opacity="0.43"/>
<rect x="196" y="709" width="1" height="9" fill="#260000" opacity="0.2"/>
<rect x="303" y="701" width="1" height="17" fill="#260000" opacity="0.42"/>
<rect x="132" y="718" width="2" height="31" fill="#260000" opacity="0.31"/>
<rect x="301" y="694" width="1" height="7" fill="#260000" opacity="0.21"/>
<rect x="303" y="683" width="2" height="5" fill="#260000" opacity="0.35"/>
<rect x="336" y="718" width="2" height="14" fill="#260000" opacity="0.43"/>
<rect x="321" y="679" width="1" height="9" fill="#260000" opacity="0.4"/>
<rect x="150" y="694" width="1" height="7" fill="#260000" opacity="0.31"/>
<rect x="270" y="701" width="1" height="17" fill="#260000" opacity="0.31"/>
<rect x="168" y="688" width="2" height="13" fill="#260000" opacity="0.26"/>
<rect x="325" y="679" width="2" height="4" fill="#260000" opacity="0.37"/>
<rect x="300" y="709" width="1" height="9" fill="#260000" opacity="0.22"/>
<rect x="311" y="679" width="2" height="9" fill="#260000" opacity="0.27"/>
<rect x="310" y="732" width="2" height="17" fill="#260000" opacity="0.24"/>
<rect x="325" y="672" width="1" height="3" fill="#260000" opacity="0.19"/>
<rect x="318" y="688" width="1" height="6" fill="#260000" opacity="0.39"/>
<rect x="323" y="701" width="1" height="8" fill="#260000" opacity="0.35"/>
<rect x="118" y="701" width="2" height="8" fill="#260000" opacity="0.38"/>
<rect x="125" y="709" width="1" height="9" fill="#260000" opacity="0.18"/>
<rect x="158" y="701" width="1" height="8" fill="#260000" opacity="0.3"/>
<rect x="256" y="688" width="1" height="21" fill="#260000" opacity="0.22"/>
<rect x="176" y="688" width="1" height="21" fill="#260000" opacity="0.34"/>
<rect x="207" y="701" width="2" height="8" fill="#260000" opacity="0.22"/>
<rect x="202" y="718" width="2" height="14" fill="#260000" opacity="0.24"/>
<rect x="136" y="732" width="2" height="17" fill="#260000" opacity="0.31"/>
<rect x="243" y="679" width="2" height="4" fill="#260000" opacity="0.12"/>
<rect x="272" y="672" width="1" height="3" fill="#260000" opacity="0.24"/>
<rect x="253" y="694" width="1" height="24" fill="#260000" opacity="0.13"/>
<rect x="308" y="709" width="2" height="40" fill="#260000" opacity="0.35"/>
<rect x="142" y="672" width="1" height="3" fill="#260000" opacity="0.32"/>
<rect x="127" y="732" width="2" height="17" fill="#260000" opacity="0.35"/>
<rect x="274" y="694" width="1" height="7" fill="#260000" opacity="0.33"/>
<rect x="157" y="694" width="2" height="15" fill="#260000" opacity="0.24"/>
<rect x="342" y="718" width="1" height="31" fill="#260000" opacity="0.33"/>
<rect x="300" y="679" width="1" height="4" fill="#260000" opacity="0.42"/>
<rect x="152" y="732" width="1" height="17" fill="#260000" opacity="0.36"/>
<rect x="191" y="709" width="2" height="9" fill="#260000" opacity="0.29"/>
<rect x="224" y="718" width="2" height="31" fill="#260000" opacity="0.11"/>
<rect x="148" y="694" width="2" height="24" fill="#260000" opacity="0.41"/>
<rect x="261" y="679" width="2" height="15" fill="#260000" opacity="0.14"/>
<rect x="134" y="672" width="1" height="3" fill="#260000" opacity="0.28"/>
<rect x="336" y="683" width="1" height="11" fill="#260000" opacity="0.19"/>
<rect x="165" y="683" width="1" height="11" fill="#260000" opacity="0.21"/>
<rect x="292" y="694" width="1" height="15" fill="#260000" opacity="0.26"/>
<rect x="162" y="732" width="1" height="17" fill="#260000" opacity="0.36"/>
<rect x="250" y="732" width="2" height="17" fill="#260000" opacity="0.15"/>
<rect x="213" y="651.5" width="37" height="1.5" fill="#b52900" opacity="0.85"/>
<rect x="250" y="651.5" width="25" height="1" fill="#9c2900" opacity="0.6"/>
<rect x="200" y="632" width="60" height="1" fill="#a03300" opacity="0.5"/>
</g></g>
<defs><filter id="p5F" filterUnits="userSpaceOnUse" x="216" y="803" width="235" height="165" color-interpolation-filters="sRGB">
<feTurbulence type="fractalNoise" baseFrequency="1.7 1.3" numOctaves="1" seed="41" result="t1"/>
<feColorMatrix in="t1" type="matrix" values="2 0 0 0 -.5  2 0 0 0 -.5  2 0 0 0 -.5  0 0 0 0 1" result="n0"/>
<feComponentTransfer in="n0" result="n1"><feFuncR type="table" tableValues=".115 .169 .220 .269 .316 .360 .401 .441 .478 .513 .547 .578 .608 .637 .663 .689 .713 .736 .758 .778 .798 .817 .835 .852 .868 .884 .899 .913 .927 .940 .953 .966 .977"/><feFuncG type="table" tableValues=".115 .169 .220 .269 .316 .360 .401 .441 .478 .513 .547 .578 .608 .637 .663 .689 .713 .736 .758 .778 .798 .817 .835 .852 .868 .884 .899 .913 .927 .940 .953 .966 .977"/><feFuncB type="table" tableValues=".115 .169 .220 .269 .316 .360 .401 .441 .478 .513 .547 .578 .608 .637 .663 .689 .713 .736 .758 .778 .798 .817 .835 .852 .868 .884 .899 .913 .927 .940 .953 .966 .977"/></feComponentTransfer>
<feTurbulence type="fractalNoise" baseFrequency="1.7 0.012" numOctaves="1" seed="48" result="t2"/>
<feColorMatrix in="t2" type="matrix" values="2 0 0 0 -.5  2 0 0 0 -.5  2 0 0 0 -.5  0 0 0 0 1" result="n20"/>
<feComponentTransfer in="n20" result="n2"><feFuncR type="table" tableValues=".115 .169 .220 .269 .316 .360 .401 .441 .478 .513 .547 .578 .608 .637 .663 .689 .713 .736 .758 .778 .798 .817 .835 .852 .868 .884 .899 .913 .927 .940 .953 .966 .977"/><feFuncG type="table" tableValues=".115 .169 .220 .269 .316 .360 .401 .441 .478 .513 .547 .578 .608 .637 .663 .689 .713 .736 .758 .778 .798 .817 .835 .852 .868 .884 .899 .913 .927 .940 .953 .966 .977"/><feFuncB type="table" tableValues=".115 .169 .220 .269 .316 .360 .401 .441 .478 .513 .547 .578 .608 .637 .663 .689 .713 .736 .758 .778 .798 .817 .835 .852 .868 .884 .899 .913 .927 .940 .953 .966 .977"/></feComponentTransfer>
<feColorMatrix in="SourceGraphic" type="matrix" values="0 1 0 0 0  0 1 0 0 0  0 1 0 0 0  0 0 0 1 0" result="a1"/>
<feColorMatrix in="SourceGraphic" type="matrix" values="0 0 1 0 0  0 0 1 0 0  0 0 1 0 0  0 0 0 1 0" result="a2"/>
<feColorMatrix in="SourceGraphic" type="matrix" values="1 -.7 -.7 0 0  1 -.7 -.7 0 0  1 -.7 -.7 0 0  0 0 0 1 0" result="v"/>
<feComposite in="a1" in2="n1" operator="arithmetic" k1="1" k2="0" k3="0" k4="0" result="m1"/>
<feComposite in="a2" in2="n2" operator="arithmetic" k1="1" k2="0" k3="0" k4="0" result="m2"/>
<feComposite in="v" in2="m1" operator="arithmetic" k1="0" k2="1" k3="1" k4="0" result="v3"/>
<feComposite in="v3" in2="m2" operator="arithmetic" k1="0" k2="1" k3="1" k4="0" result="v4"/>
<feComponentTransfer in="v4"><feFuncR type="table" tableValues="0 0 0 0 0 0 0 0 0 0.01 0.08 0.23 0.32 0.39 0.34 0.28 0.13 0 0 0 0 0 0 0 0 0 0 0 0 0.08 0.28 0.48 0.65 0.84 1 1 1 1 1 1 1 1 1 1 1 0.97 0.79 0.7 0.65 0.65 0.65 0.65 0.65 0.65 0.65 0.65 0.65"/><feFuncG type="table" tableValues="0 0 0 0 0 0 0 0 0 0 0 0 0 0 0 0 0 0.03 0.19 0.36 0.5 0.65 0.8 0.95 1 1 1 1 1 1 1 1 1 1 1 1 0.94 0.83 0.71 0.58 0.45 0.32 0.14 0 0 0 0 0 0 0 0 0 0 0 0 0 0"/><feFuncB type="table" tableValues="0 0 0 0 0 0 0 0 0 0.02 0.12 0.32 0.47 0.58 0.73 0.89 0.95 1 1 1 1 1 1 1 0.86 0.67 0.48 0.3 0.12 0 0 0 0 0 0 0 0 0 0 0 0 0 0 0 0 0 0 0 0 0 0 0 0 0 0 0 0"/></feComponentTransfer>
<feComposite in2="SourceGraphic" operator="in"/>
</filter><clipPath id="p5C"><rect x="216" y="803" width="235" height="165"/></clipPath><linearGradient id="p5g1" gradientUnits="userSpaceOnUse" x1="216" y1="0" x2="451" y2="0"><stop offset="0" stop-color="#a33300"/><stop offset=".064" stop-color="#a33300"/><stop offset=".128" stop-color="#aa3300"/><stop offset=".191" stop-color="#ac3300"/><stop offset=".83" stop-color="#ac3300"/><stop offset=".894" stop-color="#aa3300"/><stop offset=".957" stop-color="#a33300"/><stop offset="1" stop-color="#a33300"/></linearGradient>
<linearGradient id="p5g2" gradientUnits="userSpaceOnUse" x1="216" y1="0" x2="451" y2="0"><stop offset="0" stop-color="#a33300"/><stop offset=".064" stop-color="#a33300"/><stop offset=".128" stop-color="#aa3300"/><stop offset=".191" stop-color="#ac3300"/><stop offset=".83" stop-color="#ac3300"/><stop offset=".894" stop-color="#aa3300"/><stop offset=".957" stop-color="#a33300"/><stop offset="1" stop-color="#a33300"/></linearGradient>
<linearGradient id="p5g3" gradientUnits="userSpaceOnUse" x1="216" y1="0" x2="451" y2="0"><stop offset="0" stop-color="#a23300"/><stop offset=".064" stop-color="#a23300"/><stop offset=".128" stop-color="#aa3300"/><stop offset=".191" stop-color="#ab3300"/><stop offset=".83" stop-color="#ab3300"/><stop offset=".894" stop-color="#aa3300"/><stop offset=".957" stop-color="#a23300"/><stop offset="1" stop-color="#a23300"/></linearGradient>
<linearGradient id="p5g4" gradientUnits="userSpaceOnUse" x1="216" y1="0" x2="451" y2="0"><stop offset="0" stop-color="#a23300"/><stop offset=".064" stop-color="#a23300"/><stop offset=".128" stop-color="#a93300"/><stop offset=".191" stop-color="#ab3300"/><stop offset=".83" stop-color="#ab3300"/><stop offset=".894" stop-color="#a93300"/><stop offset=".957" stop-color="#a23300"/><stop offset="1" stop-color="#a23300"/></linearGradient>
<linearGradient id="p5g5" gradientUnits="userSpaceOnUse" x1="216" y1="0" x2="451" y2="0"><stop offset="0" stop-color="#a23300"/><stop offset=".064" stop-color="#a23300"/><stop offset=".128" stop-color="#a93300"/><stop offset=".191" stop-color="#ab3300"/><stop offset=".83" stop-color="#ab3300"/><stop offset=".894" stop-color="#a93300"/><stop offset=".957" stop-color="#a23300"/><stop offset="1" stop-color="#a23300"/></linearGradient>
<linearGradient id="p5g6" gradientUnits="userSpaceOnUse" x1="216" y1="0" x2="451" y2="0"><stop offset="0" stop-color="#a23300"/><stop offset=".064" stop-color="#a23300"/><stop offset=".128" stop-color="#a93300"/><stop offset=".191" stop-color="#ab3300"/><stop offset=".83" stop-color="#ab3300"/><stop offset=".894" stop-color="#a93300"/><stop offset=".957" stop-color="#a23300"/><stop offset="1" stop-color="#a23300"/></linearGradient>
<linearGradient id="p5g7" gradientUnits="userSpaceOnUse" x1="216" y1="0" x2="451" y2="0"><stop offset="0" stop-color="#a13300"/><stop offset=".064" stop-color="#a13300"/><stop offset=".128" stop-color="#a83300"/><stop offset=".191" stop-color="#aa3300"/><stop offset=".83" stop-color="#aa3300"/><stop offset=".894" stop-color="#a83300"/><stop offset=".957" stop-color="#a13300"/><stop offset="1" stop-color="#a13300"/></linearGradient>
<linearGradient id="p5g8" gradientUnits="userSpaceOnUse" x1="216" y1="0" x2="451" y2="0"><stop offset="0" stop-color="#a13300"/><stop offset=".064" stop-color="#a13300"/><stop offset=".128" stop-color="#a73300"/><stop offset=".191" stop-color="#a93300"/><stop offset=".83" stop-color="#a93300"/><stop offset=".894" stop-color="#a73300"/><stop offset=".957" stop-color="#a13300"/><stop offset="1" stop-color="#a13300"/></linearGradient>
<linearGradient id="p5g9" gradientUnits="userSpaceOnUse" x1="216" y1="0" x2="451" y2="0"><stop offset="0" stop-color="#a03300"/><stop offset=".064" stop-color="#a03300"/><stop offset=".128" stop-color="#a63300"/><stop offset=".191" stop-color="#a73300"/><stop offset=".83" stop-color="#a73300"/><stop offset=".894" stop-color="#a63300"/><stop offset=".957" stop-color="#a03300"/><stop offset="1" stop-color="#a03300"/></linearGradient>
<linearGradient id="p5g10" gradientUnits="userSpaceOnUse" x1="216" y1="0" x2="451" y2="0"><stop offset="0" stop-color="#a03300"/><stop offset=".064" stop-color="#a03300"/><stop offset=".191" stop-color="#a63300"/><stop offset=".83" stop-color="#a63300"/><stop offset=".957" stop-color="#a03300"/><stop offset="1" stop-color="#a03300"/></linearGradient>
<linearGradient id="p5g11" gradientUnits="userSpaceOnUse" x1="216" y1="0" x2="451" y2="0"><stop offset="0" stop-color="#a03300"/><stop offset=".064" stop-color="#a03300"/><stop offset=".191" stop-color="#a53300"/><stop offset=".383" stop-color="#a53300"/><stop offset=".83" stop-color="#a53300"/><stop offset="1" stop-color="#a03300"/></linearGradient>
<linearGradient id="p5g12" gradientUnits="userSpaceOnUse" x1="216" y1="0" x2="451" y2="0"><stop offset="0" stop-color="#9f3300"/><stop offset=".064" stop-color="#9f3300"/><stop offset=".191" stop-color="#a43300"/><stop offset=".383" stop-color="#a53300"/><stop offset=".83" stop-color="#a43300"/><stop offset="1" stop-color="#9f3300"/></linearGradient>
<linearGradient id="p5g13" gradientUnits="userSpaceOnUse" x1="216" y1="0" x2="451" y2="0"><stop offset="0" stop-color="#9f3300"/><stop offset=".064" stop-color="#9f3300"/><stop offset=".191" stop-color="#a43300"/><stop offset=".383" stop-color="#a43300"/><stop offset=".83" stop-color="#a43300"/><stop offset="1" stop-color="#9f3300"/></linearGradient>
<linearGradient id="p5g14" gradientUnits="userSpaceOnUse" x1="216" y1="0" x2="451" y2="0"><stop offset="0" stop-color="#9f3300"/><stop offset=".064" stop-color="#9f3300"/><stop offset=".191" stop-color="#a33300"/><stop offset=".383" stop-color="#a43300"/><stop offset=".83" stop-color="#a33300"/><stop offset="1" stop-color="#9f3300"/></linearGradient>
<linearGradient id="p5g15" gradientUnits="userSpaceOnUse" x1="216" y1="0" x2="451" y2="0"><stop offset="0" stop-color="#9e3300"/><stop offset=".383" stop-color="#a43300"/><stop offset=".83" stop-color="#a23300"/><stop offset="1" stop-color="#9e3300"/></linearGradient>
<linearGradient id="p5g16" gradientUnits="userSpaceOnUse" x1="216" y1="0" x2="451" y2="0"><stop offset="0" stop-color="#9e3300"/><stop offset=".383" stop-color="#a33300"/><stop offset=".83" stop-color="#a23300"/><stop offset="1" stop-color="#9e3300"/></linearGradient>
<linearGradient id="p5g17" gradientUnits="userSpaceOnUse" x1="216" y1="0" x2="451" y2="0"><stop offset="0" stop-color="#9d3300"/><stop offset=".383" stop-color="#a43300"/><stop offset=".83" stop-color="#a13300"/><stop offset="1" stop-color="#9d3300"/></linearGradient>
<linearGradient id="p5g18" gradientUnits="userSpaceOnUse" x1="216" y1="0" x2="451" y2="0"><stop offset="0" stop-color="#9d3300"/><stop offset=".383" stop-color="#a53300"/><stop offset=".574" stop-color="#a53300"/><stop offset="1" stop-color="#9d3300"/></linearGradient>
<linearGradient id="p5g19" gradientUnits="userSpaceOnUse" x1="216" y1="0" x2="451" y2="0"><stop offset="0" stop-color="#9c3300"/><stop offset=".064" stop-color="#9c3300"/><stop offset=".383" stop-color="#a53300"/><stop offset=".574" stop-color="#a53300"/><stop offset="1" stop-color="#9c3300"/></linearGradient>
<linearGradient id="p5g20" gradientUnits="userSpaceOnUse" x1="216" y1="0" x2="451" y2="0"><stop offset="0" stop-color="#9b3300"/><stop offset=".064" stop-color="#9b3300"/><stop offset=".383" stop-color="#a63300"/><stop offset=".574" stop-color="#a63300"/><stop offset="1" stop-color="#9b3300"/></linearGradient>
<linearGradient id="p5g21" gradientUnits="userSpaceOnUse" x1="216" y1="0" x2="451" y2="0"><stop offset="0" stop-color="#9a3300"/><stop offset=".064" stop-color="#9a3300"/><stop offset=".383" stop-color="#a73300"/><stop offset=".574" stop-color="#a73300"/><stop offset=".702" stop-color="#a13300"/><stop offset="1" stop-color="#9a3300"/></linearGradient>
<linearGradient id="p5g22" gradientUnits="userSpaceOnUse" x1="216" y1="0" x2="451" y2="0"><stop offset="0" stop-color="#993300"/><stop offset=".064" stop-color="#993300"/><stop offset=".383" stop-color="#a63300"/><stop offset=".574" stop-color="#a63300"/><stop offset=".766" stop-color="#9f3300"/><stop offset="1" stop-color="#993300"/></linearGradient>
<linearGradient id="p5g23" gradientUnits="userSpaceOnUse" x1="216" y1="0" x2="451" y2="0"><stop offset="0" stop-color="#983300"/><stop offset=".064" stop-color="#983300"/><stop offset=".383" stop-color="#a53300"/><stop offset=".574" stop-color="#a53300"/><stop offset=".766" stop-color="#9e3300"/><stop offset="1" stop-color="#983300"/></linearGradient>
<linearGradient id="p5g24" gradientUnits="userSpaceOnUse" x1="216" y1="0" x2="451" y2="0"><stop offset="0" stop-color="#973300"/><stop offset=".064" stop-color="#973300"/><stop offset=".383" stop-color="#a53300"/><stop offset=".574" stop-color="#a53300"/><stop offset=".766" stop-color="#9c3300"/><stop offset="1" stop-color="#973300"/></linearGradient>
<linearGradient id="p5g25" gradientUnits="userSpaceOnUse" x1="216" y1="0" x2="451" y2="0"><stop offset="0" stop-color="#963300"/><stop offset=".064" stop-color="#963300"/><stop offset=".383" stop-color="#a43300"/><stop offset=".574" stop-color="#a43300"/><stop offset=".766" stop-color="#9b3300"/><stop offset="1" stop-color="#963300"/></linearGradient>
<linearGradient id="p5g26" gradientUnits="userSpaceOnUse" x1="216" y1="0" x2="451" y2="0"><stop offset="0" stop-color="#953300"/><stop offset=".064" stop-color="#953300"/><stop offset=".383" stop-color="#a33300"/><stop offset=".574" stop-color="#a33300"/><stop offset=".766" stop-color="#9a3300"/><stop offset="1" stop-color="#953300"/></linearGradient>
<linearGradient id="p5g27" gradientUnits="userSpaceOnUse" x1="216" y1="0" x2="451" y2="0"><stop offset="0" stop-color="#a0000b"/><stop offset=".064" stop-color="#a0000b"/><stop offset=".191" stop-color="#b50009"/><stop offset=".255" stop-color="#bc0007"/><stop offset=".319" stop-color="#ca0006"/><stop offset=".383" stop-color="#dc0005"/><stop offset=".511" stop-color="#dc0003"/><stop offset=".574" stop-color="#ca0005"/><stop offset=".638" stop-color="#c70007"/><stop offset=".702" stop-color="#bc0009"/><stop offset=".766" stop-color="#b5000a"/><stop offset=".894" stop-color="#b3000b"/><stop offset=".957" stop-color="#a0000b"/><stop offset="1" stop-color="#a0000b"/></linearGradient>
<linearGradient id="p5g28" gradientUnits="userSpaceOnUse" x1="216" y1="0" x2="451" y2="0"><stop offset="0" stop-color="#951f26"/><stop offset=".064" stop-color="#951f26"/><stop offset=".255" stop-color="#b11f17"/><stop offset=".447" stop-color="#c01f0b"/><stop offset=".511" stop-color="#ba1f0b"/><stop offset=".638" stop-color="#aa1f17"/><stop offset=".702" stop-color="#a01f1f"/><stop offset=".83" stop-color="#971f26"/><stop offset="1" stop-color="#951f26"/></linearGradient>
<linearGradient id="p5g29" gradientUnits="userSpaceOnUse" x1="216" y1="0" x2="451" y2="0"><stop offset="0" stop-color="#831f26"/><stop offset=".064" stop-color="#831f26"/><stop offset=".128" stop-color="#871f22"/><stop offset=".255" stop-color="#951f17"/><stop offset=".319" stop-color="#a31f13"/><stop offset=".447" stop-color="#b11f0b"/><stop offset=".511" stop-color="#b01f0b"/><stop offset=".638" stop-color="#9e1f17"/><stop offset=".702" stop-color="#911f1f"/><stop offset=".83" stop-color="#831f26"/><stop offset=".894" stop-color="#801f26"/><stop offset="1" stop-color="#801f26"/></linearGradient>
<linearGradient id="p5g30" gradientUnits="userSpaceOnUse" x1="216" y1="0" x2="451" y2="0"><stop offset="0" stop-color="#801f26"/><stop offset=".064" stop-color="#801f26"/><stop offset=".191" stop-color="#881f1f"/><stop offset=".255" stop-color="#911f17"/><stop offset=".319" stop-color="#a01f13"/><stop offset=".447" stop-color="#ac1f0b"/><stop offset=".511" stop-color="#aa1f0b"/><stop offset=".638" stop-color="#951f17"/><stop offset=".83" stop-color="#7c1f26"/><stop offset=".894" stop-color="#801f26"/><stop offset="1" stop-color="#801f26"/></linearGradient>
<linearGradient id="p5g31" gradientUnits="userSpaceOnUse" x1="216" y1="0" x2="451" y2="0"><stop offset="0" stop-color="#801f26"/><stop offset=".064" stop-color="#7a1f26"/><stop offset=".128" stop-color="#831f22"/><stop offset=".191" stop-color="#871f1f"/><stop offset=".255" stop-color="#8e1f17"/><stop offset=".319" stop-color="#9c1f13"/><stop offset=".383" stop-color="#a51f0f"/><stop offset=".447" stop-color="#aa1f0b"/><stop offset=".511" stop-color="#a71f0b"/><stop offset=".702" stop-color="#8a1f1f"/><stop offset=".766" stop-color="#831f22"/><stop offset=".894" stop-color="#7a1f26"/><stop offset=".957" stop-color="#801f26"/><stop offset="1" stop-color="#801f26"/></linearGradient>
<linearGradient id="p5g32" gradientUnits="userSpaceOnUse" x1="216" y1="0" x2="451" y2="0"><stop offset="0" stop-color="#801f26"/><stop offset=".064" stop-color="#801f26"/><stop offset=".128" stop-color="#831f22"/><stop offset=".255" stop-color="#911f17"/><stop offset=".319" stop-color="#9c1f13"/><stop offset=".447" stop-color="#a71f0b"/><stop offset=".511" stop-color="#a31f0b"/><stop offset=".702" stop-color="#8c1f1f"/><stop offset=".894" stop-color="#781f26"/><stop offset=".957" stop-color="#801f26"/><stop offset="1" stop-color="#801f26"/></linearGradient>
<linearGradient id="p5g33" gradientUnits="userSpaceOnUse" x1="216" y1="0" x2="451" y2="0"><stop offset="0" stop-color="#8a0026"/><stop offset=".064" stop-color="#8c0026"/><stop offset=".319" stop-color="#a00013"/><stop offset=".511" stop-color="#a3000b"/><stop offset=".638" stop-color="#9c0017"/><stop offset=".766" stop-color="#8e0022"/><stop offset=".894" stop-color="#850026"/><stop offset="1" stop-color="#830026"/></linearGradient>
<linearGradient id="p5g34" gradientUnits="userSpaceOnUse" x1="216" y1="0" x2="451" y2="0"><stop offset="0" stop-color="#780026"/><stop offset=".191" stop-color="#8c001f"/><stop offset=".383" stop-color="#a7000f"/><stop offset=".447" stop-color="#ac000b"/><stop offset=".511" stop-color="#ac000b"/><stop offset=".574" stop-color="#a3000f"/><stop offset=".702" stop-color="#8c001f"/><stop offset=".766" stop-color="#830022"/><stop offset=".83" stop-color="#800026"/><stop offset=".894" stop-color="#730026"/><stop offset=".957" stop-color="#800026"/><stop offset="1" stop-color="#800026"/></linearGradient>
<linearGradient id="p5g35" gradientUnits="userSpaceOnUse" x1="216" y1="0" x2="451" y2="0"><stop offset="0" stop-color="#b50008"/><stop offset=".064" stop-color="#b50008"/><stop offset=".128" stop-color="#bc0007"/><stop offset=".191" stop-color="#ca0006"/><stop offset=".319" stop-color="#e00004"/><stop offset=".383" stop-color="#e40003"/><stop offset=".511" stop-color="#e40002"/><stop offset=".574" stop-color="#dc0003"/><stop offset=".638" stop-color="#cc0005"/><stop offset=".894" stop-color="#b50008"/><stop offset="1" stop-color="#b10008"/></linearGradient>
<linearGradient id="p5g36" gradientUnits="userSpaceOnUse" x1="216" y1="0" x2="451" y2="0"><stop offset="0" stop-color="#8e0017"/><stop offset=".191" stop-color="#a10012"/><stop offset=".447" stop-color="#ca0007"/><stop offset=".511" stop-color="#c70007"/><stop offset=".574" stop-color="#b50009"/><stop offset=".638" stop-color="#ac000e"/><stop offset=".702" stop-color="#a00012"/><stop offset="1" stop-color="#8e0017"/></linearGradient>
<linearGradient id="p5g37" gradientUnits="userSpaceOnUse" x1="216" y1="0" x2="451" y2="0"><stop offset="0" stop-color="#8c0017"/><stop offset=".064" stop-color="#900017"/><stop offset=".191" stop-color="#9e0012"/><stop offset=".383" stop-color="#bc0009"/><stop offset=".447" stop-color="#c20007"/><stop offset=".511" stop-color="#ba0007"/><stop offset=".574" stop-color="#ac0009"/><stop offset=".766" stop-color="#8e0015"/><stop offset=".957" stop-color="#830017"/><stop offset="1" stop-color="#830017"/></linearGradient>
<linearGradient id="p5g38" gradientUnits="userSpaceOnUse" x1="216" y1="0" x2="451" y2="0"><stop offset="0" stop-color="#870017"/><stop offset=".128" stop-color="#910015"/><stop offset=".319" stop-color="#ae000b"/><stop offset=".447" stop-color="#ba0007"/><stop offset=".511" stop-color="#b50007"/><stop offset=".702" stop-color="#930012"/><stop offset=".766" stop-color="#8c0015"/><stop offset=".894" stop-color="#810017"/><stop offset="1" stop-color="#800017"/></linearGradient>
<linearGradient id="p5g39" gradientUnits="userSpaceOnUse" x1="216" y1="0" x2="451" y2="0"><stop offset="0" stop-color="#830017"/><stop offset=".064" stop-color="#870017"/><stop offset=".128" stop-color="#8e0015"/><stop offset=".319" stop-color="#ac000b"/><stop offset=".383" stop-color="#b30009"/><stop offset=".447" stop-color="#b70007"/><stop offset=".511" stop-color="#b30007"/><stop offset=".702" stop-color="#910012"/><stop offset=".894" stop-color="#7c0017"/><stop offset="1" stop-color="#7a0017"/></linearGradient>
<linearGradient id="p5g40" gradientUnits="userSpaceOnUse" x1="216" y1="0" x2="451" y2="0"><stop offset="0" stop-color="#800017"/><stop offset=".064" stop-color="#830017"/><stop offset=".128" stop-color="#8a0015"/><stop offset=".319" stop-color="#aa000b"/><stop offset=".383" stop-color="#b10009"/><stop offset=".447" stop-color="#b50007"/><stop offset=".511" stop-color="#b10007"/><stop offset=".766" stop-color="#880015"/><stop offset=".83" stop-color="#830017"/><stop offset=".894" stop-color="#7a0017"/><stop offset=".957" stop-color="#770017"/><stop offset="1" stop-color="#770017"/></linearGradient>
<linearGradient id="p5g41" gradientUnits="userSpaceOnUse" x1="216" y1="0" x2="451" y2="0"><stop offset="0" stop-color="#800017"/><stop offset=".064" stop-color="#830017"/><stop offset=".128" stop-color="#8a0015"/><stop offset=".255" stop-color="#a0000e"/><stop offset=".383" stop-color="#b10009"/><stop offset=".447" stop-color="#b50007"/><stop offset=".511" stop-color="#b10007"/><stop offset=".702" stop-color="#930012"/><stop offset=".894" stop-color="#7a0017"/><stop offset=".957" stop-color="#750017"/><stop offset="1" stop-color="#750017"/></linearGradient>
<linearGradient id="p5g42" gradientUnits="userSpaceOnUse" x1="0" y1="885" x2="0" y2="901"><stop offset="0" stop-color="#c00000" stop-opacity="0.16"/><stop offset=".5" stop-color="#b50000" stop-opacity="0.11"/><stop offset="1" stop-color="#a70000" stop-opacity="0"/></linearGradient>
<linearGradient id="p5g43" gradientUnits="userSpaceOnUse" x1="0" y1="885" x2="0" y2="901"><stop offset="0" stop-color="#c00000" stop-opacity="0.3"/><stop offset=".5" stop-color="#b50000" stop-opacity="0.22"/><stop offset="1" stop-color="#a70000" stop-opacity="0"/></linearGradient>
<linearGradient id="p5g44" gradientUnits="userSpaceOnUse" x1="0" y1="885" x2="0" y2="901"><stop offset="0" stop-color="#c00000" stop-opacity="0.44"/><stop offset=".5" stop-color="#b50000" stop-opacity="0.32"/><stop offset="1" stop-color="#a70000" stop-opacity="0"/></linearGradient>
<linearGradient id="p5g45" gradientUnits="userSpaceOnUse" x1="0" y1="885" x2="0" y2="901"><stop offset="0" stop-color="#c00000" stop-opacity="0.58"/><stop offset=".5" stop-color="#b50000" stop-opacity="0.42"/><stop offset="1" stop-color="#a70000" stop-opacity="0"/></linearGradient>
<linearGradient id="p5g46" gradientUnits="userSpaceOnUse" x1="0" y1="885" x2="0" y2="901"><stop offset="0" stop-color="#c00000" stop-opacity="0.72"/><stop offset=".5" stop-color="#b50000" stop-opacity="0.53"/><stop offset="1" stop-color="#a70000" stop-opacity="0"/></linearGradient>
<linearGradient id="p5g47" gradientUnits="userSpaceOnUse" x1="0" y1="885" x2="0" y2="901"><stop offset="0" stop-color="#c00000" stop-opacity="0.86"/><stop offset=".5" stop-color="#b50000" stop-opacity="0.63"/><stop offset="1" stop-color="#a70000" stop-opacity="0"/></linearGradient>
<linearGradient id="p5g48" gradientUnits="userSpaceOnUse" x1="0" y1="885" x2="0" y2="901"><stop offset="0" stop-color="#c00000"/><stop offset=".5" stop-color="#b50000" stop-opacity="0.73"/><stop offset="1" stop-color="#a70000" stop-opacity="0"/></linearGradient>
<linearGradient id="p5g49" gradientUnits="userSpaceOnUse" x1="0" y1="885" x2="0" y2="901"><stop offset="0" stop-color="#c00000"/><stop offset=".5" stop-color="#b50000" stop-opacity="0.77"/><stop offset="1" stop-color="#a70000" stop-opacity="0"/></linearGradient>
<linearGradient id="p5g50" gradientUnits="userSpaceOnUse" x1="0" y1="885" x2="0" y2="901"><stop offset="0" stop-color="#c00000" stop-opacity="0.91"/><stop offset=".5" stop-color="#b50000" stop-opacity="0.66"/><stop offset="1" stop-color="#a70000" stop-opacity="0"/></linearGradient>
<linearGradient id="p5g51" gradientUnits="userSpaceOnUse" x1="0" y1="885" x2="0" y2="901"><stop offset="0" stop-color="#c00000" stop-opacity="0.77"/><stop offset=".5" stop-color="#b50000" stop-opacity="0.56"/><stop offset="1" stop-color="#a70000" stop-opacity="0"/></linearGradient>
<linearGradient id="p5g52" gradientUnits="userSpaceOnUse" x1="0" y1="885" x2="0" y2="901"><stop offset="0" stop-color="#c00000" stop-opacity="0.63"/><stop offset=".5" stop-color="#b50000" stop-opacity="0.46"/><stop offset="1" stop-color="#a70000" stop-opacity="0"/></linearGradient>
<linearGradient id="p5g53" gradientUnits="userSpaceOnUse" x1="0" y1="885" x2="0" y2="901"><stop offset="0" stop-color="#c00000" stop-opacity="0.49"/><stop offset=".5" stop-color="#b50000" stop-opacity="0.35"/><stop offset="1" stop-color="#a70000" stop-opacity="0"/></linearGradient>
<linearGradient id="p5g54" gradientUnits="userSpaceOnUse" x1="0" y1="885" x2="0" y2="901"><stop offset="0" stop-color="#c00000" stop-opacity="0.35"/><stop offset=".5" stop-color="#b50000" stop-opacity="0.25"/><stop offset="1" stop-color="#a70000" stop-opacity="0"/></linearGradient>
<linearGradient id="p5g55" gradientUnits="userSpaceOnUse" x1="0" y1="885" x2="0" y2="901"><stop offset="0" stop-color="#c00000" stop-opacity="0.2"/><stop offset=".5" stop-color="#b50000" stop-opacity="0.15"/><stop offset="1" stop-color="#a70000" stop-opacity="0"/></linearGradient></defs>
<g filter="url(#p5F)"><g clip-path="url(#p5C)">
<rect x="216" y="803" width="235" height="165" fill="#910000"/>
<rect x="216" y="803" width="235" height="3" fill="url(#p5g1)"/>
<rect x="216" y="806" width="235" height="3" fill="url(#p5g2)"/>
<rect x="216" y="809" width="235" height="3" fill="url(#p5g3)"/>
<rect x="216" y="812" width="235" height="3" fill="url(#p5g4)"/>
<rect x="216" y="815" width="235" height="3" fill="url(#p5g5)"/>
<rect x="216" y="818" width="235" height="3" fill="url(#p5g6)"/>
<rect x="216" y="821" width="235" height="3" fill="url(#p5g7)"/>
<rect x="216" y="824" width="235" height="3" fill="url(#p5g8)"/>
<rect x="216" y="827" width="235" height="3" fill="url(#p5g9)"/>
<rect x="216" y="830" width="235" height="3" fill="url(#p5g10)"/>
<rect x="216" y="833" width="235" height="3" fill="url(#p5g11)"/>
<rect x="216" y="836" width="235" height="3" fill="url(#p5g12)"/>
<rect x="216" y="839" width="235" height="3" fill="url(#p5g13)"/>
<rect x="216" y="842" width="235" height="3" fill="url(#p5g14)"/>
<rect x="216" y="845" width="235" height="3" fill="url(#p5g15)"/>
<rect x="216" y="848" width="235" height="3" fill="url(#p5g16)"/>
<rect x="216" y="851" width="235" height="3" fill="url(#p5g17)"/>
<rect x="216" y="854" width="235" height="3" fill="url(#p5g18)"/>
<rect x="216" y="857" width="235" height="3" fill="url(#p5g19)"/>
<rect x="216" y="860" width="235" height="3" fill="url(#p5g20)"/>
<rect x="216" y="863" width="235" height="3" fill="url(#p5g21)"/>
<rect x="216" y="866" width="235" height="3" fill="url(#p5g22)"/>
<rect x="216" y="869" width="235" height="3" fill="url(#p5g23)"/>
<rect x="216" y="872" width="235" height="3" fill="url(#p5g24)"/>
<rect x="216" y="875" width="235" height="3" fill="url(#p5g25)"/>
<rect x="216" y="878" width="235" height="2" fill="url(#p5g26)"/>
<rect x="216" y="880" width="235" height="3" fill="url(#p5g27)"/>
<rect x="216" y="883" width="235" height="2" fill="url(#p5g28)"/>
<rect x="216" y="885" width="235" height="3" fill="url(#p5g29)"/>
<rect x="216" y="888" width="235" height="3" fill="url(#p5g30)"/>
<rect x="216" y="891" width="235" height="3" fill="url(#p5g31)"/>
<rect x="216" y="894" width="235" height="4" fill="url(#p5g32)"/>
<rect x="216" y="898" width="235" height="3" fill="url(#p5g33)"/>
<rect x="216" y="901" width="235" height="5" fill="url(#p5g34)"/>
<rect x="216" y="906" width="235" height="4" fill="url(#p5g35)"/>
<rect x="216" y="910" width="235" height="6" fill="url(#p5g36)"/>
<rect x="216" y="916" width="235" height="6" fill="url(#p5g37)"/>
<rect x="216" y="922" width="235" height="8" fill="url(#p5g38)"/>
<rect x="216" y="930" width="235" height="9" fill="url(#p5g39)"/>
<rect x="216" y="939" width="235" height="13" fill="url(#p5g40)"/>
<rect x="216" y="952" width="235" height="16" fill="url(#p5g41)"/>
<rect x="375" y="930" width="1" height="38" fill="#260000" opacity="0.17"/>
<rect x="414" y="910" width="1" height="6" fill="#260000" opacity="0.13"/>
<rect x="362" y="910" width="2" height="6" fill="#260000" opacity="0.08"/>
<rect x="450" y="922" width="1" height="8" fill="#260000" opacity="0.13"/>
<rect x="374" y="939" width="1" height="13" fill="#260000" opacity="0.1"/>
<rect x="290" y="939" width="1" height="29" fill="#260000" opacity="0.07"/>
<rect x="392" y="922" width="1" height="8" fill="#260000" opacity="0.14"/>
<rect x="283" y="930" width="1" height="22" fill="#260000" opacity="0.11"/>
<rect x="397" y="930" width="1" height="9" fill="#260000" opacity="0.17"/>
<rect x="296" y="922" width="1" height="30" fill="#260000" opacity="0.06"/>
<rect x="221" y="930" width="1" height="22" fill="#260000" opacity="0.19"/>
<rect x="331" y="939" width="1" height="29" fill="#260000" opacity="0.04"/>
<rect x="243" y="930" width="1" height="9" fill="#260000" opacity="0.16"/>
<rect x="239" y="916" width="1" height="14" fill="#260000" opacity="0.24"/>
<rect x="303" y="910" width="1" height="12" fill="#260000" opacity="0.07"/>
<rect x="297" y="952" width="1" height="16" fill="#260000" opacity="0.1"/>
<rect x="257" y="952" width="2" height="16" fill="#260000" opacity="0.09"/>
<rect x="405" y="930" width="2" height="22" fill="#260000" opacity="0.13"/>
<rect x="450" y="922" width="1" height="8" fill="#260000" opacity="0.13"/>
<rect x="403" y="939" width="2" height="29" fill="#260000" opacity="0.12"/>
<rect x="231" y="930" width="2" height="9" fill="#260000" opacity="0.25"/>
<rect x="290" y="939" width="2" height="13" fill="#260000" opacity="0.12"/>
<rect x="438" y="952" width="1" height="16" fill="#260000" opacity="0.19"/>
<rect x="308" y="930" width="1" height="38" fill="#260000" opacity="0.09"/>
<rect x="387" y="922" width="1" height="8" fill="#260000" opacity="0.22"/>
<rect x="280" y="930" width="1" height="22" fill="#260000" opacity="0.14"/>
<rect x="381" y="930" width="1" height="9" fill="#260000" opacity="0.17"/>
<rect x="404" y="922" width="1" height="8" fill="#260000" opacity="0.23"/>
<rect x="392" y="930" width="1" height="9" fill="#260000" opacity="0.17"/>
<rect x="258" y="930" width="1" height="22" fill="#260000" opacity="0.18"/>
<rect x="400" y="922" width="2" height="8" fill="#260000" opacity="0.15"/>
<rect x="379" y="952" width="1" height="16" fill="#260000" opacity="0.15"/>
<rect x="375" y="939" width="1" height="29" fill="#260000" opacity="0.15"/>
<rect x="226" y="939" width="1" height="13" fill="#260000" opacity="0.25"/>
<rect x="244" y="939" width="1" height="29" fill="#260000" opacity="0.18"/>
<rect x="234" y="939" width="1" height="29" fill="#260000" opacity="0.11"/>
<rect x="435" y="952" width="1" height="16" fill="#260000" opacity="0.26"/>
<rect x="240" y="916" width="1" height="6" fill="#260000" opacity="0.24"/>
<rect x="425" y="922" width="1" height="17" fill="#260000" opacity="0.18"/>
<rect x="256" y="916" width="1" height="14" fill="#260000" opacity="0.22"/>
<rect x="371" y="910" width="2" height="6" fill="#260000" opacity="0.08"/>
<rect x="268" y="885" width="4" height="14" fill="url(#p5g42)"/>
<rect x="277" y="885" width="4" height="14" fill="url(#p5g43)"/>
<rect x="286" y="885" width="4" height="14" fill="url(#p5g44)"/>
<rect x="295" y="885" width="4" height="14" fill="url(#p5g45)"/>
<rect x="304" y="885" width="4" height="14" fill="url(#p5g46)"/>
<rect x="313" y="885" width="4" height="14" fill="url(#p5g47)"/>
<rect x="322" y="885" width="4" height="14" fill="url(#p5g48)"/>
<rect x="331" y="885" width="4" height="14" fill="url(#p5g49)"/>
<rect x="340" y="885" width="4" height="14" fill="url(#p5g50)"/>
<rect x="349" y="885" width="4" height="14" fill="url(#p5g51)"/>
<rect x="358" y="885" width="4" height="14" fill="url(#p5g52)"/>
<rect x="367" y="885" width="4" height="14" fill="url(#p5g53)"/>
<rect x="376" y="885" width="4" height="14" fill="url(#p5g54)"/>
<rect x="385" y="885" width="4" height="14" fill="url(#p5g55)"/>
<rect x="245" y="854.5" width="185" height="1.5" fill="#be1f00" opacity="0.85"/>
<rect x="290" y="866" width="110" height="1" fill="#ae2900" opacity="0.5"/>
<rect x="245" y="812" width="185" height="1" fill="#b33300" opacity="0.4"/>
<rect x="245" y="818" width="185" height="1" fill="#b33300" opacity="0.4"/>
<rect x="245" y="824" width="185" height="1" fill="#b33300" opacity="0.4"/>
<rect x="245" y="829" width="185" height="1" fill="#b33300" opacity="0.4"/>
<rect x="245" y="835" width="185" height="1" fill="#b33300" opacity="0.4"/>
<rect x="326" y="908" width="1" height="60" fill="#d90000" opacity="0.85"/>
</g></g>
<defs><filter id="p6F" filterUnits="userSpaceOnUse" x="216" y="968" width="235" height="166" color-interpolation-filters="sRGB">
<feTurbulence type="fractalNoise" baseFrequency="1.7 1.3" numOctaves="1" seed="51" result="t1"/>
<feColorMatrix in="t1" type="matrix" values="2 0 0 0 -.5  2 0 0 0 -.5  2 0 0 0 -.5  0 0 0 0 1" result="n0"/>
<feComponentTransfer in="n0" result="n1"><feFuncR type="table" tableValues=".115 .169 .220 .269 .316 .360 .401 .441 .478 .513 .547 .578 .608 .637 .663 .689 .713 .736 .758 .778 .798 .817 .835 .852 .868 .884 .899 .913 .927 .940 .953 .966 .977"/><feFuncG type="table" tableValues=".115 .169 .220 .269 .316 .360 .401 .441 .478 .513 .547 .578 .608 .637 .663 .689 .713 .736 .758 .778 .798 .817 .835 .852 .868 .884 .899 .913 .927 .940 .953 .966 .977"/><feFuncB type="table" tableValues=".115 .169 .220 .269 .316 .360 .401 .441 .478 .513 .547 .578 .608 .637 .663 .689 .713 .736 .758 .778 .798 .817 .835 .852 .868 .884 .899 .913 .927 .940 .953 .966 .977"/></feComponentTransfer>
<feTurbulence type="fractalNoise" baseFrequency="1.7 0.012" numOctaves="1" seed="58" result="t2"/>
<feColorMatrix in="t2" type="matrix" values="2 0 0 0 -.5  2 0 0 0 -.5  2 0 0 0 -.5  0 0 0 0 1" result="n20"/>
<feComponentTransfer in="n20" result="n2"><feFuncR type="table" tableValues=".115 .169 .220 .269 .316 .360 .401 .441 .478 .513 .547 .578 .608 .637 .663 .689 .713 .736 .758 .778 .798 .817 .835 .852 .868 .884 .899 .913 .927 .940 .953 .966 .977"/><feFuncG type="table" tableValues=".115 .169 .220 .269 .316 .360 .401 .441 .478 .513 .547 .578 .608 .637 .663 .689 .713 .736 .758 .778 .798 .817 .835 .852 .868 .884 .899 .913 .927 .940 .953 .966 .977"/><feFuncB type="table" tableValues=".115 .169 .220 .269 .316 .360 .401 .441 .478 .513 .547 .578 .608 .637 .663 .689 .713 .736 .758 .778 .798 .817 .835 .852 .868 .884 .899 .913 .927 .940 .953 .966 .977"/></feComponentTransfer>
<feColorMatrix in="SourceGraphic" type="matrix" values="0 1 0 0 0  0 1 0 0 0  0 1 0 0 0  0 0 0 1 0" result="a1"/>
<feColorMatrix in="SourceGraphic" type="matrix" values="0 0 1 0 0  0 0 1 0 0  0 0 1 0 0  0 0 0 1 0" result="a2"/>
<feColorMatrix in="SourceGraphic" type="matrix" values="1 -.7 -.7 0 0  1 -.7 -.7 0 0  1 -.7 -.7 0 0  0 0 0 1 0" result="v"/>
<feComposite in="a1" in2="n1" operator="arithmetic" k1="1" k2="0" k3="0" k4="0" result="m1"/>
<feComposite in="a2" in2="n2" operator="arithmetic" k1="1" k2="0" k3="0" k4="0" result="m2"/>
<feComposite in="v" in2="m1" operator="arithmetic" k1="0" k2="1" k3="1" k4="0" result="v3"/>
<feComposite in="v3" in2="m2" operator="arithmetic" k1="0" k2="1" k3="1" k4="0" result="v4"/>
<feComponentTransfer in="v4"><feFuncR type="table" tableValues="0 0 0 0 0 0 0 0 0 0.01 0.08 0.23 0.32 0.39 0.34 0.28 0.13 0 0 0 0 0 0 0 0 0 0 0 0 0.08 0.28 0.48 0.65 0.84 1 1 1 1 1 1 1 1 1 1 1 0.97 0.79 0.7 0.65 0.65 0.65 0.65 0.65 0.65 0.65 0.65 0.65"/><feFuncG type="table" tableValues="0 0 0 0 0 0 0 0 0 0 0 0 0 0 0 0 0 0.03 0.19 0.36 0.5 0.65 0.8 0.95 1 1 1 1 1 1 1 1 1 1 1 1 0.94 0.83 0.71 0.58 0.45 0.32 0.14 0 0 0 0 0 0 0 0 0 0 0 0 0 0"/><feFuncB type="table" tableValues="0 0 0 0 0 0 0 0 0 0.02 0.12 0.32 0.47 0.58 0.73 0.89 0.95 1 1 1 1 1 1 1 0.86 0.67 0.48 0.3 0.12 0 0 0 0 0 0 0 0 0 0 0 0 0 0 0 0 0 0 0 0 0 0 0 0 0 0 0 0"/></feComponentTransfer>
<feComposite in2="SourceGraphic" operator="in"/>
</filter><clipPath id="p6C"><rect x="216" y="968" width="235" height="166"/></clipPath><linearGradient id="p6g1" gradientUnits="userSpaceOnUse" x1="216" y1="0" x2="451" y2="0"><stop offset="0" stop-color="#9c4200"/><stop offset=".191" stop-color="#9c4200"/><stop offset=".383" stop-color="#a14200"/><stop offset=".574" stop-color="#a14200"/><stop offset=".766" stop-color="#9c4200"/><stop offset="1" stop-color="#9c4200"/></linearGradient>
<linearGradient id="p6g2" gradientUnits="userSpaceOnUse" x1="216" y1="0" x2="451" y2="0"><stop offset="0" stop-color="#9c4200"/><stop offset=".191" stop-color="#9c4200"/><stop offset=".383" stop-color="#a14200"/><stop offset=".574" stop-color="#a14200"/><stop offset=".766" stop-color="#9c4200"/><stop offset="1" stop-color="#9c4200"/></linearGradient>
<linearGradient id="p6g3" gradientUnits="userSpaceOnUse" x1="216" y1="0" x2="451" y2="0"><stop offset="0" stop-color="#9b4200"/><stop offset=".191" stop-color="#9b4200"/><stop offset=".383" stop-color="#a04200"/><stop offset=".574" stop-color="#a04200"/><stop offset=".766" stop-color="#9b4200"/><stop offset="1" stop-color="#9b4200"/></linearGradient>
<linearGradient id="p6g4" gradientUnits="userSpaceOnUse" x1="216" y1="0" x2="451" y2="0"><stop offset="0" stop-color="#9b4200"/><stop offset=".191" stop-color="#9b4200"/><stop offset=".383" stop-color="#a04200"/><stop offset=".574" stop-color="#a04200"/><stop offset=".766" stop-color="#9b4200"/><stop offset="1" stop-color="#9b4200"/></linearGradient>
<linearGradient id="p6g5" gradientUnits="userSpaceOnUse" x1="216" y1="0" x2="451" y2="0"><stop offset="0" stop-color="#9b4200"/><stop offset=".255" stop-color="#9c4200"/><stop offset=".383" stop-color="#9f4200"/><stop offset=".574" stop-color="#9f4200"/><stop offset=".766" stop-color="#9b4200"/><stop offset="1" stop-color="#9b4200"/></linearGradient>
<linearGradient id="p6g6" gradientUnits="userSpaceOnUse" x1="216" y1="0" x2="451" y2="0"><stop offset="0" stop-color="#9b4200"/><stop offset=".255" stop-color="#9b4200"/><stop offset=".383" stop-color="#9f4200"/><stop offset=".574" stop-color="#9f4200"/><stop offset=".702" stop-color="#9b4200"/><stop offset="1" stop-color="#9b4200"/></linearGradient>
<linearGradient id="p6g7" gradientUnits="userSpaceOnUse" x1="216" y1="0" x2="451" y2="0"><stop offset="0" stop-color="#9a4200"/><stop offset=".255" stop-color="#9b4200"/><stop offset=".383" stop-color="#9e4200"/><stop offset=".574" stop-color="#9e4200"/><stop offset=".702" stop-color="#9b4200"/><stop offset="1" stop-color="#9a4200"/></linearGradient>
<linearGradient id="p6g8" gradientUnits="userSpaceOnUse" x1="216" y1="0" x2="451" y2="0"><stop offset="0" stop-color="#9a4200"/><stop offset=".255" stop-color="#9a4200"/><stop offset=".383" stop-color="#9e4200"/><stop offset=".574" stop-color="#9e4200"/><stop offset=".702" stop-color="#9a4200"/><stop offset="1" stop-color="#9a4200"/></linearGradient>
<linearGradient id="p6g9" gradientUnits="userSpaceOnUse" x1="216" y1="0" x2="451" y2="0"><stop offset="0" stop-color="#994200"/><stop offset=".255" stop-color="#9a4200"/><stop offset=".383" stop-color="#9d4200"/><stop offset="1" stop-color="#994200"/></linearGradient>
<linearGradient id="p6g10" gradientUnits="userSpaceOnUse" x1="216" y1="0" x2="451" y2="0"><stop offset="0" stop-color="#984200"/><stop offset=".191" stop-color="#984200"/><stop offset=".383" stop-color="#9c4200"/><stop offset="1" stop-color="#984200"/></linearGradient>
<linearGradient id="p6g11" gradientUnits="userSpaceOnUse" x1="216" y1="0" x2="451" y2="0"><stop offset="0" stop-color="#984200"/><stop offset=".191" stop-color="#984200"/><stop offset=".383" stop-color="#9b4200"/><stop offset="1" stop-color="#984200"/></linearGradient>
<linearGradient id="p6g12" gradientUnits="userSpaceOnUse" x1="216" y1="0" x2="451" y2="0"><stop offset="0" stop-color="#974200"/><stop offset=".191" stop-color="#974200"/><stop offset=".383" stop-color="#9a4200"/><stop offset="1" stop-color="#974200"/></linearGradient>
<linearGradient id="p6g13" gradientUnits="userSpaceOnUse" x1="216" y1="0" x2="451" y2="0"><stop offset="0" stop-color="#964200"/><stop offset=".191" stop-color="#964200"/><stop offset=".383" stop-color="#9a4200"/><stop offset="1" stop-color="#964200"/></linearGradient>
<linearGradient id="p6g14" gradientUnits="userSpaceOnUse" x1="216" y1="0" x2="451" y2="0"><stop offset="0" stop-color="#954200"/><stop offset=".191" stop-color="#954200"/><stop offset=".383" stop-color="#994200"/><stop offset="1" stop-color="#954200"/></linearGradient>
<linearGradient id="p6g15" gradientUnits="userSpaceOnUse" x1="216" y1="0" x2="451" y2="0"><stop offset="0" stop-color="#944200"/><stop offset=".574" stop-color="#984200"/><stop offset=".766" stop-color="#944200"/><stop offset="1" stop-color="#944200"/></linearGradient>
<linearGradient id="p6g16" gradientUnits="userSpaceOnUse" x1="216" y1="0" x2="451" y2="0"><stop offset="0" stop-color="#924200"/><stop offset=".191" stop-color="#934200"/><stop offset=".383" stop-color="#974200"/><stop offset=".574" stop-color="#974200"/><stop offset=".766" stop-color="#934200"/><stop offset="1" stop-color="#924200"/></linearGradient>
<linearGradient id="p6g17" gradientUnits="userSpaceOnUse" x1="216" y1="0" x2="451" y2="0"><stop offset="0" stop-color="#914200"/><stop offset=".191" stop-color="#914200"/><stop offset=".383" stop-color="#964200"/><stop offset=".574" stop-color="#964200"/><stop offset=".766" stop-color="#914200"/><stop offset="1" stop-color="#904200"/></linearGradient>
<linearGradient id="p6g18" gradientUnits="userSpaceOnUse" x1="216" y1="0" x2="451" y2="0"><stop offset="0" stop-color="#8f4200"/><stop offset=".128" stop-color="#8f4200"/><stop offset=".383" stop-color="#954200"/><stop offset=".574" stop-color="#954200"/><stop offset=".83" stop-color="#8f4200"/><stop offset="1" stop-color="#8e4200"/></linearGradient>
<linearGradient id="p6g19" gradientUnits="userSpaceOnUse" x1="216" y1="0" x2="451" y2="0"><stop offset="0" stop-color="#8d4200"/><stop offset=".128" stop-color="#8d4200"/><stop offset=".383" stop-color="#934200"/><stop offset=".574" stop-color="#934200"/><stop offset=".83" stop-color="#8d4200"/><stop offset="1" stop-color="#8c4200"/></linearGradient>
<linearGradient id="p6g20" gradientUnits="userSpaceOnUse" x1="216" y1="0" x2="451" y2="0"><stop offset="0" stop-color="#8c4200"/><stop offset=".128" stop-color="#8c4200"/><stop offset=".383" stop-color="#924200"/><stop offset=".574" stop-color="#924200"/><stop offset=".83" stop-color="#8c4200"/><stop offset="1" stop-color="#8a4200"/></linearGradient>
<linearGradient id="p6g21" gradientUnits="userSpaceOnUse" x1="216" y1="0" x2="451" y2="0"><stop offset="0" stop-color="#8a4200"/><stop offset=".128" stop-color="#8a4200"/><stop offset=".383" stop-color="#914200"/><stop offset=".574" stop-color="#914200"/><stop offset=".83" stop-color="#8a4200"/><stop offset="1" stop-color="#884200"/></linearGradient>
<linearGradient id="p6g22" gradientUnits="userSpaceOnUse" x1="216" y1="0" x2="451" y2="0"><stop offset="0" stop-color="#884200"/><stop offset=".128" stop-color="#884200"/><stop offset=".383" stop-color="#914200"/><stop offset=".511" stop-color="#914200"/><stop offset=".83" stop-color="#884200"/><stop offset="1" stop-color="#864200"/></linearGradient>
<linearGradient id="p6g23" gradientUnits="userSpaceOnUse" x1="216" y1="0" x2="451" y2="0"><stop offset="0" stop-color="#864200"/><stop offset=".128" stop-color="#864200"/><stop offset=".383" stop-color="#904200"/><stop offset=".511" stop-color="#914200"/><stop offset=".83" stop-color="#864200"/><stop offset="1" stop-color="#844200"/></linearGradient>
<linearGradient id="p6g24" gradientUnits="userSpaceOnUse" x1="216" y1="0" x2="451" y2="0"><stop offset="0" stop-color="#844200"/><stop offset=".128" stop-color="#844200"/><stop offset=".383" stop-color="#8f4200"/><stop offset=".511" stop-color="#904200"/><stop offset=".766" stop-color="#864200"/><stop offset="1" stop-color="#824200"/></linearGradient>
<linearGradient id="p6g25" gradientUnits="userSpaceOnUse" x1="216" y1="0" x2="451" y2="0"><stop offset="0" stop-color="#834200"/><stop offset=".128" stop-color="#834200"/><stop offset=".383" stop-color="#8e4200"/><stop offset=".511" stop-color="#904200"/><stop offset=".766" stop-color="#844200"/><stop offset="1" stop-color="#7f4200"/></linearGradient>
<linearGradient id="p6g26" gradientUnits="userSpaceOnUse" x1="216" y1="0" x2="451" y2="0"><stop offset="0" stop-color="#814200"/><stop offset=".128" stop-color="#814200"/><stop offset=".383" stop-color="#8e4200"/><stop offset=".511" stop-color="#904200"/><stop offset=".766" stop-color="#834200"/><stop offset="1" stop-color="#7e4200"/></linearGradient>
<linearGradient id="p6g27" gradientUnits="userSpaceOnUse" x1="216" y1="0" x2="451" y2="0"><stop offset="0" stop-color="#88000b"/><stop offset=".064" stop-color="#8c000b"/><stop offset=".128" stop-color="#98000b"/><stop offset=".191" stop-color="#a0000a"/><stop offset=".255" stop-color="#a30009"/><stop offset=".383" stop-color="#b90007"/><stop offset=".447" stop-color="#c70006"/><stop offset=".511" stop-color="#ca0005"/><stop offset=".574" stop-color="#c70006"/><stop offset=".638" stop-color="#b50007"/><stop offset=".702" stop-color="#ac0009"/><stop offset=".766" stop-color="#a7000a"/><stop offset=".957" stop-color="#9e000b"/><stop offset="1" stop-color="#95000b"/></linearGradient>
<linearGradient id="p6g28" gradientUnits="userSpaceOnUse" x1="216" y1="0" x2="451" y2="0"><stop offset="0" stop-color="#852926"/><stop offset=".191" stop-color="#842922"/><stop offset=".319" stop-color="#87291b"/><stop offset=".511" stop-color="#97290f"/><stop offset=".574" stop-color="#942913"/><stop offset=".702" stop-color="#87291f"/><stop offset="1" stop-color="#802926"/></linearGradient>
<linearGradient id="p6g29" gradientUnits="userSpaceOnUse" x1="216" y1="0" x2="451" y2="0"><stop offset="0" stop-color="#7a2926"/><stop offset=".064" stop-color="#772926"/><stop offset=".255" stop-color="#84291f"/><stop offset=".511" stop-color="#90290f"/><stop offset=".766" stop-color="#7f2922"/><stop offset="1" stop-color="#782926"/></linearGradient>
<linearGradient id="p6g30" gradientUnits="userSpaceOnUse" x1="216" y1="0" x2="451" y2="0"><stop offset="0" stop-color="#7a2926"/><stop offset=".064" stop-color="#772926"/><stop offset=".255" stop-color="#84291f"/><stop offset=".511" stop-color="#90290f"/><stop offset=".766" stop-color="#7f2922"/><stop offset="1" stop-color="#782926"/></linearGradient>
<linearGradient id="p6g31" gradientUnits="userSpaceOnUse" x1="216" y1="0" x2="451" y2="0"><stop offset="0" stop-color="#7a2926"/><stop offset=".064" stop-color="#772926"/><stop offset=".255" stop-color="#84291f"/><stop offset=".511" stop-color="#90290f"/><stop offset=".766" stop-color="#7f2922"/><stop offset="1" stop-color="#782926"/></linearGradient>
<linearGradient id="p6g32" gradientUnits="userSpaceOnUse" x1="216" y1="0" x2="451" y2="0"><stop offset="0" stop-color="#7a2926"/><stop offset=".064" stop-color="#772926"/><stop offset=".255" stop-color="#84291f"/><stop offset=".511" stop-color="#90290f"/><stop offset=".766" stop-color="#7f2922"/><stop offset="1" stop-color="#782926"/></linearGradient>
<linearGradient id="p6g33" gradientUnits="userSpaceOnUse" x1="216" y1="0" x2="451" y2="0"><stop offset="0" stop-color="#7c0026"/><stop offset=".128" stop-color="#800026"/><stop offset=".383" stop-color="#8f0017"/><stop offset=".511" stop-color="#93000f"/><stop offset=".638" stop-color="#8a0017"/><stop offset=".766" stop-color="#840022"/><stop offset=".894" stop-color="#7c0026"/><stop offset="1" stop-color="#7a0026"/></linearGradient>
<linearGradient id="p6g34" gradientUnits="userSpaceOnUse" x1="216" y1="0" x2="451" y2="0"><stop offset="0" stop-color="#850026"/><stop offset=".064" stop-color="#800026"/><stop offset=".191" stop-color="#8f0022"/><stop offset=".447" stop-color="#990013"/><stop offset=".511" stop-color="#9e000f"/><stop offset=".702" stop-color="#8b001f"/><stop offset=".83" stop-color="#850026"/><stop offset=".894" stop-color="#800026"/><stop offset="1" stop-color="#7e0026"/></linearGradient>
<linearGradient id="p6g35" gradientUnits="userSpaceOnUse" x1="216" y1="0" x2="451" y2="0"><stop offset="0" stop-color="#a00008"/><stop offset=".064" stop-color="#a10008"/><stop offset=".128" stop-color="#a70008"/><stop offset=".255" stop-color="#bc0006"/><stop offset=".383" stop-color="#ca0005"/><stop offset=".447" stop-color="#cc0004"/><stop offset=".511" stop-color="#e00003"/><stop offset=".574" stop-color="#cc0004"/><stop offset=".638" stop-color="#c70005"/><stop offset=".702" stop-color="#ba0006"/><stop offset=".894" stop-color="#a50008"/><stop offset="1" stop-color="#a00008"/></linearGradient>
<linearGradient id="p6g36" gradientUnits="userSpaceOnUse" x1="216" y1="0" x2="451" y2="0"><stop offset="0" stop-color="#7e001f"/><stop offset=".064" stop-color="#7a001f"/><stop offset=".255" stop-color="#990018"/><stop offset=".447" stop-color="#a9000f"/><stop offset=".511" stop-color="#b5000c"/><stop offset=".702" stop-color="#a00018"/><stop offset=".894" stop-color="#88001f"/><stop offset=".957" stop-color="#85001f"/><stop offset="1" stop-color="#80001f"/></linearGradient>
<linearGradient id="p6g37" gradientUnits="userSpaceOnUse" x1="216" y1="0" x2="451" y2="0"><stop offset="0" stop-color="#73001f"/><stop offset=".064" stop-color="#6f001f"/><stop offset=".255" stop-color="#920018"/><stop offset=".383" stop-color="#9f0012"/><stop offset=".447" stop-color="#a2000f"/><stop offset=".511" stop-color="#ac000c"/><stop offset=".638" stop-color="#a10012"/><stop offset=".766" stop-color="#8f001c"/><stop offset=".894" stop-color="#80001f"/><stop offset=".957" stop-color="#7a001f"/><stop offset="1" stop-color="#73001f"/></linearGradient>
<linearGradient id="p6g38" gradientUnits="userSpaceOnUse" x1="216" y1="0" x2="451" y2="0"><stop offset="0" stop-color="#6f001f"/><stop offset=".064" stop-color="#6a001f"/><stop offset=".191" stop-color="#84001c"/><stop offset=".255" stop-color="#8e0018"/><stop offset=".511" stop-color="#a5000c"/><stop offset=".574" stop-color="#a2000f"/><stop offset=".702" stop-color="#900018"/><stop offset=".83" stop-color="#85001f"/><stop offset=".894" stop-color="#7a001f"/><stop offset="1" stop-color="#6f001f"/></linearGradient>
<linearGradient id="p6g39" gradientUnits="userSpaceOnUse" x1="216" y1="0" x2="451" y2="0"><stop offset="0" stop-color="#68001f"/><stop offset=".064" stop-color="#68001f"/><stop offset=".255" stop-color="#8b0018"/><stop offset=".511" stop-color="#a4000c"/><stop offset=".574" stop-color="#a1000f"/><stop offset=".702" stop-color="#8e0018"/><stop offset=".83" stop-color="#81001f"/><stop offset=".894" stop-color="#78001f"/><stop offset=".957" stop-color="#6c001f"/><stop offset="1" stop-color="#6f001f"/></linearGradient>
<linearGradient id="p6g40" gradientUnits="userSpaceOnUse" x1="216" y1="0" x2="451" y2="0"><stop offset="0" stop-color="#65001f"/><stop offset=".064" stop-color="#61001f"/><stop offset=".128" stop-color="#6f001f"/><stop offset=".255" stop-color="#870018"/><stop offset=".447" stop-color="#9f000f"/><stop offset=".511" stop-color="#a4000c"/><stop offset=".574" stop-color="#a1000f"/><stop offset=".702" stop-color="#8e0018"/><stop offset=".957" stop-color="#6f001f"/><stop offset="1" stop-color="#6f001f"/></linearGradient>
<linearGradient id="p6g41" gradientUnits="userSpaceOnUse" x1="216" y1="0" x2="451" y2="0"><stop offset="0" stop-color="#68001f"/><stop offset=".064" stop-color="#68001f"/><stop offset=".191" stop-color="#7b001c"/><stop offset=".255" stop-color="#870018"/><stop offset=".383" stop-color="#980012"/><stop offset=".511" stop-color="#a4000c"/><stop offset=".574" stop-color="#a1000f"/><stop offset=".702" stop-color="#8e0018"/><stop offset=".766" stop-color="#88001c"/><stop offset=".957" stop-color="#6a001f"/><stop offset="1" stop-color="#6e001f"/></linearGradient></defs>
<g filter="url(#p6F)"><g clip-path="url(#p6C)">
<rect x="216" y="968" width="235" height="166" fill="#910000"/>
<rect x="216" y="968" width="235" height="4" fill="url(#p6g1)"/>
<rect x="216" y="972" width="235" height="2" fill="url(#p6g2)"/>
<rect x="216" y="974" width="235" height="4" fill="url(#p6g3)"/>
<rect x="216" y="978" width="235" height="2" fill="url(#p6g4)"/>
<rect x="216" y="980" width="235" height="4" fill="url(#p6g5)"/>
<rect x="216" y="984" width="235" height="2" fill="url(#p6g6)"/>
<rect x="216" y="986" width="235" height="4" fill="url(#p6g7)"/>
<rect x="216" y="990" width="235" height="2" fill="url(#p6g8)"/>
<rect x="216" y="992" width="235" height="4" fill="url(#p6g9)"/>
<rect x="216" y="996" width="235" height="2" fill="url(#p6g10)"/>
<rect x="216" y="998" width="235" height="4" fill="url(#p6g11)"/>
<rect x="216" y="1002" width="235" height="2" fill="url(#p6g12)"/>
<rect x="216" y="1004" width="235" height="4" fill="url(#p6g13)"/>
<rect x="216" y="1008" width="235" height="2" fill="url(#p6g14)"/>
<rect x="216" y="1010" width="235" height="4" fill="url(#p6g15)"/>
<rect x="216" y="1014" width="235" height="2" fill="url(#p6g16)"/>
<rect x="216" y="1016" width="235" height="4" fill="url(#p6g17)"/>
<rect x="216" y="1020" width="235" height="2" fill="url(#p6g18)"/>
<rect x="216" y="1022" width="235" height="4" fill="url(#p6g19)"/>
<rect x="216" y="1026" width="235" height="2" fill="url(#p6g20)"/>
<rect x="216" y="1028" width="235" height="4" fill="url(#p6g21)"/>
<rect x="216" y="1032" width="235" height="2" fill="url(#p6g22)"/>
<rect x="216" y="1034" width="235" height="4" fill="url(#p6g23)"/>
<rect x="216" y="1038" width="235" height="2" fill="url(#p6g24)"/>
<rect x="216" y="1040" width="235" height="4" fill="url(#p6g25)"/>
<rect x="216" y="1044" width="235" height="2" fill="url(#p6g26)"/>
<rect x="216" y="1046" width="235" height="2" fill="url(#p6g27)"/>
<rect x="216" y="1048" width="235" height="3" fill="url(#p6g28)"/>
<rect x="216" y="1051" width="235" height="3" fill="url(#p6g29)"/>
<rect x="216" y="1054" width="235" height="2" fill="url(#p6g30)"/>
<rect x="216" y="1056" width="235" height="4" fill="url(#p6g31)"/>
<rect x="216" y="1060" width="235" height="3" fill="url(#p6g32)"/>
<rect x="216" y="1063" width="235" height="4" fill="url(#p6g33)"/>
<rect x="216" y="1067" width="235" height="4" fill="url(#p6g34)"/>
<rect x="216" y="1071" width="235" height="5" fill="url(#p6g35)"/>
<rect x="216" y="1076" width="235" height="5" fill="url(#p6g36)"/>
<rect x="216" y="1081" width="235" height="6" fill="url(#p6g37)"/>
<rect x="216" y="1087" width="235" height="8" fill="url(#p6g38)"/>
<rect x="216" y="1095" width="235" height="10" fill="url(#p6g39)"/>
<rect x="216" y="1105" width="235" height="12" fill="url(#p6g40)"/>
<rect x="216" y="1117" width="235" height="17" fill="url(#p6g41)"/>
<rect x="419" y="1117" width="1" height="17" fill="#260000" opacity="0.17"/>
<rect x="253" y="1087" width="1" height="30" fill="#260000" opacity="0.23"/>
<rect x="221" y="1105" width="2" height="29" fill="#260000" opacity="0.38"/>
<rect x="265" y="1076" width="1" height="19" fill="#260000" opacity="0.28"/>
<rect x="432" y="1117" width="2" height="17" fill="#260000" opacity="0.35"/>
<rect x="409" y="1076" width="1" height="5" fill="#260000" opacity="0.38"/>
<rect x="427" y="1095" width="1" height="22" fill="#260000" opacity="0.28"/>
<rect x="444" y="1117" width="1" height="17" fill="#260000" opacity="0.22"/>
<rect x="326" y="1081" width="1" height="6" fill="#260000" opacity="0.13"/>
<rect x="389" y="1117" width="1" height="17" fill="#260000" opacity="0.2"/>
<rect x="266" y="1105" width="1" height="12" fill="#260000" opacity="0.31"/>
<rect x="440" y="1117" width="1" height="17" fill="#260000" opacity="0.17"/>
<rect x="301" y="1076" width="1" height="11" fill="#260000" opacity="0.16"/>
<rect x="351" y="1105" width="2" height="29" fill="#260000" opacity="0.09"/>
<rect x="317" y="1087" width="1" height="8" fill="#260000" opacity="0.2"/>
<rect x="428" y="1117" width="2" height="17" fill="#260000" opacity="0.27"/>
<rect x="396" y="1117" width="1" height="17" fill="#260000" opacity="0.24"/>
<rect x="400" y="1105" width="1" height="12" fill="#260000" opacity="0.27"/>
<rect x="280" y="1095" width="1" height="10" fill="#260000" opacity="0.22"/>
<rect x="441" y="1087" width="2" height="8" fill="#260000" opacity="0.32"/>
<rect x="341" y="1087" width="1" height="18" fill="#260000" opacity="0.14"/>
<rect x="335" y="1076" width="2" height="5" fill="#260000" opacity="0.13"/>
<rect x="284" y="1087" width="1" height="18" fill="#260000" opacity="0.28"/>
<rect x="290" y="1081" width="1" height="14" fill="#260000" opacity="0.15"/>
<rect x="244" y="1095" width="2" height="10" fill="#260000" opacity="0.36"/>
<rect x="231" y="1105" width="1" height="12" fill="#260000" opacity="0.26"/>
<rect x="416" y="1081" width="1" height="14" fill="#260000" opacity="0.27"/>
<rect x="241" y="1105" width="1" height="29" fill="#260000" opacity="0.31"/>
<rect x="252" y="1076" width="1" height="5" fill="#260000" opacity="0.17"/>
<rect x="446" y="1117" width="1" height="17" fill="#260000" opacity="0.31"/>
<rect x="237" y="1076" width="2" height="5" fill="#260000" opacity="0.28"/>
<rect x="221" y="1105" width="2" height="12" fill="#260000" opacity="0.28"/>
<rect x="328" y="1095" width="1" height="22" fill="#260000" opacity="0.16"/>
<rect x="289" y="1117" width="1" height="17" fill="#260000" opacity="0.16"/>
<rect x="311" y="1117" width="1" height="17" fill="#260000" opacity="0.16"/>
<rect x="224" y="1095" width="1" height="10" fill="#260000" opacity="0.18"/>
<rect x="405" y="1105" width="2" height="29" fill="#260000" opacity="0.23"/>
<rect x="235" y="1076" width="2" height="5" fill="#260000" opacity="0.29"/>
<rect x="379" y="1117" width="1" height="17" fill="#260000" opacity="0.16"/>
<rect x="397" y="1095" width="1" height="39" fill="#260000" opacity="0.26"/>
<rect x="433" y="1105" width="1" height="12" fill="#260000" opacity="0.26"/>
<rect x="257" y="1105" width="1" height="29" fill="#260000" opacity="0.32"/>
<rect x="361" y="1095" width="2" height="22" fill="#260000" opacity="0.09"/>
<rect x="432" y="1081" width="1" height="24" fill="#260000" opacity="0.33"/>
<rect x="381" y="1076" width="1" height="5" fill="#260000" opacity="0.26"/>
<rect x="254" y="1076" width="2" height="5" fill="#260000" opacity="0.17"/>
<rect x="219" y="1117" width="1" height="17" fill="#260000" opacity="0.32"/>
<rect x="368" y="1081" width="2" height="6" fill="#260000" opacity="0.14"/>
<rect x="291" y="1117" width="1" height="17" fill="#260000" opacity="0.14"/>
<rect x="385" y="1117" width="1" height="17" fill="#260000" opacity="0.15"/>
<rect x="223" y="1076" width="2" height="19" fill="#260000" opacity="0.32"/>
<rect x="289" y="1105" width="1" height="12" fill="#260000" opacity="0.16"/>
<rect x="219" y="1076" width="1" height="19" fill="#260000" opacity="0.34"/>
<rect x="239" y="1076" width="1" height="5" fill="#260000" opacity="0.25"/>
<rect x="245" y="1117" width="1" height="17" fill="#260000" opacity="0.27"/>
<rect x="429" y="1095" width="1" height="10" fill="#260000" opacity="0.17"/>
<rect x="233" y="1087" width="1" height="8" fill="#260000" opacity="0.32"/>
<rect x="373" y="1105" width="2" height="12" fill="#260000" opacity="0.2"/>
<rect x="285" y="1095" width="1" height="10" fill="#260000" opacity="0.25"/>
<rect x="242" y="1081" width="1" height="6" fill="#260000" opacity="0.28"/>
<rect x="246" y="1087" width="2" height="18" fill="#260000" opacity="0.36"/>
<rect x="336" y="1076" width="1" height="11" fill="#260000" opacity="0.14"/>
<rect x="434" y="1087" width="1" height="8" fill="#260000" opacity="0.2"/>
<rect x="389" y="1117" width="1" height="17" fill="#260000" opacity="0.16"/>
<rect x="375" y="1105" width="1" height="29" fill="#260000" opacity="0.15"/>
<rect x="321" y="1105" width="1" height="29" fill="#260000" opacity="0.14"/>
<rect x="414" y="1095" width="2" height="10" fill="#260000" opacity="0.37"/>
<rect x="382" y="1117" width="1" height="17" fill="#260000" opacity="0.14"/>
<rect x="425" y="1117" width="1" height="17" fill="#260000" opacity="0.18"/>
<rect x="429" y="1117" width="1" height="17" fill="#260000" opacity="0.24"/>
<rect x="402" y="1105" width="1" height="12" fill="#260000" opacity="0.2"/>
<rect x="248" y="1076" width="1" height="11" fill="#260000" opacity="0.33"/>
<rect x="250" y="1105" width="1" height="29" fill="#260000" opacity="0.33"/>
<rect x="301" y="1117" width="1" height="17" fill="#260000" opacity="0.11"/>
<rect x="383" y="1076" width="1" height="11" fill="#260000" opacity="0.15"/>
<rect x="241" y="1081" width="1" height="6" fill="#260000" opacity="0.34"/>
<rect x="435" y="1105" width="2" height="12" fill="#260000" opacity="0.34"/>
<rect x="417" y="1081" width="1" height="6" fill="#260000" opacity="0.39"/>
<rect x="311" y="1105" width="2" height="29" fill="#260000" opacity="0.13"/>
<rect x="338" y="1076" width="1" height="5" fill="#260000" opacity="0.11"/>
<rect x="414" y="1081" width="1" height="24" fill="#260000" opacity="0.27"/>
<rect x="442" y="1117" width="1" height="17" fill="#260000" opacity="0.32"/>
<rect x="281" y="1117" width="1" height="17" fill="#260000" opacity="0.28"/>
<rect x="362" y="1105" width="1" height="12" fill="#260000" opacity="0.13"/>
<rect x="441" y="1076" width="1" height="19" fill="#260000" opacity="0.3"/>
<rect x="239" y="1095" width="1" height="22" fill="#260000" opacity="0.25"/>
<rect x="272" y="1081" width="1" height="14" fill="#260000" opacity="0.16"/>
<rect x="403" y="1087" width="1" height="8" fill="#260000" opacity="0.29"/>
<rect x="284" y="1117" width="1" height="17" fill="#260000" opacity="0.21"/>
<rect x="407" y="1081" width="1" height="14" fill="#260000" opacity="0.37"/>
<rect x="231" y="1095" width="1" height="39" fill="#260000" opacity="0.18"/>
<rect x="244" y="1087" width="1" height="18" fill="#260000" opacity="0.21"/>
<rect x="283" y="1117" width="1" height="17" fill="#260000" opacity="0.18"/>
<rect x="434" y="1117" width="1" height="17" fill="#260000" opacity="0.23"/>
<rect x="308" y="1081" width="1" height="14" fill="#260000" opacity="0.17"/>
<rect x="398" y="1056" width="1" height="4" fill="#260000" opacity="0.23"/>
<rect x="424" y="1095" width="1" height="39" fill="#260000" opacity="0.18"/>
<rect x="280" y="1095" width="1" height="22" fill="#260000" opacity="0.22"/>
<rect x="369" y="1081" width="1" height="6" fill="#260000" opacity="0.17"/>
<rect x="291" y="1081" width="1" height="6" fill="#260000" opacity="0.21"/>
<rect x="276" y="1081" width="1" height="6" fill="#260000" opacity="0.23"/>
<rect x="433" y="1048" width="1" height="6" fill="#260000" opacity="0.4"/>
<rect x="247" y="1060" width="2" height="3" fill="#260000" opacity="0.33"/>
<rect x="224" y="1056" width="2" height="11" fill="#260000" opacity="0.32"/>
<rect x="424" y="1056" width="1" height="4" fill="#260000" opacity="0.25"/>
<rect x="397" y="1105" width="1" height="12" fill="#260000" opacity="0.25"/>
<rect x="227" y="1105" width="1" height="29" fill="#260000" opacity="0.41"/>
<rect x="411" y="1056" width="1" height="11" fill="#260000" opacity="0.23"/>
<rect x="365" y="1063" width="1" height="4" fill="#260000" opacity="0.12"/>
<rect x="319" y="1054" width="2" height="6" fill="#260000" opacity="0.12"/>
<rect x="231" y="1087" width="1" height="18" fill="#260000" opacity="0.4"/>
<rect x="344" y="1051" width="1" height="3" fill="#260000" opacity="0.13"/>
<rect x="252" y="1087" width="1" height="8" fill="#260000" opacity="0.37"/>
<rect x="317" y="1056" width="1" height="7" fill="#260000" opacity="0.2"/>
<rect x="269" y="1048" width="2" height="3" fill="#260000" opacity="0.21"/>
<rect x="432" y="1051" width="2" height="3" fill="#260000" opacity="0.23"/>
<rect x="380" y="1060" width="1" height="7" fill="#260000" opacity="0.23"/>
<rect x="236" y="1056" width="1" height="4" fill="#260000" opacity="0.19"/>
<rect x="236" y="1054" width="1" height="2" fill="#260000" opacity="0.31"/>
<rect x="316" y="1087" width="1" height="18" fill="#260000" opacity="0.19"/>
<rect x="377" y="1076" width="1" height="11" fill="#260000" opacity="0.14"/>
<rect x="272" y="1051" width="1" height="9" fill="#260000" opacity="0.25"/>
<rect x="373" y="1051" width="1" height="5" fill="#260000" opacity="0.2"/>
<rect x="339" y="1054" width="1" height="6" fill="#260000" opacity="0.08"/>
<rect x="221" y="1076" width="1" height="19" fill="#260000" opacity="0.42"/>
<rect x="424" y="1105" width="1" height="12" fill="#260000" opacity="0.22"/>
<rect x="392" y="1051" width="1" height="3" fill="#260000" opacity="0.2"/>
<rect x="327" y="1105" width="1" height="29" fill="#260000" opacity="0.18"/>
<rect x="362" y="1056" width="1" height="11" fill="#260000" opacity="0.21"/>
<rect x="322" y="1076" width="2" height="5" fill="#260000" opacity="0.14"/>
<rect x="247" y="1060" width="1" height="3" fill="#260000" opacity="0.35"/>
<rect x="311" y="1076" width="1" height="5" fill="#260000" opacity="0.13"/>
<rect x="314" y="1051" width="1" height="3" fill="#260000" opacity="0.15"/>
<rect x="403" y="1076" width="2" height="5" fill="#260000" opacity="0.25"/>
<rect x="382" y="1087" width="1" height="8" fill="#260000" opacity="0.22"/>
<rect x="433" y="1056" width="1" height="4" fill="#260000" opacity="0.39"/>
<rect x="216" y="1087" width="1" height="30" fill="#260000" opacity="0.33"/>
<rect x="367" y="1048" width="1" height="3" fill="#260000" opacity="0.12"/>
<rect x="426" y="1063" width="1" height="4" fill="#260000" opacity="0.25"/>
<rect x="373" y="1063" width="2" height="4" fill="#260000" opacity="0.15"/>
<rect x="447" y="1095" width="1" height="22" fill="#260000" opacity="0.25"/>
<rect x="293" y="1054" width="1" height="6" fill="#260000" opacity="0.13"/>
<rect x="424" y="1056" width="2" height="4" fill="#260000" opacity="0.25"/>
<rect x="221" y="1076" width="1" height="11" fill="#260000" opacity="0.41"/>
<rect x="331" y="1051" width="1" height="3" fill="#260000" opacity="0.18"/>
<rect x="400" y="1105" width="1" height="29" fill="#260000" opacity="0.38"/>
<rect x="243" y="1048" width="1" height="3" fill="#260000" opacity="0.25"/>
<rect x="259" y="1060" width="1" height="3" fill="#260000" opacity="0.33"/>
<rect x="256" y="1051" width="1" height="9" fill="#260000" opacity="0.29"/>
<rect x="287" y="1117" width="1" height="17" fill="#260000" opacity="0.28"/>
<rect x="431" y="1105" width="2" height="12" fill="#260000" opacity="0.3"/>
<rect x="221" y="1105" width="1" height="29" fill="#260000" opacity="0.34"/>
<rect x="339" y="1087" width="1" height="18" fill="#260000" opacity="0.1"/>
<rect x="273" y="1095" width="1" height="22" fill="#260000" opacity="0.34"/>
<rect x="253" y="1087" width="2" height="8" fill="#260000" opacity="0.19"/>
<rect x="394" y="1051" width="1" height="5" fill="#260000" opacity="0.23"/>
<rect x="333" y="1117" width="1" height="17" fill="#260000" opacity="0.12"/>
<rect x="238" y="1054" width="1" height="2" fill="#260000" opacity="0.18"/>
<rect x="227" y="1087" width="2" height="8" fill="#260000" opacity="0.42"/>
<rect x="430" y="1076" width="2" height="11" fill="#260000" opacity="0.41"/>
<rect x="278" y="1056" width="2" height="4" fill="#260000" opacity="0.31"/>
<rect x="425" y="1056" width="2" height="11" fill="#260000" opacity="0.33"/>
<rect x="217" y="1048" width="1" height="6" fill="#260000" opacity="0.18"/>
<rect x="240" y="1087" width="1" height="18" fill="#260000" opacity="0.41"/>
<rect x="318" y="1067" width="1" height="4" fill="#260000" opacity="0.18"/>
<rect x="415" y="1117" width="1" height="17" fill="#260000" opacity="0.21"/>
<rect x="281" y="1076" width="1" height="5" fill="#260000" opacity="0.15"/>
<rect x="229" y="1087" width="2" height="8" fill="#260000" opacity="0.3"/>
<rect x="403" y="1063" width="1" height="4" fill="#260000" opacity="0.25"/>
<rect x="271" y="1056" width="1" height="4" fill="#260000" opacity="0.22"/>
<rect x="347" y="1060" width="1" height="3" fill="#260000" opacity="0.15"/>
<rect x="300" y="980" width="70" height="1" fill="#ae3300" opacity="0.4"/>
<rect x="300" y="986" width="70" height="1" fill="#ae3300" opacity="0.4"/>
</g></g>
<defs><linearGradient id="cbg" x1="0" y1="0" x2="0" y2="1">
<stop offset="0" stop-color="rgb(165,0,0)"/>
<stop offset="0.02" stop-color="rgb(183,0,0)"/>
<stop offset="0.04" stop-color="rgb(203,0,0)"/>
<stop offset="0.06" stop-color="rgb(241,0,0)"/>
<stop offset="0.08" stop-color="rgb(255,0,0)"/>
<stop offset="0.1" stop-color="rgb(255,0,0)"/>
<stop offset="0.12" stop-color="rgb(255,0,0)"/>
<stop offset="0.15" stop-color="rgb(255,42,0)"/>
<stop offset="0.17" stop-color="rgb(255,79,0)"/>
<stop offset="0.19" stop-color="rgb(255,107,0)"/>
<stop offset="0.21" stop-color="rgb(255,134,0)"/>
<stop offset="0.23" stop-color="rgb(255,161,0)"/>
<stop offset="0.25" stop-color="rgb(255,187,0)"/>
<stop offset="0.27" stop-color="rgb(255,212,0)"/>
<stop offset="0.29" stop-color="rgb(255,235,0)"/>
<stop offset="0.31" stop-color="rgb(255,255,0)"/>
<stop offset="0.33" stop-color="rgb(255,255,0)"/>
<stop offset="0.35" stop-color="rgb(247,255,0)"/>
<stop offset="0.38" stop-color="rgb(209,255,0)"/>
<stop offset="0.4" stop-color="rgb(171,255,0)"/>
<stop offset="0.42" stop-color="rgb(134,255,0)"/>
<stop offset="0.44" stop-color="rgb(95,255,0)"/>
<stop offset="0.46" stop-color="rgb(53,255,0)"/>
<stop offset="0.48" stop-color="rgb(17,255,5)"/>
<stop offset="0.5" stop-color="rgb(0,255,30)"/>
<stop offset="0.52" stop-color="rgb(0,255,68)"/>
<stop offset="0.54" stop-color="rgb(0,255,106)"/>
<stop offset="0.56" stop-color="rgb(0,255,144)"/>
<stop offset="0.58" stop-color="rgb(0,255,184)"/>
<stop offset="0.6" stop-color="rgb(0,255,225)"/>
<stop offset="0.62" stop-color="rgb(0,247,255)"/>
<stop offset="0.65" stop-color="rgb(0,215,255)"/>
<stop offset="0.67" stop-color="rgb(0,183,255)"/>
<stop offset="0.69" stop-color="rgb(0,152,255)"/>
<stop offset="0.71" stop-color="rgb(0,122,255)"/>
<stop offset="0.73" stop-color="rgb(0,91,255)"/>
<stop offset="0.75" stop-color="rgb(0,57,255)"/>
<stop offset="0.77" stop-color="rgb(0,23,255)"/>
<stop offset="0.79" stop-color="rgb(10,0,251)"/>
<stop offset="0.81" stop-color="rgb(43,0,240)"/>
<stop offset="0.83" stop-color="rgb(72,0,225)"/>
<stop offset="0.85" stop-color="rgb(84,0,191)"/>
<stop offset="0.88" stop-color="rgb(97,0,158)"/>
<stop offset="0.9" stop-color="rgb(89,0,132)"/>
<stop offset="0.92" stop-color="rgb(76,0,109)"/>
<stop offset="0.94" stop-color="rgb(52,0,75)"/>
<stop offset="0.96" stop-color="rgb(22,0,33)"/>
<stop offset="0.98" stop-color="rgb(7,0,11)"/>
<stop offset="1" stop-color="rgb(0,0,0)"/>
</linearGradient></defs>
<rect x="707" y="13" width="6" height="169" fill="#000" shape-rendering="crispEdges"/>
<rect x="708" y="14" width="4" height="167" fill="url(#cbg)" shape-rendering="crispEdges"/>
<rect x="707" y="181" width="6" height="169" fill="#000" shape-rendering="crispEdges"/>
<rect x="708" y="182" width="4" height="167" fill="url(#cbg)" shape-rendering="crispEdges"/>
<rect x="707" y="403" width="6" height="174" fill="#000" shape-rendering="crispEdges"/>
<rect x="708" y="404" width="4" height="172" fill="url(#cbg)" shape-rendering="crispEdges"/>
<rect x="707" y="576" width="6" height="174" fill="#000" shape-rendering="crispEdges"/>
<rect x="708" y="577" width="4" height="172" fill="url(#cbg)" shape-rendering="crispEdges"/>
<rect x="707" y="803" width="6" height="166" fill="#000" shape-rendering="crispEdges"/>
<rect x="708" y="804" width="4" height="164" fill="url(#cbg)" shape-rendering="crispEdges"/>
<rect x="707" y="968" width="6" height="167" fill="#000" shape-rendering="crispEdges"/>
<rect x="708" y="969" width="4" height="165" fill="url(#cbg)" shape-rendering="crispEdges"/>
<g fill="#000" shape-rendering="crispEdges">
<rect x="58" y="13" width="645" height="1"/>
<rect x="58" y="181" width="645" height="1"/>
<rect x="58" y="349" width="645" height="1"/>
<rect x="58" y="13" width="1" height="337"/>
<rect x="702" y="13" width="1" height="337"/>
<rect x="58" y="13" width="1" height="4"/>
<rect x="58" y="178" width="1" height="7"/>
<rect x="58" y="346" width="1" height="4"/>
<rect x="76" y="13" width="1" height="3"/>
<rect x="76" y="179" width="1" height="5"/>
<rect x="76" y="347" width="1" height="3"/>
<rect x="94" y="13" width="1" height="3"/>
<rect x="94" y="179" width="1" height="5"/>
<rect x="94" y="347" width="1" height="3"/>
<rect x="112" y="13" width="1" height="3"/>
<rect x="112" y="179" width="1" height="5"/>
<rect x="112" y="347" width="1" height="3"/>
<rect x="130" y="13" width="1" height="3"/>
<rect x="130" y="179" width="1" height="5"/>
<rect x="130" y="347" width="1" height="3"/>
<rect x="147" y="13" width="1" height="3"/>
<rect x="147" y="179" width="1" height="5"/>
<rect x="147" y="347" width="1" height="3"/>
<rect x="165" y="13" width="1" height="4"/>
<rect x="165" y="178" width="1" height="7"/>
<rect x="165" y="346" width="1" height="4"/>
<rect x="183" y="13" width="1" height="3"/>
<rect x="183" y="179" width="1" height="5"/>
<rect x="183" y="347" width="1" height="3"/>
<rect x="201" y="13" width="1" height="3"/>
<rect x="201" y="179" width="1" height="5"/>
<rect x="201" y="347" width="1" height="3"/>
<rect x="219" y="13" width="1" height="3"/>
<rect x="219" y="179" width="1" height="5"/>
<rect x="219" y="347" width="1" height="3"/>
<rect x="237" y="13" width="1" height="3"/>
<rect x="237" y="179" width="1" height="5"/>
<rect x="237" y="347" width="1" height="3"/>
<rect x="255" y="13" width="1" height="3"/>
<rect x="255" y="179" width="1" height="5"/>
<rect x="255" y="347" width="1" height="3"/>
<rect x="273" y="13" width="1" height="4"/>
<rect x="273" y="178" width="1" height="7"/>
<rect x="273" y="346" width="1" height="4"/>
<rect x="291" y="13" width="1" height="3"/>
<rect x="291" y="179" width="1" height="5"/>
<rect x="291" y="347" width="1" height="3"/>
<rect x="308" y="13" width="1" height="3"/>
<rect x="308" y="179" width="1" height="5"/>
<rect x="308" y="347" width="1" height="3"/>
<rect x="326" y="13" width="1" height="3"/>
<rect x="326" y="179" width="1" height="5"/>
<rect x="326" y="347" width="1" height="3"/>
<rect x="344" y="13" width="1" height="3"/>
<rect x="344" y="179" width="1" height="5"/>
<rect x="344" y="347" width="1" height="3"/>
<rect x="362" y="13" width="1" height="3"/>
<rect x="362" y="179" width="1" height="5"/>
<rect x="362" y="347" width="1" height="3"/>
<rect x="380" y="13" width="1" height="4"/>
<rect x="380" y="178" width="1" height="7"/>
<rect x="380" y="346" width="1" height="4"/>
<rect x="398" y="13" width="1" height="3"/>
<rect x="398" y="179" width="1" height="5"/>
<rect x="398" y="347" width="1" height="3"/>
<rect x="416" y="13" width="1" height="3"/>
<rect x="416" y="179" width="1" height="5"/>
<rect x="416" y="347" width="1" height="3"/>
<rect x="434" y="13" width="1" height="3"/>
<rect x="434" y="179" width="1" height="5"/>
<rect x="434" y="347" width="1" height="3"/>
<rect x="452" y="13" width="1" height="3"/>
<rect x="452" y="179" width="1" height="5"/>
<rect x="452" y="347" width="1" height="3"/>
<rect x="469" y="13" width="1" height="3"/>
<rect x="469" y="179" width="1" height="5"/>
<rect x="469" y="347" width="1" height="3"/>
<rect x="487" y="13" width="1" height="4"/>
<rect x="487" y="178" width="1" height="7"/>
<rect x="487" y="346" width="1" height="4"/>
<rect x="505" y="13" width="1" height="3"/>
<rect x="505" y="179" width="1" height="5"/>
<rect x="505" y="347" width="1" height="3"/>
<rect x="523" y="13" width="1" height="3"/>
<rect x="523" y="179" width="1" height="5"/>
<rect x="523" y="347" width="1" height="3"/>
<rect x="541" y="13" width="1" height="3"/>
<rect x="541" y="179" width="1" height="5"/>
<rect x="541" y="347" width="1" height="3"/>
<rect x="559" y="13" width="1" height="3"/>
<rect x="559" y="179" width="1" height="5"/>
<rect x="559" y="347" width="1" height="3"/>
<rect x="577" y="13" width="1" height="3"/>
<rect x="577" y="179" width="1" height="5"/>
<rect x="577" y="347" width="1" height="3"/>
<rect x="595" y="13" width="1" height="4"/>
<rect x="595" y="178" width="1" height="7"/>
<rect x="595" y="346" width="1" height="4"/>
<rect x="613" y="13" width="1" height="3"/>
<rect x="613" y="179" width="1" height="5"/>
<rect x="613" y="347" width="1" height="3"/>
<rect x="630" y="13" width="1" height="3"/>
<rect x="630" y="179" width="1" height="5"/>
<rect x="630" y="347" width="1" height="3"/>
<rect x="648" y="13" width="1" height="3"/>
<rect x="648" y="179" width="1" height="5"/>
<rect x="648" y="347" width="1" height="3"/>
<rect x="666" y="13" width="1" height="3"/>
<rect x="666" y="179" width="1" height="5"/>
<rect x="666" y="347" width="1" height="3"/>
<rect x="684" y="13" width="1" height="3"/>
<rect x="684" y="179" width="1" height="5"/>
<rect x="684" y="347" width="1" height="3"/>
<rect x="702" y="13" width="1" height="4"/>
<rect x="702" y="178" width="1" height="7"/>
<rect x="702" y="346" width="1" height="4"/>
<rect x="58" y="174" width="7" height="1"/>
<rect x="696" y="174" width="7" height="1"/>
<rect x="58" y="168" width="7" height="1"/>
<rect x="696" y="168" width="7" height="1"/>
<rect x="58" y="162" width="7" height="1"/>
<rect x="696" y="162" width="7" height="1"/>
<rect x="58" y="158" width="7" height="1"/>
<rect x="696" y="158" width="7" height="1"/>
<rect x="58" y="154" width="13" height="1"/>
<rect x="690" y="154" width="13" height="1"/>
<rect x="58" y="127" width="7" height="1"/>
<rect x="696" y="127" width="7" height="1"/>
<rect x="58" y="112" width="7" height="1"/>
<rect x="696" y="112" width="7" height="1"/>
<rect x="58" y="101" width="7" height="1"/>
<rect x="696" y="101" width="7" height="1"/>
<rect x="58" y="92" width="7" height="1"/>
<rect x="696" y="92" width="7" height="1"/>
<rect x="58" y="85" width="7" height="1"/>
<rect x="696" y="85" width="7" height="1"/>
<rect x="58" y="79" width="7" height="1"/>
<rect x="696" y="79" width="7" height="1"/>
<rect x="58" y="74" width="7" height="1"/>
<rect x="696" y="74" width="7" height="1"/>
<rect x="58" y="70" width="7" height="1"/>
<rect x="696" y="70" width="7" height="1"/>
<rect x="58" y="66" width="13" height="1"/>
<rect x="690" y="66" width="13" height="1"/>
<rect x="58" y="39" width="7" height="1"/>
<rect x="696" y="39" width="7" height="1"/>
<rect x="58" y="24" width="7" height="1"/>
<rect x="696" y="24" width="7" height="1"/>
<rect x="58" y="342" width="7" height="1"/>
<rect x="696" y="342" width="7" height="1"/>
<rect x="58" y="336" width="7" height="1"/>
<rect x="696" y="336" width="7" height="1"/>
<rect x="58" y="330" width="7" height="1"/>
<rect x="696" y="330" width="7" height="1"/>
<rect x="58" y="326" width="7" height="1"/>
<rect x="696" y="326" width="7" height="1"/>
<rect x="58" y="322" width="13" height="1"/>
<rect x="690" y="322" width="13" height="1"/>
<rect x="58" y="295" width="7" height="1"/>
<rect x="696" y="295" width="7" height="1"/>
<rect x="58" y="280" width="7" height="1"/>
<rect x="696" y="280" width="7" height="1"/>
<rect x="58" y="269" width="7" height="1"/>
<rect x="696" y="269" width="7" height="1"/>
<rect x="58" y="260" width="7" height="1"/>
<rect x="696" y="260" width="7" height="1"/>
<rect x="58" y="253" width="7" height="1"/>
<rect x="696" y="253" width="7" height="1"/>
<rect x="58" y="247" width="7" height="1"/>
<rect x="696" y="247" width="7" height="1"/>
<rect x="58" y="242" width="7" height="1"/>
<rect x="696" y="242" width="7" height="1"/>
<rect x="58" y="238" width="7" height="1"/>
<rect x="696" y="238" width="7" height="1"/>
<rect x="58" y="234" width="13" height="1"/>
<rect x="690" y="234" width="13" height="1"/>
<rect x="58" y="207" width="7" height="1"/>
<rect x="696" y="207" width="7" height="1"/>
<rect x="58" y="192" width="7" height="1"/>
<rect x="696" y="192" width="7" height="1"/>
<rect x="58" y="403" width="645" height="1"/>
<rect x="58" y="576" width="645" height="1"/>
<rect x="58" y="749" width="645" height="1"/>
<rect x="58" y="403" width="1" height="347"/>
<rect x="702" y="403" width="1" height="347"/>
<rect x="58" y="403" width="1" height="4"/>
<rect x="58" y="573" width="1" height="7"/>
<rect x="58" y="746" width="1" height="4"/>
<rect x="76" y="403" width="1" height="3"/>
<rect x="76" y="574" width="1" height="5"/>
<rect x="76" y="747" width="1" height="3"/>
<rect x="94" y="403" width="1" height="3"/>
<rect x="94" y="574" width="1" height="5"/>
<rect x="94" y="747" width="1" height="3"/>
<rect x="112" y="403" width="1" height="3"/>
<rect x="112" y="574" width="1" height="5"/>
<rect x="112" y="747" width="1" height="3"/>
<rect x="130" y="403" width="1" height="3"/>
<rect x="130" y="574" width="1" height="5"/>
<rect x="130" y="747" width="1" height="3"/>
<rect x="147" y="403" width="1" height="3"/>
<rect x="147" y="574" width="1" height="5"/>
<rect x="147" y="747" width="1" height="3"/>
<rect x="165" y="403" width="1" height="4"/>
<rect x="165" y="573" width="1" height="7"/>
<rect x="165" y="746" width="1" height="4"/>
<rect x="183" y="403" width="1" height="3"/>
<rect x="183" y="574" width="1" height="5"/>
<rect x="183" y="747" width="1" height="3"/>
<rect x="201" y="403" width="1" height="3"/>
<rect x="201" y="574" width="1" height="5"/>
<rect x="201" y="747" width="1" height="3"/>
<rect x="219" y="403" width="1" height="3"/>
<rect x="219" y="574" width="1" height="5"/>
<rect x="219" y="747" width="1" height="3"/>
<rect x="237" y="403" width="1" height="3"/>
<rect x="237" y="574" width="1" height="5"/>
<rect x="237" y="747" width="1" height="3"/>
<rect x="255" y="403" width="1" height="3"/>
<rect x="255" y="574" width="1" height="5"/>
<rect x="255" y="747" width="1" height="3"/>
<rect x="273" y="403" width="1" height="4"/>
<rect x="273" y="573" width="1" height="7"/>
<rect x="273" y="746" width="1" height="4"/>
<rect x="291" y="403" width="1" height="3"/>
<rect x="291" y="574" width="1" height="5"/>
<rect x="291" y="747" width="1" height="3"/>
<rect x="308" y="403" width="1" height="3"/>
<rect x="308" y="574" width="1" height="5"/>
<rect x="308" y="747" width="1" height="3"/>
<rect x="326" y="403" width="1" height="3"/>
<rect x="326" y="574" width="1" height="5"/>
<rect x="326" y="747" width="1" height="3"/>
<rect x="344" y="403" width="1" height="3"/>
<rect x="344" y="574" width="1" height="5"/>
<rect x="344" y="747" width="1" height="3"/>
<rect x="362" y="403" width="1" height="3"/>
<rect x="362" y="574" width="1" height="5"/>
<rect x="362" y="747" width="1" height="3"/>
<rect x="380" y="403" width="1" height="4"/>
<rect x="380" y="573" width="1" height="7"/>
<rect x="380" y="746" width="1" height="4"/>
<rect x="398" y="403" width="1" height="3"/>
<rect x="398" y="574" width="1" height="5"/>
<rect x="398" y="747" width="1" height="3"/>
<rect x="416" y="403" width="1" height="3"/>
<rect x="416" y="574" width="1" height="5"/>
<rect x="416" y="747" width="1" height="3"/>
<rect x="434" y="403" width="1" height="3"/>
<rect x="434" y="574" width="1" height="5"/>
<rect x="434" y="747" width="1" height="3"/>
<rect x="452" y="403" width="1" height="3"/>
<rect x="452" y="574" width="1" height="5"/>
<rect x="452" y="747" width="1" height="3"/>
<rect x="469" y="403" width="1" height="3"/>
<rect x="469" y="574" width="1" height="5"/>
<rect x="469" y="747" width="1" height="3"/>
<rect x="487" y="403" width="1" height="4"/>
<rect x="487" y="573" width="1" height="7"/>
<rect x="487" y="746" width="1" height="4"/>
<rect x="505" y="403" width="1" height="3"/>
<rect x="505" y="574" width="1" height="5"/>
<rect x="505" y="747" width="1" height="3"/>
<rect x="523" y="403" width="1" height="3"/>
<rect x="523" y="574" width="1" height="5"/>
<rect x="523" y="747" width="1" height="3"/>
<rect x="541" y="403" width="1" height="3"/>
<rect x="541" y="574" width="1" height="5"/>
<rect x="541" y="747" width="1" height="3"/>
<rect x="559" y="403" width="1" height="3"/>
<rect x="559" y="574" width="1" height="5"/>
<rect x="559" y="747" width="1" height="3"/>
<rect x="577" y="403" width="1" height="3"/>
<rect x="577" y="574" width="1" height="5"/>
<rect x="577" y="747" width="1" height="3"/>
<rect x="595" y="403" width="1" height="4"/>
<rect x="595" y="573" width="1" height="7"/>
<rect x="595" y="746" width="1" height="4"/>
<rect x="613" y="403" width="1" height="3"/>
<rect x="613" y="574" width="1" height="5"/>
<rect x="613" y="747" width="1" height="3"/>
<rect x="630" y="403" width="1" height="3"/>
<rect x="630" y="574" width="1" height="5"/>
<rect x="630" y="747" width="1" height="3"/>
<rect x="648" y="403" width="1" height="3"/>
<rect x="648" y="574" width="1" height="5"/>
<rect x="648" y="747" width="1" height="3"/>
<rect x="666" y="403" width="1" height="3"/>
<rect x="666" y="574" width="1" height="5"/>
<rect x="666" y="747" width="1" height="3"/>
<rect x="684" y="403" width="1" height="3"/>
<rect x="684" y="574" width="1" height="5"/>
<rect x="684" y="747" width="1" height="3"/>
<rect x="702" y="403" width="1" height="4"/>
<rect x="702" y="573" width="1" height="7"/>
<rect x="702" y="746" width="1" height="4"/>
<rect x="58" y="568" width="7" height="1"/>
<rect x="696" y="568" width="7" height="1"/>
<rect x="58" y="562" width="7" height="1"/>
<rect x="696" y="562" width="7" height="1"/>
<rect x="58" y="557" width="7" height="1"/>
<rect x="696" y="557" width="7" height="1"/>
<rect x="58" y="552" width="7" height="1"/>
<rect x="696" y="552" width="7" height="1"/>
<rect x="58" y="548" width="13" height="1"/>
<rect x="690" y="548" width="13" height="1"/>
<rect x="58" y="521" width="7" height="1"/>
<rect x="696" y="521" width="7" height="1"/>
<rect x="58" y="505" width="7" height="1"/>
<rect x="696" y="505" width="7" height="1"/>
<rect x="58" y="493" width="7" height="1"/>
<rect x="696" y="493" width="7" height="1"/>
<rect x="58" y="485" width="7" height="1"/>
<rect x="696" y="485" width="7" height="1"/>
<rect x="58" y="477" width="7" height="1"/>
<rect x="696" y="477" width="7" height="1"/>
<rect x="58" y="471" width="7" height="1"/>
<rect x="696" y="471" width="7" height="1"/>
<rect x="58" y="466" width="7" height="1"/>
<rect x="696" y="466" width="7" height="1"/>
<rect x="58" y="461" width="7" height="1"/>
<rect x="696" y="461" width="7" height="1"/>
<rect x="58" y="457" width="13" height="1"/>
<rect x="690" y="457" width="13" height="1"/>
<rect x="58" y="430" width="7" height="1"/>
<rect x="696" y="430" width="7" height="1"/>
<rect x="58" y="414" width="7" height="1"/>
<rect x="696" y="414" width="7" height="1"/>
<rect x="58" y="741" width="7" height="1"/>
<rect x="696" y="741" width="7" height="1"/>
<rect x="58" y="735" width="7" height="1"/>
<rect x="696" y="735" width="7" height="1"/>
<rect x="58" y="730" width="7" height="1"/>
<rect x="696" y="730" width="7" height="1"/>
<rect x="58" y="725" width="7" height="1"/>
<rect x="696" y="725" width="7" height="1"/>
<rect x="58" y="721" width="13" height="1"/>
<rect x="690" y="721" width="13" height="1"/>
<rect x="58" y="694" width="7" height="1"/>
<rect x="696" y="694" width="7" height="1"/>
<rect x="58" y="678" width="7" height="1"/>
<rect x="696" y="678" width="7" height="1"/>
<rect x="58" y="666" width="7" height="1"/>
<rect x="696" y="666" width="7" height="1"/>
<rect x="58" y="658" width="7" height="1"/>
<rect x="696" y="658" width="7" height="1"/>
<rect x="58" y="650" width="7" height="1"/>
<rect x="696" y="650" width="7" height="1"/>
<rect x="58" y="644" width="7" height="1"/>
<rect x="696" y="644" width="7" height="1"/>
<rect x="58" y="639" width="7" height="1"/>
<rect x="696" y="639" width="7" height="1"/>
<rect x="58" y="634" width="7" height="1"/>
<rect x="696" y="634" width="7" height="1"/>
<rect x="58" y="630" width="13" height="1"/>
<rect x="690" y="630" width="13" height="1"/>
<rect x="58" y="603" width="7" height="1"/>
<rect x="696" y="603" width="7" height="1"/>
<rect x="58" y="587" width="7" height="1"/>
<rect x="696" y="587" width="7" height="1"/>
<rect x="58" y="803" width="645" height="1"/>
<rect x="58" y="968" width="645" height="1"/>
<rect x="58" y="1134" width="645" height="1"/>
<rect x="58" y="803" width="1" height="332"/>
<rect x="702" y="803" width="1" height="332"/>
<rect x="58" y="803" width="1" height="4"/>
<rect x="58" y="965" width="1" height="7"/>
<rect x="58" y="1131" width="1" height="4"/>
<rect x="76" y="803" width="1" height="3"/>
<rect x="76" y="966" width="1" height="5"/>
<rect x="76" y="1132" width="1" height="3"/>
<rect x="94" y="803" width="1" height="3"/>
<rect x="94" y="966" width="1" height="5"/>
<rect x="94" y="1132" width="1" height="3"/>
<rect x="112" y="803" width="1" height="3"/>
<rect x="112" y="966" width="1" height="5"/>
<rect x="112" y="1132" width="1" height="3"/>
<rect x="130" y="803" width="1" height="3"/>
<rect x="130" y="966" width="1" height="5"/>
<rect x="130" y="1132" width="1" height="3"/>
<rect x="147" y="803" width="1" height="3"/>
<rect x="147" y="966" width="1" height="5"/>
<rect x="147" y="1132" width="1" height="3"/>
<rect x="165" y="803" width="1" height="4"/>
<rect x="165" y="965" width="1" height="7"/>
<rect x="165" y="1131" width="1" height="4"/>
<rect x="183" y="803" width="1" height="3"/>
<rect x="183" y="966" width="1" height="5"/>
<rect x="183" y="1132" width="1" height="3"/>
<rect x="201" y="803" width="1" height="3"/>
<rect x="201" y="966" width="1" height="5"/>
<rect x="201" y="1132" width="1" height="3"/>
<rect x="219" y="803" width="1" height="3"/>
<rect x="219" y="966" width="1" height="5"/>
<rect x="219" y="1132" width="1" height="3"/>
<rect x="237" y="803" width="1" height="3"/>
<rect x="237" y="966" width="1" height="5"/>
<rect x="237" y="1132" width="1" height="3"/>
<rect x="255" y="803" width="1" height="3"/>
<rect x="255" y="966" width="1" height="5"/>
<rect x="255" y="1132" width="1" height="3"/>
<rect x="273" y="803" width="1" height="4"/>
<rect x="273" y="965" width="1" height="7"/>
<rect x="273" y="1131" width="1" height="4"/>
<rect x="291" y="803" width="1" height="3"/>
<rect x="291" y="966" width="1" height="5"/>
<rect x="291" y="1132" width="1" height="3"/>
<rect x="308" y="803" width="1" height="3"/>
<rect x="308" y="966" width="1" height="5"/>
<rect x="308" y="1132" width="1" height="3"/>
<rect x="326" y="803" width="1" height="3"/>
<rect x="326" y="966" width="1" height="5"/>
<rect x="326" y="1132" width="1" height="3"/>
<rect x="344" y="803" width="1" height="3"/>
<rect x="344" y="966" width="1" height="5"/>
<rect x="344" y="1132" width="1" height="3"/>
<rect x="362" y="803" width="1" height="3"/>
<rect x="362" y="966" width="1" height="5"/>
<rect x="362" y="1132" width="1" height="3"/>
<rect x="380" y="803" width="1" height="4"/>
<rect x="380" y="965" width="1" height="7"/>
<rect x="380" y="1131" width="1" height="4"/>
<rect x="398" y="803" width="1" height="3"/>
<rect x="398" y="966" width="1" height="5"/>
<rect x="398" y="1132" width="1" height="3"/>
<rect x="416" y="803" width="1" height="3"/>
<rect x="416" y="966" width="1" height="5"/>
<rect x="416" y="1132" width="1" height="3"/>
<rect x="434" y="803" width="1" height="3"/>
<rect x="434" y="966" width="1" height="5"/>
<rect x="434" y="1132" width="1" height="3"/>
<rect x="452" y="803" width="1" height="3"/>
<rect x="452" y="966" width="1" height="5"/>
<rect x="452" y="1132" width="1" height="3"/>
<rect x="469" y="803" width="1" height="3"/>
<rect x="469" y="966" width="1" height="5"/>
<rect x="469" y="1132" width="1" height="3"/>
<rect x="487" y="803" width="1" height="4"/>
<rect x="487" y="965" width="1" height="7"/>
<rect x="487" y="1131" width="1" height="4"/>
<rect x="505" y="803" width="1" height="3"/>
<rect x="505" y="966" width="1" height="5"/>
<rect x="505" y="1132" width="1" height="3"/>
<rect x="523" y="803" width="1" height="3"/>
<rect x="523" y="966" width="1" height="5"/>
<rect x="523" y="1132" width="1" height="3"/>
<rect x="541" y="803" width="1" height="3"/>
<rect x="541" y="966" width="1" height="5"/>
<rect x="541" y="1132" width="1" height="3"/>
<rect x="559" y="803" width="1" height="3"/>
<rect x="559" y="966" width="1" height="5"/>
<rect x="559" y="1132" width="1" height="3"/>
<rect x="577" y="803" width="1" height="3"/>
<rect x="577" y="966" width="1" height="5"/>
<rect x="577" y="1132" width="1" height="3"/>
<rect x="595" y="803" width="1" height="4"/>
<rect x="595" y="965" width="1" height="7"/>
<rect x="595" y="1131" width="1" height="4"/>
<rect x="613" y="803" width="1" height="3"/>
<rect x="613" y="966" width="1" height="5"/>
<rect x="613" y="1132" width="1" height="3"/>
<rect x="630" y="803" width="1" height="3"/>
<rect x="630" y="966" width="1" height="5"/>
<rect x="630" y="1132" width="1" height="3"/>
<rect x="648" y="803" width="1" height="3"/>
<rect x="648" y="966" width="1" height="5"/>
<rect x="648" y="1132" width="1" height="3"/>
<rect x="666" y="803" width="1" height="3"/>
<rect x="666" y="966" width="1" height="5"/>
<rect x="666" y="1132" width="1" height="3"/>
<rect x="684" y="803" width="1" height="3"/>
<rect x="684" y="966" width="1" height="5"/>
<rect x="684" y="1132" width="1" height="3"/>
<rect x="702" y="803" width="1" height="4"/>
<rect x="702" y="965" width="1" height="7"/>
<rect x="702" y="1131" width="1" height="4"/>
<rect x="58" y="961" width="7" height="1"/>
<rect x="696" y="961" width="7" height="1"/>
<rect x="58" y="955" width="7" height="1"/>
<rect x="696" y="955" width="7" height="1"/>
<rect x="58" y="950" width="7" height="1"/>
<rect x="696" y="950" width="7" height="1"/>
<rect x="58" y="946" width="7" height="1"/>
<rect x="696" y="946" width="7" height="1"/>
<rect x="58" y="942" width="13" height="1"/>
<rect x="690" y="942" width="13" height="1"/>
<rect x="58" y="916" width="7" height="1"/>
<rect x="696" y="916" width="7" height="1"/>
<rect x="58" y="900" width="7" height="1"/>
<rect x="696" y="900" width="7" height="1"/>
<rect x="58" y="889" width="7" height="1"/>
<rect x="696" y="889" width="7" height="1"/>
<rect x="58" y="881" width="7" height="1"/>
<rect x="696" y="881" width="7" height="1"/>
<rect x="58" y="874" width="7" height="1"/>
<rect x="696" y="874" width="7" height="1"/>
<rect x="58" y="868" width="7" height="1"/>
<rect x="696" y="868" width="7" height="1"/>
<rect x="58" y="863" width="7" height="1"/>
<rect x="696" y="863" width="7" height="1"/>
<rect x="58" y="859" width="7" height="1"/>
<rect x="696" y="859" width="7" height="1"/>
<rect x="58" y="855" width="13" height="1"/>
<rect x="690" y="855" width="13" height="1"/>
<rect x="58" y="829" width="7" height="1"/>
<rect x="696" y="829" width="7" height="1"/>
<rect x="58" y="813" width="7" height="1"/>
<rect x="696" y="813" width="7" height="1"/>
<rect x="58" y="1127" width="7" height="1"/>
<rect x="696" y="1127" width="7" height="1"/>
<rect x="58" y="1121" width="7" height="1"/>
<rect x="696" y="1121" width="7" height="1"/>
<rect x="58" y="1116" width="7" height="1"/>
<rect x="696" y="1116" width="7" height="1"/>
<rect x="58" y="1111" width="7" height="1"/>
<rect x="696" y="1111" width="7" height="1"/>
<rect x="58" y="1107" width="13" height="1"/>
<rect x="690" y="1107" width="13" height="1"/>
<rect x="58" y="1081" width="7" height="1"/>
<rect x="696" y="1081" width="7" height="1"/>
<rect x="58" y="1066" width="7" height="1"/>
<rect x="696" y="1066" width="7" height="1"/>
<rect x="58" y="1055" width="7" height="1"/>
<rect x="696" y="1055" width="7" height="1"/>
<rect x="58" y="1047" width="7" height="1"/>
<rect x="696" y="1047" width="7" height="1"/>
<rect x="58" y="1040" width="7" height="1"/>
<rect x="696" y="1040" width="7" height="1"/>
<rect x="58" y="1034" width="7" height="1"/>
<rect x="696" y="1034" width="7" height="1"/>
<rect x="58" y="1029" width="7" height="1"/>
<rect x="696" y="1029" width="7" height="1"/>
<rect x="58" y="1024" width="7" height="1"/>
<rect x="696" y="1024" width="7" height="1"/>
<rect x="58" y="1020" width="13" height="1"/>
<rect x="690" y="1020" width="13" height="1"/>
<rect x="58" y="994" width="7" height="1"/>
<rect x="696" y="994" width="7" height="1"/>
<rect x="58" y="979" width="7" height="1"/>
<rect x="696" y="979" width="7" height="1"/>
</g>
<g font-family='"Liberation Sans", "DejaVu Sans", sans-serif' fill="#000" stroke="#000" stroke-width="0.25">
<text x="380" y="10" font-size="11" text-anchor="middle" textLength="250" lengthAdjust="spacingAndGlyphs">THEMIS(THA,THD,THE) FGE Wave Survey Plot (Log)</text>
<text x="5" y="360.2" font-size="9" text-anchor="start" textLength="39.2" lengthAdjust="spacingAndGlyphs">X_RE_GSE</text>
<text x="58" y="360.2" font-size="9" text-anchor="middle" textLength="11.7" lengthAdjust="spacingAndGlyphs">1.2</text>
<text x="165.33" y="360.2" font-size="9" text-anchor="middle" textLength="18" lengthAdjust="spacingAndGlyphs">−0.4</text>
<text x="272.67" y="360.2" font-size="9" text-anchor="middle" textLength="17.3" lengthAdjust="spacingAndGlyphs">−1.2</text>
<text x="380" y="360.2" font-size="9" text-anchor="middle" textLength="12.4" lengthAdjust="spacingAndGlyphs">2.5</text>
<text x="487.33" y="360.2" font-size="9" text-anchor="middle" textLength="12.4" lengthAdjust="spacingAndGlyphs">5.0</text>
<text x="594.67" y="360.2" font-size="9" text-anchor="middle" textLength="12.4" lengthAdjust="spacingAndGlyphs">6.7</text>
<text x="702" y="360.2" font-size="9" text-anchor="middle" textLength="12.4" lengthAdjust="spacingAndGlyphs">8.0</text>
<text x="5" y="367.45" font-size="9" text-anchor="start" textLength="39.2" lengthAdjust="spacingAndGlyphs">Y_RE_GSE</text>
<text x="58" y="367.45" font-size="9" text-anchor="middle" textLength="12.4" lengthAdjust="spacingAndGlyphs">5.5</text>
<text x="165.33" y="367.45" font-size="9" text-anchor="middle" textLength="12.4" lengthAdjust="spacingAndGlyphs">3.6</text>
<text x="272.67" y="367.45" font-size="9" text-anchor="middle" textLength="17.3" lengthAdjust="spacingAndGlyphs">−0.1</text>
<text x="380" y="367.45" font-size="9" text-anchor="middle" textLength="17.3" lengthAdjust="spacingAndGlyphs">−1.7</text>
<text x="487.33" y="367.45" font-size="9" text-anchor="middle" textLength="18" lengthAdjust="spacingAndGlyphs">−0.9</text>
<text x="594.67" y="367.45" font-size="9" text-anchor="middle" textLength="18" lengthAdjust="spacingAndGlyphs">−0.0</text>
<text x="702" y="367.45" font-size="9" text-anchor="middle" textLength="12.4" lengthAdjust="spacingAndGlyphs">0.9</text>
<text x="5" y="374.7" font-size="9" text-anchor="start" textLength="39.2" lengthAdjust="spacingAndGlyphs">Z_RE_GSE</text>
<text x="58" y="374.7" font-size="9" text-anchor="middle" textLength="12.4" lengthAdjust="spacingAndGlyphs">0.0</text>
<text x="165.33" y="374.7" font-size="9" text-anchor="middle" textLength="17.3" lengthAdjust="spacingAndGlyphs">−0.1</text>
<text x="272.67" y="374.7" font-size="9" text-anchor="middle" textLength="18" lengthAdjust="spacingAndGlyphs">−0.2</text>
<text x="380" y="374.7" font-size="9" text-anchor="middle" textLength="12.4" lengthAdjust="spacingAndGlyphs">0.4</text>
<text x="487.33" y="374.7" font-size="9" text-anchor="middle" textLength="12.4" lengthAdjust="spacingAndGlyphs">0.7</text>
<text x="594.67" y="374.7" font-size="9" text-anchor="middle" textLength="12.4" lengthAdjust="spacingAndGlyphs">0.9</text>
<text x="702" y="374.7" font-size="9" text-anchor="middle" textLength="11.7" lengthAdjust="spacingAndGlyphs">1.0</text>
<text x="5" y="381.95" font-size="9" text-anchor="start" textLength="34.3" lengthAdjust="spacingAndGlyphs">MLAT_SM</text>
<text x="58" y="381.95" font-size="9" text-anchor="middle" textLength="12.4" lengthAdjust="spacingAndGlyphs">3.4</text>
<text x="165.33" y="381.95" font-size="9" text-anchor="middle" textLength="12.4" lengthAdjust="spacingAndGlyphs">7.9</text>
<text x="272.67" y="381.95" font-size="9" text-anchor="middle" textLength="12.4" lengthAdjust="spacingAndGlyphs">6.9</text>
<text x="380" y="381.95" font-size="9" text-anchor="middle" textLength="22.2" lengthAdjust="spacingAndGlyphs">−15.2</text>
<text x="487.33" y="381.95" font-size="9" text-anchor="middle" textLength="22.2" lengthAdjust="spacingAndGlyphs">−15.3</text>
<text x="594.67" y="381.95" font-size="9" text-anchor="middle" textLength="22.2" lengthAdjust="spacingAndGlyphs">−15.8</text>
<text x="702" y="381.95" font-size="9" text-anchor="middle" textLength="22.2" lengthAdjust="spacingAndGlyphs">−16.6</text>
<text x="5" y="389.2" font-size="9" text-anchor="start" textLength="29.4" lengthAdjust="spacingAndGlyphs">MLT_SM</text>
<text x="58" y="389.2" font-size="9" text-anchor="middle" textLength="15.9" lengthAdjust="spacingAndGlyphs">17.1</text>
<text x="165.33" y="389.2" font-size="9" text-anchor="middle" textLength="16.6" lengthAdjust="spacingAndGlyphs">18.3</text>
<text x="272.67" y="389.2" font-size="9" text-anchor="middle" textLength="11.7" lengthAdjust="spacingAndGlyphs">0.1</text>
<text x="380" y="389.2" font-size="9" text-anchor="middle" textLength="12.4" lengthAdjust="spacingAndGlyphs">9.8</text>
<text x="487.33" y="389.2" font-size="9" text-anchor="middle" textLength="15.9" lengthAdjust="spacingAndGlyphs">11.2</text>
<text x="594.67" y="389.2" font-size="9" text-anchor="middle" textLength="15.9" lengthAdjust="spacingAndGlyphs">11.9</text>
<text x="702" y="389.2" font-size="9" text-anchor="middle" textLength="16.6" lengthAdjust="spacingAndGlyphs">12.3</text>
<text x="5" y="396.45" font-size="9" text-anchor="start" textLength="34.3" lengthAdjust="spacingAndGlyphs">R_RE_SM</text>
<text x="58" y="396.45" font-size="9" text-anchor="middle" textLength="12.4" lengthAdjust="spacingAndGlyphs">5.6</text>
<text x="165.33" y="396.45" font-size="9" text-anchor="middle" textLength="12.4" lengthAdjust="spacingAndGlyphs">3.8</text>
<text x="272.67" y="396.45" font-size="9" text-anchor="middle" textLength="11.7" lengthAdjust="spacingAndGlyphs">1.3</text>
<text x="380" y="396.45" font-size="9" text-anchor="middle" textLength="12.4" lengthAdjust="spacingAndGlyphs">3.0</text>
<text x="487.33" y="396.45" font-size="9" text-anchor="middle" textLength="11.7" lengthAdjust="spacingAndGlyphs">5.1</text>
<text x="594.67" y="396.45" font-size="9" text-anchor="middle" textLength="12.4" lengthAdjust="spacingAndGlyphs">6.8</text>
<text x="702" y="396.45" font-size="9" text-anchor="middle" textLength="11.7" lengthAdjust="spacingAndGlyphs">8.1</text>
<text transform="translate(21.3,98) rotate(-90)" font-size="9" text-anchor="middle" textLength="30" lengthAdjust="spacingAndGlyphs">THA B⊥</text>
<text transform="translate(36.5,99) rotate(-90)" font-size="9" text-anchor="middle" textLength="34" lengthAdjust="spacingAndGlyphs">freq [Hz]</text>
<text transform="translate(741,98) rotate(-90)" font-size="9" text-anchor="middle" textLength="53" lengthAdjust="spacingAndGlyphs">PSD [nT<tspan font-size="6.5" dy="-3">2</tspan><tspan dy="3">/Hz]</tspan></text>
<text x="55.5" y="69.45" font-size="9" text-anchor="end" textLength="11.5" lengthAdjust="spacingAndGlyphs">1.0</text>
<text x="55.5" y="157.73" font-size="9" text-anchor="end" textLength="11.5" lengthAdjust="spacingAndGlyphs">0.1</text>
<text x="714.5" y="47" font-size="9">10<tspan font-size="6.5" dy="-3.5">0</tspan></text>
<text x="714.5" y="89" font-size="9">10<tspan font-size="6.5" dy="-3.5">−2</tspan></text>
<text x="714.5" y="131" font-size="9">10<tspan font-size="6.5" dy="-3.5">−4</tspan></text>
<text x="714.5" y="173" font-size="9">10<tspan font-size="6.5" dy="-3.5">−6</tspan></text>
<text transform="translate(21.3,266) rotate(-90)" font-size="9" text-anchor="middle" textLength="28" lengthAdjust="spacingAndGlyphs">THA B∥</text>
<text transform="translate(36.5,267) rotate(-90)" font-size="9" text-anchor="middle" textLength="34" lengthAdjust="spacingAndGlyphs">freq [Hz]</text>
<text transform="translate(741,266) rotate(-90)" font-size="9" text-anchor="middle" textLength="53" lengthAdjust="spacingAndGlyphs">PSD [nT<tspan font-size="6.5" dy="-3">2</tspan><tspan dy="3">/Hz]</tspan></text>
<text x="55.5" y="237.45" font-size="9" text-anchor="end" textLength="11.5" lengthAdjust="spacingAndGlyphs">1.0</text>
<text x="55.5" y="325.73" font-size="9" text-anchor="end" textLength="11.5" lengthAdjust="spacingAndGlyphs">0.1</text>
<text x="714.5" y="215" font-size="9">10<tspan font-size="6.5" dy="-3.5">0</tspan></text>
<text x="714.5" y="257" font-size="9">10<tspan font-size="6.5" dy="-3.5">−2</tspan></text>
<text x="714.5" y="299" font-size="9">10<tspan font-size="6.5" dy="-3.5">−4</tspan></text>
<text x="714.5" y="341" font-size="9">10<tspan font-size="6.5" dy="-3.5">−6</tspan></text>
<text x="5" y="760.2" font-size="9" text-anchor="start" textLength="39.2" lengthAdjust="spacingAndGlyphs">X_RE_GSE</text>
<text x="58" y="760.2" font-size="9" text-anchor="middle" textLength="17.3" lengthAdjust="spacingAndGlyphs">−0.1</text>
<text x="165.33" y="760.2" font-size="9" text-anchor="middle" textLength="17.3" lengthAdjust="spacingAndGlyphs">−1.4</text>
<text x="272.67" y="760.2" font-size="9" text-anchor="middle" textLength="11.7" lengthAdjust="spacingAndGlyphs">1.4</text>
<text x="380" y="760.2" font-size="9" text-anchor="middle" textLength="12.4" lengthAdjust="spacingAndGlyphs">4.3</text>
<text x="487.33" y="760.2" font-size="9" text-anchor="middle" textLength="11.7" lengthAdjust="spacingAndGlyphs">6.1</text>
<text x="594.67" y="760.2" font-size="9" text-anchor="middle" textLength="12.4" lengthAdjust="spacingAndGlyphs">7.5</text>
<text x="702" y="760.2" font-size="9" text-anchor="middle" textLength="12.4" lengthAdjust="spacingAndGlyphs">8.5</text>
<text x="5" y="767.45" font-size="9" text-anchor="start" textLength="39.2" lengthAdjust="spacingAndGlyphs">Y_RE_GSE</text>
<text x="58" y="767.45" font-size="9" text-anchor="middle" textLength="12.4" lengthAdjust="spacingAndGlyphs">4.3</text>
<text x="165.33" y="767.45" font-size="9" text-anchor="middle" textLength="11.7" lengthAdjust="spacingAndGlyphs">1.4</text>
<text x="272.67" y="767.45" font-size="9" text-anchor="middle" textLength="17.3" lengthAdjust="spacingAndGlyphs">−1.7</text>
<text x="380" y="767.45" font-size="9" text-anchor="middle" textLength="16.6" lengthAdjust="spacingAndGlyphs">−1.1</text>
<text x="487.33" y="767.45" font-size="9" text-anchor="middle" textLength="17.3" lengthAdjust="spacingAndGlyphs">−0.1</text>
<text x="594.67" y="767.45" font-size="9" text-anchor="middle" textLength="11.7" lengthAdjust="spacingAndGlyphs">1.0</text>
<text x="702" y="767.45" font-size="9" text-anchor="middle" textLength="12.4" lengthAdjust="spacingAndGlyphs">2.0</text>
<text x="5" y="774.7" font-size="9" text-anchor="start" textLength="39.2" lengthAdjust="spacingAndGlyphs">Z_RE_GSE</text>
<text x="58" y="774.7" font-size="9" text-anchor="middle" textLength="12.4" lengthAdjust="spacingAndGlyphs">0.0</text>
<text x="165.33" y="774.7" font-size="9" text-anchor="middle" textLength="18" lengthAdjust="spacingAndGlyphs">−0.3</text>
<text x="272.67" y="774.7" font-size="9" text-anchor="middle" textLength="12.4" lengthAdjust="spacingAndGlyphs">0.3</text>
<text x="380" y="774.7" font-size="9" text-anchor="middle" textLength="12.4" lengthAdjust="spacingAndGlyphs">0.8</text>
<text x="487.33" y="774.7" font-size="9" text-anchor="middle" textLength="11.7" lengthAdjust="spacingAndGlyphs">1.3</text>
<text x="594.67" y="774.7" font-size="9" text-anchor="middle" textLength="11.7" lengthAdjust="spacingAndGlyphs">1.5</text>
<text x="702" y="774.7" font-size="9" text-anchor="middle" textLength="11.7" lengthAdjust="spacingAndGlyphs">1.8</text>
<text x="5" y="781.95" font-size="9" text-anchor="start" textLength="34.3" lengthAdjust="spacingAndGlyphs">MLAT_SM</text>
<text x="58" y="781.95" font-size="9" text-anchor="middle" textLength="12.4" lengthAdjust="spacingAndGlyphs">6.8</text>
<text x="165.33" y="781.95" font-size="9" text-anchor="middle" textLength="12.4" lengthAdjust="spacingAndGlyphs">9.0</text>
<text x="272.67" y="781.95" font-size="9" text-anchor="middle" textLength="21.5" lengthAdjust="spacingAndGlyphs">−11.7</text>
<text x="380" y="781.95" font-size="9" text-anchor="middle" textLength="18" lengthAdjust="spacingAndGlyphs">−9.9</text>
<text x="487.33" y="781.95" font-size="9" text-anchor="middle" textLength="18" lengthAdjust="spacingAndGlyphs">−9.6</text>
<text x="594.67" y="781.95" font-size="9" text-anchor="middle" textLength="21.5" lengthAdjust="spacingAndGlyphs">−10.1</text>
<text x="702" y="781.95" font-size="9" text-anchor="middle" textLength="20.8" lengthAdjust="spacingAndGlyphs">−11.1</text>
<text x="5" y="789.2" font-size="9" text-anchor="start" textLength="29.4" lengthAdjust="spacingAndGlyphs">MLT_SM</text>
<text x="58" y="789.2" font-size="9" text-anchor="middle" textLength="16.6" lengthAdjust="spacingAndGlyphs">16.0</text>
<text x="165.33" y="789.2" font-size="9" text-anchor="middle" textLength="17.3" lengthAdjust="spacingAndGlyphs">20.6</text>
<text x="272.67" y="789.2" font-size="9" text-anchor="middle" textLength="12.4" lengthAdjust="spacingAndGlyphs">8.4</text>
<text x="380" y="789.2" font-size="9" text-anchor="middle" textLength="16.6" lengthAdjust="spacingAndGlyphs">10.9</text>
<text x="487.33" y="789.2" font-size="9" text-anchor="middle" textLength="15.9" lengthAdjust="spacingAndGlyphs">11.8</text>
<text x="594.67" y="789.2" font-size="9" text-anchor="middle" textLength="16.6" lengthAdjust="spacingAndGlyphs">12.3</text>
<text x="702" y="789.2" font-size="9" text-anchor="middle" textLength="16.6" lengthAdjust="spacingAndGlyphs">12.7</text>
<text x="5" y="796.45" font-size="9" text-anchor="start" textLength="34.3" lengthAdjust="spacingAndGlyphs">R_RE_SM</text>
<text x="58" y="796.45" font-size="9" text-anchor="middle" textLength="12.4" lengthAdjust="spacingAndGlyphs">4.3</text>
<text x="165.33" y="796.45" font-size="9" text-anchor="middle" textLength="12.4" lengthAdjust="spacingAndGlyphs">2.0</text>
<text x="272.67" y="796.45" font-size="9" text-anchor="middle" textLength="12.4" lengthAdjust="spacingAndGlyphs">2.2</text>
<text x="380" y="796.45" font-size="9" text-anchor="middle" textLength="12.4" lengthAdjust="spacingAndGlyphs">4.5</text>
<text x="487.33" y="796.45" font-size="9" text-anchor="middle" textLength="12.4" lengthAdjust="spacingAndGlyphs">6.3</text>
<text x="594.67" y="796.45" font-size="9" text-anchor="middle" textLength="12.4" lengthAdjust="spacingAndGlyphs">7.7</text>
<text x="702" y="796.45" font-size="9" text-anchor="middle" textLength="12.4" lengthAdjust="spacingAndGlyphs">8.9</text>
<text transform="translate(21.3,490.5) rotate(-90)" font-size="9" text-anchor="middle" textLength="30" lengthAdjust="spacingAndGlyphs">THD B⊥</text>
<text transform="translate(36.5,491.5) rotate(-90)" font-size="9" text-anchor="middle" textLength="34" lengthAdjust="spacingAndGlyphs">freq [Hz]</text>
<text transform="translate(741,490.5) rotate(-90)" font-size="9" text-anchor="middle" textLength="53" lengthAdjust="spacingAndGlyphs">PSD [nT<tspan font-size="6.5" dy="-3">2</tspan><tspan dy="3">/Hz]</tspan></text>
<text x="55.5" y="461.03" font-size="9" text-anchor="end" textLength="11.5" lengthAdjust="spacingAndGlyphs">1.0</text>
<text x="55.5" y="551.93" font-size="9" text-anchor="end" textLength="11.5" lengthAdjust="spacingAndGlyphs">0.1</text>
<text x="714.5" y="437.89" font-size="9">10<tspan font-size="6.5" dy="-3.5">0</tspan></text>
<text x="714.5" y="481.14" font-size="9">10<tspan font-size="6.5" dy="-3.5">−2</tspan></text>
<text x="714.5" y="524.39" font-size="9">10<tspan font-size="6.5" dy="-3.5">−4</tspan></text>
<text x="714.5" y="567.64" font-size="9">10<tspan font-size="6.5" dy="-3.5">−6</tspan></text>
<text transform="translate(21.3,663.5) rotate(-90)" font-size="9" text-anchor="middle" textLength="28" lengthAdjust="spacingAndGlyphs">THD B∥</text>
<text transform="translate(36.5,664.5) rotate(-90)" font-size="9" text-anchor="middle" textLength="34" lengthAdjust="spacingAndGlyphs">freq [Hz]</text>
<text transform="translate(741,663.5) rotate(-90)" font-size="9" text-anchor="middle" textLength="53" lengthAdjust="spacingAndGlyphs">PSD [nT<tspan font-size="6.5" dy="-3">2</tspan><tspan dy="3">/Hz]</tspan></text>
<text x="55.5" y="634.03" font-size="9" text-anchor="end" textLength="11.5" lengthAdjust="spacingAndGlyphs">1.0</text>
<text x="55.5" y="724.93" font-size="9" text-anchor="end" textLength="11.5" lengthAdjust="spacingAndGlyphs">0.1</text>
<text x="714.5" y="610.89" font-size="9">10<tspan font-size="6.5" dy="-3.5">0</tspan></text>
<text x="714.5" y="654.14" font-size="9">10<tspan font-size="6.5" dy="-3.5">−2</tspan></text>
<text x="714.5" y="697.39" font-size="9">10<tspan font-size="6.5" dy="-3.5">−4</tspan></text>
<text x="714.5" y="740.64" font-size="9">10<tspan font-size="6.5" dy="-3.5">−6</tspan></text>
<text x="5" y="1145.2" font-size="9" text-anchor="start" textLength="39.2" lengthAdjust="spacingAndGlyphs">X_RE_GSE</text>
<text x="58" y="1145.2" font-size="9" text-anchor="middle" textLength="11.7" lengthAdjust="spacingAndGlyphs">1.0</text>
<text x="165.33" y="1145.2" font-size="9" text-anchor="middle" textLength="18" lengthAdjust="spacingAndGlyphs">−0.3</text>
<text x="272.67" y="1145.2" font-size="9" text-anchor="middle" textLength="17.3" lengthAdjust="spacingAndGlyphs">−1.4</text>
<text x="380" y="1145.2" font-size="9" text-anchor="middle" textLength="11.7" lengthAdjust="spacingAndGlyphs">1.5</text>
<text x="487.33" y="1145.2" font-size="9" text-anchor="middle" textLength="12.4" lengthAdjust="spacingAndGlyphs">4.3</text>
<text x="594.67" y="1145.2" font-size="9" text-anchor="middle" textLength="12.4" lengthAdjust="spacingAndGlyphs">6.2</text>
<text x="702" y="1145.2" font-size="9" text-anchor="middle" textLength="12.4" lengthAdjust="spacingAndGlyphs">7.5</text>
<text x="5" y="1152.45" font-size="9" text-anchor="start" textLength="39.2" lengthAdjust="spacingAndGlyphs">Y_RE_GSE</text>
<text x="58" y="1152.45" font-size="9" text-anchor="middle" textLength="12.4" lengthAdjust="spacingAndGlyphs">6.0</text>
<text x="165.33" y="1152.45" font-size="9" text-anchor="middle" textLength="12.4" lengthAdjust="spacingAndGlyphs">4.2</text>
<text x="272.67" y="1152.45" font-size="9" text-anchor="middle" textLength="11.7" lengthAdjust="spacingAndGlyphs">1.3</text>
<text x="380" y="1152.45" font-size="9" text-anchor="middle" textLength="17.3" lengthAdjust="spacingAndGlyphs">−1.7</text>
<text x="487.33" y="1152.45" font-size="9" text-anchor="middle" textLength="18" lengthAdjust="spacingAndGlyphs">−0.9</text>
<text x="594.67" y="1152.45" font-size="9" text-anchor="middle" textLength="12.4" lengthAdjust="spacingAndGlyphs">0.2</text>
<text x="702" y="1152.45" font-size="9" text-anchor="middle" textLength="11.7" lengthAdjust="spacingAndGlyphs">1.3</text>
<text x="5" y="1159.7" font-size="9" text-anchor="start" textLength="39.2" lengthAdjust="spacingAndGlyphs">Z_RE_GSE</text>
<text x="58" y="1159.7" font-size="9" text-anchor="middle" textLength="18" lengthAdjust="spacingAndGlyphs">−0.0</text>
<text x="165.33" y="1159.7" font-size="9" text-anchor="middle" textLength="18" lengthAdjust="spacingAndGlyphs">−0.2</text>
<text x="272.67" y="1159.7" font-size="9" text-anchor="middle" textLength="18" lengthAdjust="spacingAndGlyphs">−0.3</text>
<text x="380" y="1159.7" font-size="9" text-anchor="middle" textLength="12.4" lengthAdjust="spacingAndGlyphs">0.3</text>
<text x="487.33" y="1159.7" font-size="9" text-anchor="middle" textLength="12.4" lengthAdjust="spacingAndGlyphs">0.9</text>
<text x="594.67" y="1159.7" font-size="9" text-anchor="middle" textLength="11.7" lengthAdjust="spacingAndGlyphs">1.2</text>
<text x="702" y="1159.7" font-size="9" text-anchor="middle" textLength="11.7" lengthAdjust="spacingAndGlyphs">1.4</text>
<text x="5" y="1166.95" font-size="9" text-anchor="start" textLength="34.3" lengthAdjust="spacingAndGlyphs">MLAT_SM</text>
<text x="58" y="1166.95" font-size="9" text-anchor="middle" textLength="12.4" lengthAdjust="spacingAndGlyphs">3.6</text>
<text x="165.33" y="1166.95" font-size="9" text-anchor="middle" textLength="12.4" lengthAdjust="spacingAndGlyphs">6.8</text>
<text x="272.67" y="1166.95" font-size="9" text-anchor="middle" textLength="15.9" lengthAdjust="spacingAndGlyphs">10.1</text>
<text x="380" y="1166.95" font-size="9" text-anchor="middle" textLength="22.2" lengthAdjust="spacingAndGlyphs">−12.7</text>
<text x="487.33" y="1166.95" font-size="9" text-anchor="middle" textLength="22.2" lengthAdjust="spacingAndGlyphs">−12.2</text>
<text x="594.67" y="1166.95" font-size="9" text-anchor="middle" textLength="22.2" lengthAdjust="spacingAndGlyphs">−12.3</text>
<text x="702" y="1166.95" font-size="9" text-anchor="middle" textLength="21.5" lengthAdjust="spacingAndGlyphs">−13.1</text>
<text x="5" y="1174.2" font-size="9" text-anchor="start" textLength="29.4" lengthAdjust="spacingAndGlyphs">MLT_SM</text>
<text x="58" y="1174.2" font-size="9" text-anchor="middle" textLength="16.6" lengthAdjust="spacingAndGlyphs">17.3</text>
<text x="165.33" y="1174.2" font-size="9" text-anchor="middle" textLength="16.6" lengthAdjust="spacingAndGlyphs">18.2</text>
<text x="272.67" y="1174.2" font-size="9" text-anchor="middle" textLength="15.9" lengthAdjust="spacingAndGlyphs">21.1</text>
<text x="380" y="1174.2" font-size="9" text-anchor="middle" textLength="12.4" lengthAdjust="spacingAndGlyphs">8.6</text>
<text x="487.33" y="1174.2" font-size="9" text-anchor="middle" textLength="15.2" lengthAdjust="spacingAndGlyphs">11.1</text>
<text x="594.67" y="1174.2" font-size="9" text-anchor="middle" textLength="15.9" lengthAdjust="spacingAndGlyphs">11.9</text>
<text x="702" y="1174.2" font-size="9" text-anchor="middle" textLength="16.6" lengthAdjust="spacingAndGlyphs">12.5</text>
<text x="5" y="1181.45" font-size="9" text-anchor="start" textLength="34.3" lengthAdjust="spacingAndGlyphs">R_RE_SM</text>
<text x="58" y="1181.45" font-size="9" text-anchor="middle" textLength="11.7" lengthAdjust="spacingAndGlyphs">6.1</text>
<text x="165.33" y="1181.45" font-size="9" text-anchor="middle" textLength="12.4" lengthAdjust="spacingAndGlyphs">4.3</text>
<text x="272.67" y="1181.45" font-size="9" text-anchor="middle" textLength="11.7" lengthAdjust="spacingAndGlyphs">1.9</text>
<text x="380" y="1181.45" font-size="9" text-anchor="middle" textLength="12.4" lengthAdjust="spacingAndGlyphs">2.3</text>
<text x="487.33" y="1181.45" font-size="9" text-anchor="middle" textLength="12.4" lengthAdjust="spacingAndGlyphs">4.5</text>
<text x="594.67" y="1181.45" font-size="9" text-anchor="middle" textLength="12.4" lengthAdjust="spacingAndGlyphs">6.3</text>
<text x="702" y="1181.45" font-size="9" text-anchor="middle" textLength="12.4" lengthAdjust="spacingAndGlyphs">7.7</text>
<text x="5" y="1188.7" font-size="9" text-anchor="start" textLength="19.6" lengthAdjust="spacingAndGlyphs">hhmm</text>
<text x="58" y="1188.7" font-size="9" text-anchor="middle" textLength="18.9" lengthAdjust="spacingAndGlyphs">1800</text>
<text x="165.33" y="1188.7" font-size="9" text-anchor="middle" textLength="18.9" lengthAdjust="spacingAndGlyphs">1900</text>
<text x="272.67" y="1188.7" font-size="9" text-anchor="middle" textLength="19.6" lengthAdjust="spacingAndGlyphs">2000</text>
<text x="380" y="1188.7" font-size="9" text-anchor="middle" textLength="18.9" lengthAdjust="spacingAndGlyphs">2100</text>
<text x="487.33" y="1188.7" font-size="9" text-anchor="middle" textLength="19.6" lengthAdjust="spacingAndGlyphs">2200</text>
<text x="594.67" y="1188.7" font-size="9" text-anchor="middle" textLength="19.6" lengthAdjust="spacingAndGlyphs">2300</text>
<text x="702" y="1188.7" font-size="9" text-anchor="middle" textLength="19.6" lengthAdjust="spacingAndGlyphs">0000</text>
<text x="5" y="1195.95" font-size="9" text-anchor="start" textLength="18.9" lengthAdjust="spacingAndGlyphs">2021</text>
<text x="58" y="1195.95" font-size="9" text-anchor="middle" textLength="28.5" lengthAdjust="spacingAndGlyphs">Dec 29</text>
<text x="702" y="1195.95" font-size="9" text-anchor="middle" textLength="28.5" lengthAdjust="spacingAndGlyphs">Dec 30</text>
<text transform="translate(21.3,886.75) rotate(-90)" font-size="9" text-anchor="middle" textLength="30" lengthAdjust="spacingAndGlyphs">THE B⊥</text>
<text transform="translate(36.5,887.75) rotate(-90)" font-size="9" text-anchor="middle" textLength="34" lengthAdjust="spacingAndGlyphs">freq [Hz]</text>
<text transform="translate(741,886.75) rotate(-90)" font-size="9" text-anchor="middle" textLength="53" lengthAdjust="spacingAndGlyphs">PSD [nT<tspan font-size="6.5" dy="-3">2</tspan><tspan dy="3">/Hz]</tspan></text>
<text x="55.5" y="858.66" font-size="9" text-anchor="end" textLength="11.5" lengthAdjust="spacingAndGlyphs">1.0</text>
<text x="55.5" y="945.62" font-size="9" text-anchor="end" textLength="11.5" lengthAdjust="spacingAndGlyphs">0.1</text>
<text x="714.5" y="836.55" font-size="9">10<tspan font-size="6.5" dy="-3.5">0</tspan></text>
<text x="714.5" y="877.93" font-size="9">10<tspan font-size="6.5" dy="-3.5">−2</tspan></text>
<text x="714.5" y="919.3" font-size="9">10<tspan font-size="6.5" dy="-3.5">−4</tspan></text>
<text x="714.5" y="960.68" font-size="9">10<tspan font-size="6.5" dy="-3.5">−6</tspan></text>
<text transform="translate(21.3,1052.25) rotate(-90)" font-size="9" text-anchor="middle" textLength="28" lengthAdjust="spacingAndGlyphs">THE B∥</text>
<text transform="translate(36.5,1053.25) rotate(-90)" font-size="9" text-anchor="middle" textLength="34" lengthAdjust="spacingAndGlyphs">freq [Hz]</text>
<text transform="translate(741,1052.25) rotate(-90)" font-size="9" text-anchor="middle" textLength="53" lengthAdjust="spacingAndGlyphs">PSD [nT<tspan font-size="6.5" dy="-3">2</tspan><tspan dy="3">/Hz]</tspan></text>
<text x="55.5" y="1024.16" font-size="9" text-anchor="end" textLength="11.5" lengthAdjust="spacingAndGlyphs">1.0</text>
<text x="55.5" y="1111.12" font-size="9" text-anchor="end" textLength="11.5" lengthAdjust="spacingAndGlyphs">0.1</text>
<text x="714.5" y="1002.05" font-size="9">10<tspan font-size="6.5" dy="-3.5">0</tspan></text>
<text x="714.5" y="1043.43" font-size="9">10<tspan font-size="6.5" dy="-3.5">−2</tspan></text>
<text x="714.5" y="1084.8" font-size="9">10<tspan font-size="6.5" dy="-3.5">−4</tspan></text>
<text x="714.5" y="1126.18" font-size="9">10<tspan font-size="6.5" dy="-3.5">−6</tspan></text>
</g>
</svg></body></html>
